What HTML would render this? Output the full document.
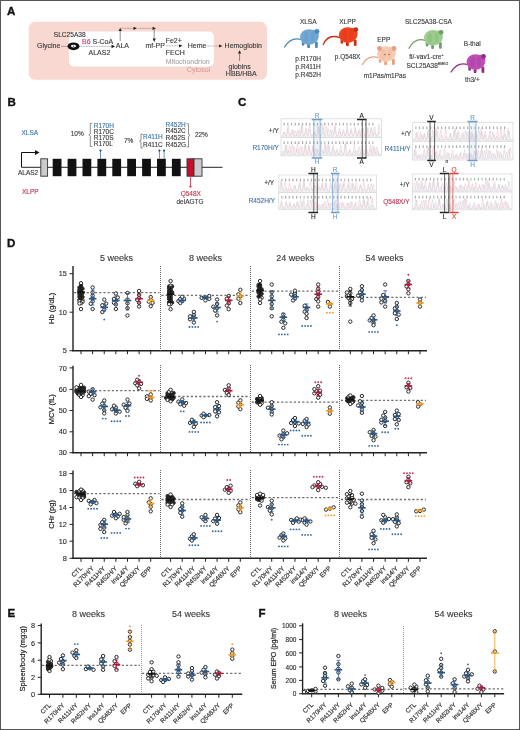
<!DOCTYPE html>
<html><head><meta charset="utf-8"><style>
html,body{margin:0;padding:0;background:#fff;}
svg{display:block;will-change:transform;}
text{font-family:"Liberation Sans",sans-serif;}
</style></head><body>
<svg width="520" height="730" viewBox="0 0 520 730">
<rect x="0" y="0" width="520" height="730" fill="#fff"/>
<text x="7.00" y="15.40" font-size="11.5" fill="#111" text-anchor="start" font-weight="bold" stroke="#111" stroke-width="0.35">A</text>
<rect x="28.7" y="21.8" width="238.3" height="58" rx="6.5" fill="#f9d8d2"/>
<rect x="69" y="31.5" width="145" height="35" rx="5" fill="#fff"/>
<text x="37.00" y="48.00" font-size="7" fill="#383838" text-anchor="start" font-weight="normal" stroke="#383838" stroke-width="0.12" >Glycine</text>
<text x="53.75" y="37.20" font-size="6.6" fill="#383838" text-anchor="start" font-weight="normal" stroke="#383838" stroke-width="0.12" >SLC25A38</text>
<line x1="61.00" y1="46.40" x2="67.00" y2="46.40" stroke="#777" stroke-width="0.6" />
<ellipse cx="73.5" cy="46.3" rx="6" ry="3.9" fill="#111"/>
<ellipse cx="73.5" cy="46.1" rx="2.6" ry="1.3" fill="#fff"/>
<circle cx="73.5" cy="46.1" r="0.7" fill="#111"/>
<line x1="79.50" y1="46.40" x2="112.00" y2="46.40" stroke="#777" stroke-width="0.6" stroke-dasharray="1,0.6"/>
<path d="M111.5,44.6 L115,46.4 L111.5,48.2 Z" fill="#222"/>
<text x="82.00" y="44.00" font-size="7" fill="#383838" text-anchor="start" font-weight="normal" stroke="#383838" stroke-width="0.12" ><tspan fill="#d2336a" stroke="#d2336a">B6</tspan> S-CoA</text>
<text x="88.50" y="55.00" font-size="7" fill="#383838" text-anchor="start" font-weight="normal" stroke="#383838" stroke-width="0.12" >ALAS2</text>
<text x="115.80" y="48.20" font-size="7" fill="#383838" text-anchor="start" font-weight="normal" stroke="#383838" stroke-width="0.12" >ALA</text>
<line x1="120.20" y1="41.00" x2="120.20" y2="30.00" stroke="#444" stroke-width="0.6" />
<path d="M118.6,31 L120.2,27.8 L121.8,31 Z" fill="#222"/>
<line x1="120.20" y1="28.30" x2="134.00" y2="28.30" stroke="#666" stroke-width="0.6" stroke-dasharray="1,0.6"/>
<path d="M133.5,26.7 L137,28.3 L133.5,29.9 Z" fill="#222"/>
<line x1="138.50" y1="28.30" x2="154.50" y2="28.30" stroke="#666" stroke-width="0.6" stroke-dasharray="1,0.6"/>
<path d="M152.5,26.7 L156,28.3 L152.5,29.9 Z" fill="#222"/>
<line x1="154.20" y1="28.30" x2="154.20" y2="39.00" stroke="#444" stroke-width="0.6" />
<path d="M152.6,38.6 L154.2,42 L155.8,38.6 Z" fill="#222"/>
<text x="145.40" y="48.20" font-size="7" fill="#383838" text-anchor="start" font-weight="normal" stroke="#383838" stroke-width="0.12" >mf-PP</text>
<text x="165.70" y="42.70" font-size="7" fill="#383838" text-anchor="start" font-weight="normal" stroke="#383838" stroke-width="0.12" >Fe2+</text>
<line x1="165.70" y1="45.80" x2="179.50" y2="45.80" stroke="#777" stroke-width="0.6" stroke-dasharray="1,0.6"/>
<path d="M179,44.2 L182.5,45.8 L179,47.4 Z" fill="#222"/>
<text x="165.70" y="54.70" font-size="7" fill="#383838" text-anchor="start" font-weight="normal" stroke="#383838" stroke-width="0.12" >FECH</text>
<text x="187.70" y="48.20" font-size="7" fill="#383838" text-anchor="start" font-weight="normal" stroke="#383838" stroke-width="0.12" >Heme</text>
<line x1="206.50" y1="46.00" x2="219.50" y2="46.00" stroke="#777" stroke-width="0.6" stroke-dasharray="1,0.6"/>
<path d="M219,44.4 L222.5,46 L219,47.6 Z" fill="#222"/>
<text x="224.60" y="48.20" font-size="7" fill="#383838" text-anchor="start" font-weight="normal" stroke="#383838" stroke-width="0.12" >Hemoglobin</text>
<line x1="239.60" y1="61.00" x2="239.60" y2="53.00" stroke="#444" stroke-width="0.6" />
<path d="M238,53.5 L239.6,50.2 L241.2,53.5 Z" fill="#222"/>
<text x="239.60" y="68.60" font-size="7" fill="#383838" text-anchor="middle" font-weight="normal" stroke="#383838" stroke-width="0.12" >globins</text>
<text x="241.20" y="76.40" font-size="7" fill="#383838" text-anchor="middle" font-weight="normal" stroke="#383838" stroke-width="0.12" >HBB/HBA</text>
<text x="165.80" y="64.10" font-size="7" fill="#b0aaaa" text-anchor="start" font-weight="normal" stroke="#b0aaaa" stroke-width="0.12" >Mitochondrion</text>
<text x="210.20" y="72.20" font-size="7" fill="#d9a19b" text-anchor="end" font-weight="normal" stroke="#d9a19b" stroke-width="0.12" >Cytosol</text>
<text x="308.20" y="23.50" font-size="6.5" fill="#383838" text-anchor="middle" font-weight="normal" stroke="#383838" stroke-width="0.12" >XLSA</text>
<g transform="translate(309,37.5) scale(1.0)"><path d="M-8,2 Q-18,-1 -24.5,9.5" stroke="#4f87bc" stroke-width="1.3" fill="none" stroke-linecap="round"/><rect x="-7.2" y="3" width="2.6" height="5.2" rx="1.2" fill="#4f87bc"/><rect x="-1.8" y="4" width="2.8" height="6.6" rx="1.2" fill="#4f87bc"/><rect x="6" y="4" width="2.8" height="6.4" rx="1.2" fill="#4f87bc"/><ellipse cx="0" cy="-0.5" rx="9" ry="7.8" fill="#72a8d4"/><ellipse cx="5" cy="-1.5" rx="4.8" ry="6.2" fill="#72a8d4"/><circle cx="8" cy="-6" r="2.4" fill="#4f87bc"/><ellipse cx="-3" cy="0" rx="2.5" ry="5.5" fill="#4f87bc" opacity="0.22"/><ellipse cx="3.5" cy="-1" rx="2" ry="5" fill="#4f87bc" opacity="0.18"/></g>
<text x="308.20" y="61.10" font-size="6.5" fill="#383838" text-anchor="middle" font-weight="normal" stroke="#383838" stroke-width="0.12" >p.R170H</text>
<text x="308.20" y="69.20" font-size="6.5" fill="#383838" text-anchor="middle" font-weight="normal" stroke="#383838" stroke-width="0.12" >p.R411H</text>
<text x="308.20" y="76.80" font-size="6.5" fill="#383838" text-anchor="middle" font-weight="normal" stroke="#383838" stroke-width="0.12" >p.R452H</text>
<text x="347.60" y="23.50" font-size="6.5" fill="#383838" text-anchor="middle" font-weight="normal" stroke="#383838" stroke-width="0.12" >XLPP</text>
<g transform="translate(347.8,35.6) scale(1.0)"><path d="M-8,2 Q-20,-2 -24.5,9" stroke="#cc2e14" stroke-width="1.3" fill="none" stroke-linecap="round"/><rect x="-7.2" y="3" width="2.6" height="5.2" rx="1.2" fill="#cc2e14"/><rect x="-1.8" y="4" width="2.8" height="6.6" rx="1.2" fill="#cc2e14"/><rect x="6" y="4" width="2.8" height="6.4" rx="1.2" fill="#cc2e14"/><ellipse cx="0" cy="-0.5" rx="9" ry="7.8" fill="#ee4320"/><ellipse cx="5" cy="-1.5" rx="4.8" ry="6.2" fill="#ee4320"/><circle cx="8" cy="-6" r="2.4" fill="#cc2e14"/><ellipse cx="-3" cy="0" rx="2.5" ry="5.5" fill="#cc2e14" opacity="0.22"/><ellipse cx="3.5" cy="-1" rx="2" ry="5" fill="#cc2e14" opacity="0.18"/></g>
<text x="347.60" y="59.20" font-size="6.5" fill="#383838" text-anchor="middle" font-weight="normal" stroke="#383838" stroke-width="0.12" >p.Q548X</text>
<text x="383.80" y="42.00" font-size="6.5" fill="#383838" text-anchor="middle" font-weight="normal" stroke="#383838" stroke-width="0.12" >EPP</text>
<g transform="translate(386,54.5) scale(1.0)"><path d="M-8,3 Q-18,0 -23.5,10" stroke="#e6a07c" stroke-width="1.3" fill="none" stroke-linecap="round"/><rect x="-7.2" y="3" width="2.6" height="5.2" rx="1.2" fill="#e6a07c"/><rect x="-1.8" y="4" width="2.8" height="6.6" rx="1.2" fill="#e6a07c"/><rect x="6" y="4" width="2.8" height="6.4" rx="1.2" fill="#e6a07c"/><ellipse cx="0" cy="-0.5" rx="9" ry="7.8" fill="#f6cbb3"/><ellipse cx="5" cy="-1.5" rx="4.8" ry="6.2" fill="#f6cbb3"/><circle cx="8" cy="-6" r="2.4" fill="#e6a07c"/><circle cx="-6.5" cy="-6" r="2.4" fill="#e6a07c"/><ellipse cx="-3" cy="0" rx="2.5" ry="5.5" fill="#e6a07c" opacity="0.22"/><ellipse cx="3.5" cy="-1" rx="2" ry="5" fill="#e6a07c" opacity="0.18"/><circle cx="-1" cy="0" r="0.8" fill="#a06050"/><circle cx="3" cy="0" r="0.8" fill="#a06050"/></g>
<text x="384.80" y="77.50" font-size="6.5" fill="#383838" text-anchor="middle" font-weight="normal" stroke="#383838" stroke-width="0.12" >m1Pas/m1Pas</text>
<text x="428.40" y="23.80" font-size="6.5" fill="#383838" text-anchor="middle" font-weight="normal" stroke="#383838" stroke-width="0.12" >SLC25A38-CSA</text>
<g transform="translate(433,38.3) scale(1.0)"><path d="M-8,2 Q-18,-1 -24,10" stroke="#6e9f66" stroke-width="1.3" fill="none" stroke-linecap="round"/><rect x="-7.2" y="3" width="2.6" height="5.2" rx="1.2" fill="#6e9f66"/><rect x="-1.8" y="4" width="2.8" height="6.6" rx="1.2" fill="#6e9f66"/><rect x="6" y="4" width="2.8" height="6.4" rx="1.2" fill="#6e9f66"/><ellipse cx="0" cy="-0.5" rx="9" ry="7.8" fill="#9ccd8e"/><ellipse cx="5" cy="-1.5" rx="4.8" ry="6.2" fill="#9ccd8e"/><circle cx="8" cy="-6" r="2.4" fill="#6e9f66"/><ellipse cx="-3" cy="0" rx="2.5" ry="5.5" fill="#6e9f66" opacity="0.22"/><ellipse cx="3.5" cy="-1" rx="2" ry="5" fill="#6e9f66" opacity="0.18"/></g>
<text x="409.30" y="59.30" font-size="6.5" fill="#383838" text-anchor="start" font-weight="normal" stroke="#383838" stroke-width="0.12" >fl/-vav1-cre<tspan font-size="3.5" dy="-3">+</tspan></text>
<text x="406.40" y="68.20" font-size="6.5" fill="#383838" text-anchor="start" font-weight="normal" stroke="#383838" stroke-width="0.12" >SCL25A38<tspan font-size="3.5" dy="-3">BMKO</tspan></text>
<text x="472.30" y="46.30" font-size="6.5" fill="#383838" text-anchor="middle" font-weight="normal" stroke="#383838" stroke-width="0.12" >B-thal</text>
<g transform="translate(475.5,62.5) scale(1.0)"><path d="M-8,2 Q-18,-1 -24.5,9.5" stroke="#8e2e87" stroke-width="1.3" fill="none" stroke-linecap="round"/><rect x="-7.2" y="3" width="2.6" height="5.2" rx="1.2" fill="#8e2e87"/><rect x="-1.8" y="4" width="2.8" height="6.6" rx="1.2" fill="#8e2e87"/><rect x="6" y="4" width="2.8" height="6.4" rx="1.2" fill="#8e2e87"/><ellipse cx="0" cy="-0.5" rx="9" ry="7.8" fill="#bf4db5"/><ellipse cx="5" cy="-1.5" rx="4.8" ry="6.2" fill="#bf4db5"/><circle cx="8" cy="-6" r="2.4" fill="#8e2e87"/><ellipse cx="-3" cy="0" rx="2.5" ry="5.5" fill="#8e2e87" opacity="0.22"/><ellipse cx="3.5" cy="-1" rx="2" ry="5" fill="#8e2e87" opacity="0.18"/></g>
<text x="472.40" y="81.80" font-size="6.5" fill="#383838" text-anchor="middle" font-weight="normal" stroke="#383838" stroke-width="0.12" >th3/+</text>
<text x="7.50" y="105.80" font-size="11.5" fill="#111" text-anchor="start" font-weight="bold" stroke="#111" stroke-width="0.35">B</text>
<text x="21.50" y="134.60" font-size="6.5" fill="#3f74a8" text-anchor="start" font-weight="normal" stroke="#3f74a8" stroke-width="0.12" >XLSA</text>
<text x="22.00" y="194.20" font-size="6.5" fill="#c1304f" text-anchor="start" font-weight="normal" stroke="#c1304f" stroke-width="0.12" >XLPP</text>
<path d="M21.5,167.3 L21.5,152.5 L35.5,152.5" stroke="#111" stroke-width="1" fill="none"/>
<path d="M35,150 L39.5,152.5 L35,155 Z" fill="#111"/>
<text x="18.00" y="174.60" font-size="6.5" fill="#383838" text-anchor="start" font-weight="normal" stroke="#383838" stroke-width="0.12" >ALAS2</text>
<line x1="21.50" y1="167.30" x2="222.50" y2="167.30" stroke="#222" stroke-width="1" />
<rect x="40.8" y="158.8" width="6.8" height="17.4" fill="#ccc" stroke="#333" stroke-width="0.9"/>
<rect x="52.70" y="158.8" width="8.8" height="17.4" fill="#111"/>
<rect x="67.60" y="158.8" width="8.8" height="17.4" fill="#111"/>
<rect x="82.50" y="158.8" width="8.8" height="17.4" fill="#111"/>
<rect x="97.40" y="158.8" width="8.8" height="17.4" fill="#111"/>
<rect x="112.30" y="158.8" width="8.8" height="17.4" fill="#111"/>
<rect x="127.20" y="158.8" width="8.8" height="17.4" fill="#111"/>
<rect x="142.10" y="158.8" width="8.8" height="17.4" fill="#111"/>
<rect x="157.00" y="158.8" width="8.8" height="17.4" fill="#111"/>
<rect x="171.90" y="158.8" width="8.8" height="17.4" fill="#111"/>
<rect x="187" y="158.8" width="7" height="17.4" fill="#c8102e" stroke="#333" stroke-width="0.9"/>
<rect x="194" y="158.8" width="8" height="17.4" fill="#ccc" stroke="#333" stroke-width="0.9"/>
<line x1="100.50" y1="151.00" x2="100.50" y2="158.80" stroke="#3f74a8" stroke-width="0.8" />
<circle cx="100.5" cy="150.6" r="1.1" fill="#1d4f80"/>
<line x1="159.40" y1="151.00" x2="159.40" y2="158.80" stroke="#3f74a8" stroke-width="0.8" />
<circle cx="159.4" cy="150.6" r="1.1" fill="#1d4f80"/>
<line x1="164.10" y1="151.00" x2="164.10" y2="158.80" stroke="#3f74a8" stroke-width="0.8" />
<circle cx="164.1" cy="150.6" r="1.1" fill="#1d4f80"/>
<line x1="190.50" y1="176.20" x2="190.50" y2="186.00" stroke="#c1304f" stroke-width="0.8" />
<circle cx="190.5" cy="186.6" r="1.1" fill="#c1304f"/>
<text x="190.80" y="195.50" font-size="6.5" fill="#c1304f" text-anchor="middle" font-weight="normal" stroke="#c1304f" stroke-width="0.12" >Q548X</text>
<text x="190.00" y="203.70" font-size="6.5" fill="#383838" text-anchor="middle" font-weight="normal" stroke="#383838" stroke-width="0.12" >delAGTG</text>
<text x="70.70" y="136.10" font-size="6.5" fill="#383838" text-anchor="start" font-weight="normal" stroke="#383838" stroke-width="0.12" >10%</text>
<text x="93.70" y="128.00" font-size="6.5" fill="#3f74a8" text-anchor="start" font-weight="normal" stroke="#3f74a8" stroke-width="0.12" >R170H</text>
<text x="93.70" y="134.20" font-size="6.5" fill="#383838" text-anchor="start" font-weight="normal" stroke="#383838" stroke-width="0.12" >R170C</text>
<text x="93.70" y="140.20" font-size="6.5" fill="#383838" text-anchor="start" font-weight="normal" stroke="#383838" stroke-width="0.12" >R170S</text>
<text x="93.70" y="146.20" font-size="6.5" fill="#383838" text-anchor="start" font-weight="normal" stroke="#383838" stroke-width="0.12" >R170L</text>
<path d="M92.3,123.3 L90.3,123.3 L90.3,133.9 L88.8,134.9 L90.3,135.9 L90.3,146.5 L92.3,146.5" stroke="#444" stroke-width="0.6" fill="none"/>
<text x="124.00" y="143.00" font-size="6.5" fill="#383838" text-anchor="start" font-weight="normal" stroke="#383838" stroke-width="0.12" >7%</text>
<path d="M143,134.2 L141,134.2 L141,140.1 L139.5,141.1 L141,142.1 L141,148 L143,148" stroke="#444" stroke-width="0.6" fill="none"/>
<text x="143.00" y="139.40" font-size="6.5" fill="#3f74a8" text-anchor="start" font-weight="normal" stroke="#3f74a8" stroke-width="0.12" >R411H</text>
<text x="143.00" y="146.70" font-size="6.5" fill="#383838" text-anchor="start" font-weight="normal" stroke="#383838" stroke-width="0.12" >R411C</text>
<text x="165.50" y="127.30" font-size="6.5" fill="#3f74a8" text-anchor="start" font-weight="normal" stroke="#3f74a8" stroke-width="0.12" >R452H</text>
<text x="165.50" y="133.40" font-size="6.5" fill="#383838" text-anchor="start" font-weight="normal" stroke="#383838" stroke-width="0.12" >R452C</text>
<text x="165.50" y="139.60" font-size="6.5" fill="#383838" text-anchor="start" font-weight="normal" stroke="#383838" stroke-width="0.12" >R452S</text>
<text x="165.50" y="146.70" font-size="6.5" fill="#383838" text-anchor="start" font-weight="normal" stroke="#383838" stroke-width="0.12" >R452G</text>
<path d="M186.5,123.8 L188.5,123.8 L188.5,134.4 L190.0,135.4 L188.5,136.4 L188.5,147 L186.5,147" stroke="#444" stroke-width="0.6" fill="none"/>
<text x="194.90" y="136.80" font-size="6.5" fill="#383838" text-anchor="start" font-weight="normal" stroke="#383838" stroke-width="0.12" >22%</text>
<text x="238.00" y="106.40" font-size="11.5" fill="#111" text-anchor="start" font-weight="bold" stroke="#111" stroke-width="0.35">C</text>
<rect x="281" y="118.8" width="100.5" height="37.000000000000014" fill="#fff" stroke="#d4d4d4" stroke-width="0.7"/>
<line x1="281.00" y1="137.30" x2="381.50" y2="137.30" stroke="#d6d6d6" stroke-width="1.0" />
<rect x="283.5" y="122.9" width="1.2" height="2.6" fill="#a8acb0"/>
<rect x="287.2" y="122.9" width="1.2" height="2.6" fill="#afbcaf"/>
<rect x="290.9" y="122.9" width="1.2" height="2.6" fill="#afbcaf"/>
<rect x="294.6" y="122.9" width="1.2" height="2.6" fill="#a8acb0"/>
<rect x="298.3" y="122.9" width="1.2" height="2.6" fill="#a8acb0"/>
<rect x="302.0" y="122.9" width="1.2" height="2.6" fill="#a8acb0"/>
<rect x="305.7" y="122.9" width="1.2" height="2.6" fill="#a8acb0"/>
<rect x="309.4" y="122.9" width="1.2" height="2.6" fill="#afbcaf"/>
<rect x="313.1" y="122.9" width="1.2" height="2.6" fill="#a8acb0"/>
<rect x="316.8" y="122.9" width="1.2" height="2.6" fill="#a8acb0"/>
<rect x="320.5" y="122.9" width="1.2" height="2.6" fill="#afbcaf"/>
<rect x="324.2" y="122.9" width="1.2" height="2.6" fill="#a8acb0"/>
<rect x="327.9" y="122.9" width="1.2" height="2.6" fill="#afbcaf"/>
<rect x="331.6" y="122.9" width="1.2" height="2.6" fill="#a8acb0"/>
<rect x="335.3" y="122.9" width="1.2" height="2.6" fill="#a8acb0"/>
<rect x="339.0" y="122.9" width="1.2" height="2.6" fill="#afbcaf"/>
<rect x="342.7" y="122.9" width="1.2" height="2.6" fill="#a8acb0"/>
<rect x="346.4" y="122.9" width="1.2" height="2.6" fill="#afbcaf"/>
<rect x="350.1" y="122.9" width="1.2" height="2.6" fill="#afbcaf"/>
<rect x="353.8" y="122.9" width="1.2" height="2.6" fill="#a8acb0"/>
<rect x="357.5" y="122.9" width="1.2" height="2.6" fill="#a8acb0"/>
<rect x="361.2" y="122.9" width="1.2" height="2.6" fill="#a8acb0"/>
<rect x="364.9" y="122.9" width="1.2" height="2.6" fill="#afbcaf"/>
<rect x="368.6" y="122.9" width="1.2" height="2.6" fill="#a8acb0"/>
<rect x="372.3" y="122.9" width="1.2" height="2.6" fill="#a8acb0"/>
<line x1="281.00" y1="136.10" x2="381.50" y2="136.10" stroke="#dcdcdc" stroke-width="0.5" />
<polyline points="282.0,135.8 282.5,135.8 283.0,135.5 283.5,134.3 284.0,132.4 284.5,132.3 285.0,134.2 285.5,135.4 286.0,135.7 286.5,135.1 287.0,132.5 287.5,129.1 288.0,129.5 288.5,133.1 289.0,135.3 289.5,135.8 290.0,135.7 290.5,135.2 291.0,133.2 291.5,130.6 292.0,131.0 292.5,133.8 293.0,135.4 293.5,135.7 294.0,135.2 294.5,133.1 295.0,130.6 295.5,131.3 296.0,134.0 296.5,135.5 297.0,135.8 297.5,135.7 298.0,134.8 298.5,132.3 299.0,129.9 299.5,131.3 300.0,134.2 300.5,135.5 301.0,134.3 301.5,130.1 302.0,125.5 302.5,127.3 303.0,132.6 303.5,135.3 304.0,135.8 304.5,135.7 305.0,135.0 305.5,132.0 306.0,127.7 306.5,127.8 307.0,132.2 307.5,135.1 308.0,135.6 308.5,134.1 309.0,129.2 309.5,124.2 310.0,126.5 310.5,132.4 311.0,135.2 311.5,135.8 312.0,135.8 312.5,135.8 313.0,135.5 313.5,134.2 314.0,131.9 314.5,131.4 315.0,133.5 315.5,135.3 316.0,135.7 316.5,135.5 317.0,133.8 317.5,129.3 318.0,126.2 318.5,129.4 319.0,133.8 319.5,135.5 320.0,135.8 320.5,135.8 321.0,135.3 321.5,132.8 322.0,127.2 322.5,124.6 323.0,129.1 323.5,134.0 324.0,135.6 324.5,135.7 325.0,134.9 325.5,131.6 326.0,126.4 326.5,126.2 327.0,131.3 327.5,134.8 328.0,135.7 328.5,135.8 329.0,135.7 329.5,134.9 330.0,132.3 330.5,129.8 331.0,131.0 331.5,134.1 332.0,135.5 332.5,135.8 333.0,135.7 333.5,134.9 334.0,131.6 334.5,126.1 335.0,125.7 335.5,131.0 336.0,134.7 336.5,135.7 337.0,135.8 337.5,135.8 338.0,135.5 338.5,134.0 339.0,130.3 339.5,128.0 340.0,130.8 340.5,134.3 341.0,135.6 341.5,135.8 342.0,135.7 342.5,135.3 343.0,133.8 343.5,132.1 344.0,132.6 344.5,134.6 345.0,135.6 345.5,135.6 346.0,134.4 346.5,130.4 347.0,125.9 347.5,127.5 348.0,132.6 348.5,135.2 349.0,135.8 349.5,135.6 350.0,134.6 350.5,132.2 351.0,130.8 351.5,132.6 352.0,134.9 352.5,135.7 353.0,135.8 353.5,135.6 354.0,134.2 354.5,130.0 355.0,126.4 355.5,128.9 356.0,133.4 356.5,135.4 357.0,135.8 357.5,135.8 358.0,135.5 358.5,134.0 359.0,130.7 359.5,129.2 360.0,131.9 360.5,134.8 361.0,135.7 361.5,135.7 362.0,135.2 362.5,132.8 363.0,128.9 363.5,128.5 364.0,132.3 364.5,135.0 365.0,135.7 365.5,135.8 366.0,135.8 366.5,135.3 367.0,133.2 367.5,129.2 368.0,128.2 368.5,131.8 369.0,134.8 369.5,135.7 370.0,135.7 370.5,134.8 371.0,131.7 371.5,128.4 372.0,129.6 372.5,133.5 373.0,135.4 373.5,135.4 374.0,133.9 374.5,132.1 375.0,132.4 375.5,134.4 376.0,135.5 376.5,135.8 377.0,135.8 377.5,135.6 378.0,134.0 378.5,129.1 379.0,124.2 379.5,126.7 380.0,132.5" fill="none" stroke="#eebcc6" stroke-width="0.5"/>
<polyline points="282.0,135.8 282.5,135.7 283.0,135.3 283.5,133.6 284.0,131.6 284.5,132.0 285.0,134.2 285.5,135.5 286.0,135.8 286.5,135.7 287.0,134.6 287.5,130.8 288.0,125.9 288.5,126.8 289.0,132.1 289.5,135.1 290.0,135.7 290.5,135.8 291.0,135.7 291.5,135.1 292.0,132.6 292.5,129.2 293.0,129.4 293.5,133.0 294.0,135.2 294.5,135.7 295.0,135.8 295.5,135.8 296.0,135.6 296.5,134.6 297.0,132.2 297.5,130.9 298.0,132.8 298.5,134.9 299.0,135.7 299.5,135.8 300.0,135.5 300.5,133.5 301.0,128.6 301.5,125.5 302.0,129.1 302.5,133.8 303.0,135.5 303.5,135.8 304.0,135.7 304.5,134.9 305.0,132.2 305.5,129.4 306.0,130.5 306.5,133.8 307.0,135.4 307.5,135.7 308.0,134.9 308.5,132.2 309.0,128.9 309.5,129.7 310.0,133.3 310.5,135.3 311.0,135.8 311.5,135.8 312.0,135.8 312.5,135.7 313.0,135.3 313.5,133.9 314.0,132.6 314.5,133.3 315.0,134.9 315.5,135.7 316.0,135.8 316.5,135.8 317.0,135.7 317.5,134.6 318.0,131.0 318.5,126.8 319.0,128.1 319.5,132.8 320.0,135.3 320.5,135.8 321.0,135.8 321.5,135.8 322.0,135.4 322.5,133.5 323.0,129.2 323.5,127.2 324.0,130.6 324.5,134.4 325.0,135.6 325.5,135.8 326.0,135.8 326.5,135.6 327.0,134.5 327.5,131.3 328.0,128.8 328.5,130.7 329.0,134.1 329.5,135.5 330.0,135.8 330.5,135.7 331.0,135.0 331.5,132.6 332.0,129.7 332.5,130.5 333.0,133.7 333.5,135.4 334.0,135.0 334.5,132.0 335.0,127.2 335.5,126.9 336.0,131.5 336.5,134.9 337.0,135.7 337.5,135.8 338.0,135.6 338.5,134.5 339.0,132.2 339.5,131.2 340.0,133.1 340.5,135.1 341.0,135.7 341.5,135.8 342.0,135.5 342.5,134.0 343.0,130.7 343.5,129.1 344.0,131.7 344.5,134.7 345.0,135.7 345.5,135.7 346.0,135.0 346.5,132.8 347.0,130.2 347.5,131.1 348.0,134.0 348.5,135.5 349.0,135.8 349.5,135.7 350.0,135.0 350.5,132.3 351.0,128.5 351.5,128.9 352.0,132.8 352.5,135.2 353.0,135.7 353.5,135.8 354.0,135.5 354.5,134.1 355.0,130.9 355.5,129.2 356.0,131.8 356.5,134.7 357.0,135.7 357.5,134.8 358.0,132.5 358.5,130.9 359.0,132.5 359.5,134.8 360.0,135.7 360.5,135.4 361.0,133.4 361.5,129.6 362.0,128.5 362.5,131.9 363.0,134.8 363.5,135.7 364.0,135.8 364.5,135.8 365.0,135.6 365.5,134.3 366.0,130.3 366.5,126.7 367.0,128.9 367.5,133.4 368.0,135.4 368.5,135.8 369.0,135.8 369.5,135.7 370.0,134.7 370.5,131.2 371.0,126.9 371.5,128.0 372.0,132.7 372.5,135.2 373.0,135.7 373.5,134.7 374.0,131.2 374.5,126.8 375.0,127.8 375.5,132.5 376.0,135.2 376.5,135.7 377.0,135.8 377.5,135.7 378.0,135.1 378.5,133.3 379.0,132.0 379.5,133.1 380.0,134.9" fill="none" stroke="#c8ccd6" stroke-width="0.5"/>
<rect x="283.5" y="141.4" width="1.2" height="2.6" fill="#a8acb0"/>
<rect x="287.2" y="141.4" width="1.2" height="2.6" fill="#afbcaf"/>
<rect x="290.9" y="141.4" width="1.2" height="2.6" fill="#a8acb0"/>
<rect x="294.6" y="141.4" width="1.2" height="2.6" fill="#a8acb0"/>
<rect x="298.3" y="141.4" width="1.2" height="2.6" fill="#a8acb0"/>
<rect x="302.0" y="141.4" width="1.2" height="2.6" fill="#a8acb0"/>
<rect x="305.7" y="141.4" width="1.2" height="2.6" fill="#a8acb0"/>
<rect x="309.4" y="141.4" width="1.2" height="2.6" fill="#a8acb0"/>
<rect x="313.1" y="141.4" width="1.2" height="2.6" fill="#a8acb0"/>
<rect x="316.8" y="141.4" width="1.2" height="2.6" fill="#a8acb0"/>
<rect x="320.5" y="141.4" width="1.2" height="2.6" fill="#a8acb0"/>
<rect x="324.2" y="141.4" width="1.2" height="2.6" fill="#afbcaf"/>
<rect x="327.9" y="141.4" width="1.2" height="2.6" fill="#a8acb0"/>
<rect x="331.6" y="141.4" width="1.2" height="2.6" fill="#a8acb0"/>
<rect x="335.3" y="141.4" width="1.2" height="2.6" fill="#a8acb0"/>
<rect x="339.0" y="141.4" width="1.2" height="2.6" fill="#a8acb0"/>
<rect x="342.7" y="141.4" width="1.2" height="2.6" fill="#a8acb0"/>
<rect x="346.4" y="141.4" width="1.2" height="2.6" fill="#a8acb0"/>
<rect x="350.1" y="141.4" width="1.2" height="2.6" fill="#a8acb0"/>
<rect x="353.8" y="141.4" width="1.2" height="2.6" fill="#a8acb0"/>
<rect x="357.5" y="141.4" width="1.2" height="2.6" fill="#afbcaf"/>
<rect x="361.2" y="141.4" width="1.2" height="2.6" fill="#a8acb0"/>
<rect x="364.9" y="141.4" width="1.2" height="2.6" fill="#a8acb0"/>
<rect x="368.6" y="141.4" width="1.2" height="2.6" fill="#a8acb0"/>
<rect x="372.3" y="141.4" width="1.2" height="2.6" fill="#afbcaf"/>
<line x1="281.00" y1="154.60" x2="381.50" y2="154.60" stroke="#dcdcdc" stroke-width="0.5" />
<polyline points="282.0,153.7 282.5,152.0 283.0,150.6 283.5,151.5 284.0,153.4 284.5,154.2 285.0,153.8 285.5,151.3 286.0,146.5 286.5,145.1 287.0,149.3 287.5,153.1 288.0,154.2 288.5,153.2 289.0,149.7 289.5,145.3 290.0,146.3 290.5,151.0 291.0,153.7 291.5,154.2 292.0,154.3 292.5,154.1 293.0,152.8 293.5,149.1 294.0,146.2 294.5,148.6 295.0,152.4 295.5,154.0 296.0,153.9 296.5,151.6 297.0,146.1 297.5,142.6 298.0,146.7 298.5,152.1 299.0,154.0 299.5,154.3 300.0,154.3 300.5,154.1 301.0,153.0 301.5,149.6 302.0,146.5 302.5,148.4 303.0,152.3 303.5,154.0 304.0,154.1 304.5,152.5 305.0,148.4 305.5,145.4 306.0,148.1 306.5,152.3 307.0,154.0 307.5,154.2 308.0,153.7 308.5,151.3 309.0,147.1 309.5,146.4 310.0,150.4 310.5,153.4 311.0,154.2 311.5,154.0 312.0,152.1 312.5,147.9 313.0,145.5 313.5,148.8 314.0,152.7 314.5,154.1 315.0,153.3 315.5,150.6 316.0,148.3 316.5,149.8 317.0,152.8 317.5,154.1 318.0,154.3 318.5,154.3 319.0,154.3 319.5,154.0 320.0,152.0 320.5,147.0 321.0,143.5 321.5,147.0 322.0,152.0 322.5,154.0 323.0,154.1 323.5,152.8 324.0,148.4 324.5,143.8 325.0,145.8 325.5,151.2 326.0,153.8 326.5,154.2 327.0,153.2 327.5,149.4 328.0,143.9 328.5,144.1 329.0,149.7 329.5,153.4 330.0,154.2 330.5,154.3 331.0,154.2 331.5,153.6 332.0,151.2 332.5,147.8 333.0,148.1 333.5,151.6 334.0,153.8 334.5,154.2 335.0,154.0 335.5,152.7 336.0,150.9 336.5,151.1 337.0,152.9 337.5,154.0 338.0,154.3 338.5,154.3 339.0,154.3 339.5,154.2 340.0,153.4 340.5,151.6 341.0,150.4 341.5,151.7 342.0,153.5 342.5,154.2 343.0,154.3 343.5,154.3 344.0,154.1 344.5,152.7 345.0,148.0 345.5,143.0 346.0,145.0 346.5,150.8 347.0,153.7 347.5,154.3 348.0,154.3 348.5,153.9 349.0,152.3 349.5,149.8 350.0,149.7 350.5,152.2 351.0,153.8 351.5,154.3 352.0,154.3 352.5,154.3 353.0,154.0 353.5,151.9 354.0,146.4 354.5,142.6 355.0,146.4 355.5,151.9 356.0,154.0 356.5,154.3 357.0,154.3 357.5,153.9 358.0,152.1 358.5,148.3 359.0,146.6 359.5,149.8 360.0,153.1 360.5,154.2 361.0,154.2 361.5,153.5 362.0,151.1 362.5,148.1 363.0,148.9 363.5,152.1 364.0,153.9 364.5,154.1 365.0,152.8 365.5,148.8 366.0,145.2 366.5,147.4 367.0,151.9 367.5,153.9 368.0,154.3 368.5,154.1 369.0,153.0 369.5,150.5 370.0,149.2 370.5,151.1 371.0,153.4 371.5,154.2 372.0,153.1 372.5,149.6 373.0,145.5 373.5,146.8 374.0,151.4 374.5,153.8 375.0,154.2 375.5,153.6 376.0,151.0 376.5,147.3 377.0,147.3 377.5,151.2 378.0,153.6 378.5,154.2 379.0,154.3 379.5,154.3 380.0,154.3" fill="none" stroke="#eebcc6" stroke-width="0.5"/>
<polyline points="282.0,154.3 282.5,154.3 283.0,154.3 283.5,154.3 284.0,154.1 284.5,152.9 285.0,148.8 285.5,144.6 286.0,146.5 286.5,151.4 287.0,153.8 287.5,153.7 288.0,151.9 288.5,149.8 289.0,150.4 289.5,152.8 290.0,154.0 290.5,154.2 291.0,153.6 291.5,150.5 292.0,145.2 292.5,144.4 293.0,149.3 293.5,153.2 294.0,154.2 294.5,154.3 295.0,154.3 295.5,154.0 296.0,152.6 296.5,149.7 297.0,148.7 297.5,151.2 298.0,153.5 298.5,154.2 299.0,153.7 299.5,151.3 300.0,147.2 300.5,146.6 301.0,150.5 301.5,153.4 302.0,154.2 302.5,154.3 303.0,154.3 303.5,154.0 304.0,152.0 304.5,147.2 305.0,144.2 305.5,147.7 306.0,152.4 306.5,154.0 307.0,154.2 307.5,153.1 308.0,149.4 308.5,144.9 309.0,146.2 309.5,151.1 310.0,153.7 310.5,154.3 311.0,154.3 311.5,154.1 312.0,153.0 312.5,150.0 313.0,147.5 313.5,149.5 314.0,152.7 314.5,154.1 315.0,154.3 315.5,154.3 316.0,154.3 316.5,154.2 317.0,153.3 317.5,151.0 318.0,149.4 318.5,150.9 319.0,153.2 319.5,154.1 320.0,154.3 320.5,154.3 321.0,154.2 321.5,153.4 322.0,151.5 322.5,150.5 323.0,151.9 323.5,153.6 324.0,154.2 324.5,153.6 325.0,150.6 325.5,145.6 326.0,145.0 326.5,149.7 327.0,153.3 327.5,154.2 328.0,153.4 328.5,150.4 329.0,146.1 329.5,146.5 330.0,150.9 330.5,153.6 331.0,154.2 331.5,154.3 332.0,153.9 332.5,151.8 333.0,147.2 333.5,144.9 334.0,148.7 334.5,152.8 335.0,154.1 335.5,154.2 336.0,153.6 336.5,151.4 337.0,148.8 337.5,149.5 338.0,152.4 338.5,154.0 339.0,154.2 339.5,153.4 340.0,150.2 340.5,145.5 341.0,145.6 341.5,150.4 342.0,153.5 342.5,154.2 343.0,154.3 343.5,153.9 344.0,151.8 344.5,146.8 345.0,144.1 345.5,147.9 346.0,152.5 346.5,154.1 347.0,154.3 347.5,154.3 348.0,154.3 348.5,153.9 349.0,152.5 349.5,150.4 350.0,150.6 350.5,152.7 351.0,154.0 351.5,154.3 352.0,154.3 352.5,154.0 353.0,152.9 353.5,150.9 354.0,150.5 354.5,152.3 355.0,153.8 355.5,154.1 356.0,153.3 356.5,151.4 357.0,150.6 357.5,152.2 358.0,153.7 358.5,154.2 359.0,154.3 359.5,154.3 360.0,154.2 360.5,153.1 361.0,149.5 361.5,145.5 362.0,146.9 362.5,151.5 363.0,153.8 363.5,154.3 364.0,154.3 364.5,154.3 365.0,153.9 365.5,152.2 366.0,149.3 366.5,148.9 367.0,151.7 367.5,153.7 368.0,154.2 368.5,154.3 369.0,154.1 369.5,152.6 370.0,148.4 370.5,145.3 371.0,148.0 371.5,152.3 372.0,154.0 372.5,154.2 373.0,153.7 373.5,151.4 374.0,147.7 374.5,147.4 375.0,151.0 375.5,153.6 376.0,154.2 376.5,153.9 377.0,152.6 377.5,150.8 378.0,150.9 378.5,152.8 379.0,154.0 379.5,154.3 380.0,154.3" fill="none" stroke="#c8ccd6" stroke-width="0.5"/>
<rect x="313.8" y="119.4" width="6.399999999999977" height="38.5" fill="#6f9ccc" opacity="0.12"/>
<path d="M311.7,119.4 L322.3,119.4 M311.7,157.9 L322.3,157.9" stroke="#6f9ccc" stroke-width="1.5" fill="none"/>
<line x1="313.80" y1="119.40" x2="313.80" y2="157.90" stroke="#6f9ccc" stroke-width="0.7" />
<line x1="320.20" y1="119.40" x2="320.20" y2="157.90" stroke="#6f9ccc" stroke-width="0.7" />
<text x="317.00" y="117.60" font-size="6.5" fill="#6f9ccc" text-anchor="middle" font-weight="normal" stroke="#6f9ccc" stroke-width="0.12" >R</text>
<text x="317.00" y="164.20" font-size="6.5" fill="#6f9ccc" text-anchor="middle" font-weight="normal" stroke="#6f9ccc" stroke-width="0.12" >H</text>
<path d="M357,119.4 L366.5,119.4 M357,157.9 L366.5,157.9" stroke="#222" stroke-width="1.5" fill="none"/>
<line x1="362.30" y1="119.40" x2="362.30" y2="157.90" stroke="#222" stroke-width="0.7" />
<line x1="366.00" y1="119.40" x2="366.00" y2="157.90" stroke="#222" stroke-width="0.7" />
<text x="361.75" y="117.60" font-size="6.5" fill="#222" text-anchor="middle" font-weight="normal" stroke="#222" stroke-width="0.12" >A</text>
<text x="361.75" y="164.20" font-size="6.5" fill="#222" text-anchor="middle" font-weight="normal" stroke="#222" stroke-width="0.12" >A</text>
<text x="278.80" y="133.30" font-size="6.5" fill="#383838" text-anchor="end" font-weight="normal" stroke="#383838" stroke-width="0.12" >+/Y</text>
<text x="278.80" y="149.70" font-size="6.5" fill="#3f74a8" text-anchor="end" font-weight="normal" stroke="#3f74a8" stroke-width="0.12" >R170H/Y</text>
<rect x="412.7" y="122.3" width="100.30000000000001" height="37.7" fill="#fff" stroke="#d4d4d4" stroke-width="0.7"/>
<line x1="412.70" y1="141.15" x2="513.00" y2="141.15" stroke="#d6d6d6" stroke-width="1.0" />
<rect x="415.2" y="126.5" width="1.2" height="2.6" fill="#afbcaf"/>
<rect x="418.9" y="126.5" width="1.2" height="2.6" fill="#afbcaf"/>
<rect x="422.6" y="126.5" width="1.2" height="2.6" fill="#a8acb0"/>
<rect x="426.3" y="126.5" width="1.2" height="2.6" fill="#a8acb0"/>
<rect x="430.0" y="126.5" width="1.2" height="2.6" fill="#afbcaf"/>
<rect x="433.7" y="126.5" width="1.2" height="2.6" fill="#afbcaf"/>
<rect x="437.4" y="126.5" width="1.2" height="2.6" fill="#a8acb0"/>
<rect x="441.1" y="126.5" width="1.2" height="2.6" fill="#a8acb0"/>
<rect x="444.8" y="126.5" width="1.2" height="2.6" fill="#a8acb0"/>
<rect x="448.5" y="126.5" width="1.2" height="2.6" fill="#a8acb0"/>
<rect x="452.2" y="126.5" width="1.2" height="2.6" fill="#a8acb0"/>
<rect x="455.9" y="126.5" width="1.2" height="2.6" fill="#a8acb0"/>
<rect x="459.6" y="126.5" width="1.2" height="2.6" fill="#a8acb0"/>
<rect x="463.3" y="126.5" width="1.2" height="2.6" fill="#a8acb0"/>
<rect x="467.0" y="126.5" width="1.2" height="2.6" fill="#afbcaf"/>
<rect x="470.7" y="126.5" width="1.2" height="2.6" fill="#afbcaf"/>
<rect x="474.4" y="126.5" width="1.2" height="2.6" fill="#afbcaf"/>
<rect x="478.1" y="126.5" width="1.2" height="2.6" fill="#a8acb0"/>
<rect x="481.8" y="126.5" width="1.2" height="2.6" fill="#a8acb0"/>
<rect x="485.5" y="126.5" width="1.2" height="2.6" fill="#a8acb0"/>
<rect x="489.2" y="126.5" width="1.2" height="2.6" fill="#a8acb0"/>
<rect x="492.9" y="126.5" width="1.2" height="2.6" fill="#a8acb0"/>
<rect x="496.6" y="126.5" width="1.2" height="2.6" fill="#a8acb0"/>
<rect x="500.3" y="126.5" width="1.2" height="2.6" fill="#a8acb0"/>
<rect x="504.0" y="126.5" width="1.2" height="2.6" fill="#a8acb0"/>
<line x1="412.70" y1="139.95" x2="513.00" y2="139.95" stroke="#dcdcdc" stroke-width="0.5" />
<polyline points="413.7,139.7 414.2,139.6 414.7,139.6 415.2,139.6 415.7,139.5 416.2,138.7 416.7,135.7 417.2,131.9 417.7,132.7 418.2,136.8 418.7,139.1 419.2,139.6 419.7,139.6 420.2,139.2 420.7,137.5 421.2,134.7 421.7,134.3 422.2,137.0 422.7,139.1 423.2,139.3 423.7,137.5 424.2,134.3 424.7,133.4 425.2,136.4 425.7,138.9 426.2,139.5 426.7,138.5 427.2,135.2 427.7,131.8 428.2,133.3 428.7,137.3 429.2,139.2 429.7,139.6 430.2,139.6 430.7,139.6 431.2,139.5 431.7,138.3 432.2,134.4 432.7,130.4 433.2,132.2 433.7,136.9 434.2,139.2 434.7,139.3 435.2,137.1 435.7,131.8 436.2,128.4 436.7,132.3 437.2,137.4 437.7,139.3 438.2,139.6 438.7,139.6 439.2,139.4 439.7,138.0 440.2,133.7 440.7,129.8 441.2,132.2 441.7,137.1 442.2,139.2 442.7,139.6 443.2,139.6 443.7,139.6 444.2,139.1 444.7,136.7 445.2,131.6 445.7,129.7 446.2,134.0 446.7,138.2 447.2,139.5 447.7,139.6 448.2,139.6 448.7,139.4 449.2,138.1 449.7,134.9 450.2,133.0 450.7,135.4 451.2,138.4 451.7,139.5 452.2,139.6 452.7,139.6 453.2,139.6 453.7,139.2 454.2,136.5 454.7,130.7 455.2,127.9 455.7,132.5 456.2,137.7 456.7,139.4 457.2,138.8 457.7,135.4 458.2,130.5 458.7,130.5 459.2,135.5 459.7,138.8 460.2,139.6 460.7,139.6 461.2,139.6 461.7,138.8 462.2,136.0 462.7,132.4 463.2,133.2 463.7,137.0 464.2,139.2 464.7,139.6 465.2,139.6 465.7,138.9 466.2,136.3 466.7,132.5 467.2,132.6 467.7,136.5 468.2,139.0 468.7,139.6 469.2,139.6 469.7,139.6 470.2,139.5 470.7,138.4 471.2,135.0 471.7,131.8 472.2,133.5 472.7,137.5 473.2,139.3 473.7,139.6 474.2,139.6 474.7,139.6 475.2,139.1 475.7,136.9 476.2,133.6 476.7,133.6 477.2,136.9 477.7,139.1 478.2,139.6 478.7,139.6 479.2,139.6 479.7,139.3 480.2,137.4 480.7,132.2 481.2,128.3 481.7,131.7 482.2,137.1 482.7,139.3 483.2,139.6 483.7,139.3 484.2,137.5 484.7,133.4 485.2,131.2 485.7,134.4 486.2,138.2 486.7,139.5 487.2,139.6 487.7,139.6 488.2,139.6 488.7,138.9 489.2,135.9 489.7,130.9 490.2,130.5 490.7,135.3 491.2,138.7 491.7,139.6 492.2,139.6 492.7,139.2 493.2,137.4 493.7,134.6 494.2,134.6 494.7,137.3 495.2,139.2 495.7,139.6 496.2,139.2 496.7,137.0 497.2,132.2 497.7,130.1 498.2,134.1 498.7,138.2 499.2,139.5 499.7,138.6 500.2,134.7 500.7,129.2 501.2,129.4 501.7,135.1 502.2,138.7 502.7,139.6 503.2,138.7 503.7,135.1 504.2,129.5 504.7,129.1 505.2,134.6 505.7,138.6 506.2,139.5 506.7,139.1 507.2,136.2 507.7,130.3 508.2,128.0 508.7,133.0 509.2,137.9 509.7,139.4 510.2,139.6 510.7,139.6 511.2,139.6" fill="none" stroke="#eebcc6" stroke-width="0.5"/>
<polyline points="413.7,139.6 414.2,139.6 414.7,139.4 415.2,138.2 415.7,134.9 416.2,132.4 416.7,134.7 417.2,138.1 417.7,139.4 418.2,139.6 418.7,139.6 419.2,139.1 419.7,136.9 420.2,133.0 420.7,132.3 421.2,135.9 421.7,138.8 422.2,139.6 422.7,139.5 423.2,138.4 423.7,136.1 424.2,134.8 424.7,136.7 425.2,138.8 425.7,139.5 426.2,139.6 426.7,139.3 427.2,137.2 427.7,132.2 428.2,129.3 428.7,133.0 429.2,137.7 429.7,139.4 430.2,139.6 430.7,139.6 431.2,139.3 431.7,137.9 432.2,136.1 432.7,136.3 433.2,138.2 433.7,139.4 434.2,139.6 434.7,139.6 435.2,139.6 435.7,139.1 436.2,136.8 436.7,132.4 437.2,131.1 437.7,135.1 438.2,138.5 438.7,139.5 439.2,139.6 439.7,139.6 440.2,139.6 440.7,139.1 441.2,137.3 441.7,135.1 442.2,135.7 442.7,138.1 443.2,139.4 443.7,139.6 444.2,139.6 444.7,139.6 445.2,139.2 445.7,137.7 446.2,136.1 446.7,136.6 447.2,138.4 447.7,139.4 448.2,139.6 448.7,139.6 449.2,139.5 449.7,138.4 450.2,135.8 450.7,134.3 451.2,136.2 451.7,138.7 452.2,139.5 452.7,139.2 453.2,136.9 453.7,132.0 454.2,129.8 454.7,133.8 455.2,138.1 455.7,139.5 456.2,138.7 456.7,135.7 457.2,132.6 457.7,133.8 458.2,137.4 458.7,139.3 459.2,139.6 459.7,139.6 460.2,139.6 460.7,139.3 461.2,137.9 461.7,135.3 462.2,134.7 462.7,137.1 463.2,139.0 463.7,139.6 464.2,138.8 464.7,135.5 465.2,130.6 465.7,130.5 466.2,135.4 466.7,138.8 467.2,139.6 467.7,139.5 468.2,138.3 468.7,134.7 469.2,131.0 469.7,132.8 470.2,137.2 470.7,139.2 471.2,138.9 471.7,136.6 472.2,133.9 472.7,134.6 473.2,137.6 473.7,139.3 474.2,139.4 474.7,137.9 475.2,134.0 475.7,131.2 476.2,133.9 476.7,137.8 477.2,139.4 477.7,138.4 478.2,134.5 478.7,129.6 479.2,130.7 479.7,136.0 480.2,139.0 480.7,138.8 481.2,135.8 481.7,131.5 482.2,131.8 482.7,136.2 483.2,139.0 483.7,139.2 484.2,137.6 484.7,135.0 485.2,134.8 485.7,137.4 486.2,139.2 486.7,139.6 487.2,139.6 487.7,139.6 488.2,139.4 488.7,138.4 489.2,136.1 489.7,135.2 490.2,137.1 490.7,139.0 491.2,139.6 491.7,138.9 492.2,136.2 492.7,132.0 493.2,131.8 493.7,136.0 494.2,138.9 494.7,139.6 495.2,139.6 495.7,139.0 496.2,137.3 496.7,136.0 497.2,137.1 497.7,138.8 498.2,139.5 498.7,139.6 499.2,139.6 499.7,139.6 500.2,139.5 500.7,138.8 501.2,136.7 501.7,135.2 502.2,136.6 502.7,138.7 503.2,139.5 503.7,138.7 504.2,136.2 504.7,133.8 505.2,135.1 505.7,138.0 506.2,139.4 506.7,139.6 507.2,139.6 507.7,139.1 508.2,136.5 508.7,132.0 509.2,131.2 509.7,135.3 510.2,138.6 510.7,139.5 511.2,139.6" fill="none" stroke="#c8ccd6" stroke-width="0.5"/>
<rect x="415.2" y="145.3" width="1.2" height="2.6" fill="#a8acb0"/>
<rect x="418.9" y="145.3" width="1.2" height="2.6" fill="#a8acb0"/>
<rect x="422.6" y="145.3" width="1.2" height="2.6" fill="#a8acb0"/>
<rect x="426.3" y="145.3" width="1.2" height="2.6" fill="#afbcaf"/>
<rect x="430.0" y="145.3" width="1.2" height="2.6" fill="#afbcaf"/>
<rect x="433.7" y="145.3" width="1.2" height="2.6" fill="#afbcaf"/>
<rect x="437.4" y="145.3" width="1.2" height="2.6" fill="#afbcaf"/>
<rect x="441.1" y="145.3" width="1.2" height="2.6" fill="#afbcaf"/>
<rect x="444.8" y="145.3" width="1.2" height="2.6" fill="#afbcaf"/>
<rect x="448.5" y="145.3" width="1.2" height="2.6" fill="#a8acb0"/>
<rect x="452.2" y="145.3" width="1.2" height="2.6" fill="#a8acb0"/>
<rect x="455.9" y="145.3" width="1.2" height="2.6" fill="#a8acb0"/>
<rect x="459.6" y="145.3" width="1.2" height="2.6" fill="#a8acb0"/>
<rect x="463.3" y="145.3" width="1.2" height="2.6" fill="#a8acb0"/>
<rect x="467.0" y="145.3" width="1.2" height="2.6" fill="#a8acb0"/>
<rect x="470.7" y="145.3" width="1.2" height="2.6" fill="#afbcaf"/>
<rect x="474.4" y="145.3" width="1.2" height="2.6" fill="#a8acb0"/>
<rect x="478.1" y="145.3" width="1.2" height="2.6" fill="#a8acb0"/>
<rect x="481.8" y="145.3" width="1.2" height="2.6" fill="#a8acb0"/>
<rect x="485.5" y="145.3" width="1.2" height="2.6" fill="#a8acb0"/>
<rect x="489.2" y="145.3" width="1.2" height="2.6" fill="#a8acb0"/>
<rect x="492.9" y="145.3" width="1.2" height="2.6" fill="#afbcaf"/>
<rect x="496.6" y="145.3" width="1.2" height="2.6" fill="#a8acb0"/>
<rect x="500.3" y="145.3" width="1.2" height="2.6" fill="#a8acb0"/>
<rect x="504.0" y="145.3" width="1.2" height="2.6" fill="#a8acb0"/>
<line x1="412.70" y1="158.80" x2="513.00" y2="158.80" stroke="#dcdcdc" stroke-width="0.5" />
<polyline points="413.7,157.0 414.2,153.3 414.7,150.1 415.2,152.3 415.7,156.4 416.2,158.2 416.7,158.2 417.2,157.1 417.7,155.0 418.2,154.5 418.7,156.4 419.2,158.0 419.7,158.3 420.2,157.1 420.7,154.6 421.2,153.5 421.7,155.6 422.2,157.7 422.7,158.3 423.2,157.1 423.7,153.3 424.2,149.5 424.7,151.5 425.2,156.0 425.7,158.1 426.2,158.5 426.7,158.3 427.2,156.7 427.7,151.8 428.2,146.7 428.7,149.0 429.2,155.0 429.7,157.9 430.2,158.5 430.7,158.5 431.2,158.5 431.7,158.1 432.2,155.8 432.7,150.0 433.2,146.3 433.7,150.5 434.2,156.1 434.7,158.2 435.2,158.2 435.7,156.6 436.2,153.0 436.7,151.1 437.2,153.9 437.7,157.2 438.2,158.3 438.7,158.2 439.2,156.3 439.7,152.1 440.2,149.8 440.7,153.1 441.2,157.0 441.7,158.3 442.2,158.5 442.7,158.4 443.2,157.4 443.7,153.5 444.2,148.6 444.7,149.4 445.2,154.7 445.7,157.8 446.2,158.4 446.7,158.5 447.2,158.4 447.7,157.7 448.2,155.2 448.7,152.8 449.2,153.9 449.7,156.8 450.2,158.2 450.7,158.5 451.2,158.2 451.7,156.6 452.2,152.6 452.7,150.4 453.2,153.3 453.7,157.0 454.2,158.3 454.7,157.6 455.2,155.7 455.7,154.5 456.2,156.0 456.7,157.7 457.2,158.4 457.7,158.5 458.2,158.2 458.7,156.7 459.2,154.4 459.7,154.2 460.2,156.4 460.7,158.0 461.2,158.5 461.7,158.5 462.2,158.4 462.7,158.0 463.2,156.0 463.7,153.2 464.2,153.4 464.7,156.2 465.2,158.0 465.7,158.3 466.2,157.2 466.7,154.6 467.2,153.3 467.7,155.3 468.2,157.6 468.7,158.4 469.2,158.2 469.7,156.9 470.2,154.2 470.7,153.1 471.2,155.4 471.7,157.7 472.2,158.4 472.7,158.5 473.2,158.2 473.7,156.6 474.2,152.8 474.7,150.9 475.2,153.8 475.7,157.2 476.2,158.3 476.7,158.3 477.2,156.9 477.7,152.9 478.2,149.4 478.7,151.8 479.2,156.2 479.7,158.1 480.2,158.1 480.7,156.0 481.2,150.6 481.7,147.1 482.2,151.0 482.7,156.2 483.2,158.2 483.7,158.5 484.2,158.5 484.7,158.5 485.2,158.1 485.7,155.8 486.2,150.9 486.7,148.7 487.2,152.8 487.7,157.0 488.2,158.3 488.7,158.4 489.2,157.9 489.7,155.4 490.2,151.4 490.7,151.1 491.2,155.0 491.7,157.7 492.2,158.4 492.7,158.5 493.2,158.3 493.7,157.5 494.2,155.5 494.7,154.4 495.2,156.0 495.7,157.8 496.2,158.4 496.7,158.4 497.2,157.9 497.7,155.3 498.2,151.3 498.7,151.0 499.2,154.9 499.7,157.7 500.2,158.4 500.7,157.9 501.2,156.1 501.7,154.2 502.2,154.9 502.7,157.1 503.2,158.3 503.7,158.5 504.2,158.5 504.7,158.4 505.2,157.9 505.7,155.6 506.2,152.3 506.7,152.4 507.2,155.7 507.7,157.9 508.2,158.4 508.7,158.4 509.2,157.6 509.7,154.0 510.2,148.3 510.7,147.8 511.2,153.4" fill="none" stroke="#eebcc6" stroke-width="0.5"/>
<polyline points="413.7,158.5 414.2,157.9 414.7,155.2 415.2,149.8 415.7,148.0 416.2,152.7 416.7,157.0 417.2,158.3 417.7,158.4 418.2,158.0 418.7,156.6 419.2,155.1 419.7,155.8 420.2,157.5 420.7,158.3 421.2,158.5 421.7,158.5 422.2,158.4 422.7,157.6 423.2,155.7 423.7,154.5 424.2,155.8 424.7,157.7 425.2,158.4 425.7,158.3 426.2,157.0 426.7,152.9 427.2,148.9 427.7,151.0 428.2,155.8 428.7,158.1 429.2,158.5 429.7,158.5 430.2,158.4 430.7,157.6 431.2,156.0 431.7,155.1 432.2,156.4 432.7,157.9 433.2,158.4 433.7,158.5 434.2,158.1 434.7,156.4 435.2,153.2 435.7,152.3 436.2,155.2 436.7,157.7 437.2,158.4 437.7,158.5 438.2,158.2 438.7,156.8 439.2,154.3 439.7,153.9 440.2,156.2 440.7,158.0 441.2,158.4 441.7,158.5 442.2,158.4 442.7,157.7 443.2,155.9 443.7,154.7 444.2,155.9 444.7,157.7 445.2,158.4 445.7,158.4 446.2,157.4 446.7,154.8 447.2,152.4 447.7,154.0 448.2,157.0 448.7,158.3 449.2,158.5 449.7,158.5 450.2,158.5 450.7,158.3 451.2,157.5 451.7,155.6 452.2,154.7 452.7,156.2 453.2,157.8 453.7,158.4 454.2,158.5 454.7,158.5 455.2,158.3 455.7,157.3 456.2,155.0 456.7,153.8 457.2,155.6 457.7,157.7 458.2,158.4 458.7,158.5 459.2,158.4 459.7,157.5 460.2,154.8 460.7,152.3 461.2,153.7 461.7,156.8 462.2,158.2 462.7,158.5 463.2,158.2 463.7,156.7 464.2,152.5 464.7,149.5 465.2,152.3 465.7,156.5 466.2,158.2 466.7,158.5 467.2,158.2 467.7,157.0 468.2,154.9 468.7,154.5 469.2,156.5 469.7,158.1 470.2,158.4 470.7,157.8 471.2,156.1 471.7,154.6 472.2,155.7 472.7,157.6 473.2,158.4 473.7,158.5 474.2,158.5 474.7,158.4 475.2,157.8 475.7,155.1 476.2,151.1 476.7,151.1 477.2,155.1 477.7,157.8 478.2,158.4 478.7,158.5 479.2,158.5 479.7,158.4 480.2,157.5 480.7,154.2 481.2,150.3 481.7,151.3 482.2,155.6 482.7,158.0 483.2,157.7 483.7,154.8 484.2,150.8 484.7,151.2 485.2,155.3 485.7,157.9 486.2,158.4 486.7,158.5 487.2,158.4 487.7,157.8 488.2,155.0 488.7,150.6 489.2,150.4 489.7,154.7 490.2,157.7 490.7,158.4 491.2,158.5 491.7,158.0 492.2,156.1 492.7,153.1 493.2,153.0 493.7,155.9 494.2,157.9 494.7,158.4 495.2,158.4 495.7,157.4 496.2,153.9 496.7,149.6 497.2,150.5 497.7,155.2 498.2,157.9 498.7,158.4 499.2,157.8 499.7,155.2 500.2,151.7 500.7,152.1 501.2,155.7 501.7,157.9 502.2,158.4 502.7,158.4 503.2,157.3 503.7,153.3 504.2,148.4 504.7,149.6 505.2,154.9 505.7,157.8 506.2,158.4 506.7,158.5 507.2,158.4 507.7,157.7 508.2,154.5 508.7,149.3 509.2,148.9 509.7,153.9 510.2,157.5 510.7,158.4 511.2,158.5" fill="none" stroke="#c8ccd6" stroke-width="0.5"/>
<path d="M427.2,121.6 L435.8,121.6 M427.2,160.4 L435.8,160.4" stroke="#222" stroke-width="1.5" fill="none"/>
<line x1="430.00" y1="121.60" x2="430.00" y2="160.40" stroke="#222" stroke-width="0.7" />
<line x1="434.60" y1="121.60" x2="434.60" y2="160.40" stroke="#222" stroke-width="0.7" />
<text x="431.50" y="119.80" font-size="6.5" fill="#222" text-anchor="middle" font-weight="normal" stroke="#222" stroke-width="0.12" >V</text>
<text x="431.50" y="166.70" font-size="6.5" fill="#222" text-anchor="middle" font-weight="normal" stroke="#222" stroke-width="0.12" >V</text>
<rect x="469.3" y="121.6" width="6.699999999999989" height="38.80000000000001" fill="#6f9ccc" opacity="0.12"/>
<path d="M467.5,121.6 L477.5,121.6 M467.5,160.4 L477.5,160.4" stroke="#6f9ccc" stroke-width="1.5" fill="none"/>
<line x1="469.30" y1="121.60" x2="469.30" y2="160.40" stroke="#6f9ccc" stroke-width="0.7" />
<line x1="476.00" y1="121.60" x2="476.00" y2="160.40" stroke="#6f9ccc" stroke-width="0.7" />
<text x="472.50" y="119.80" font-size="6.5" fill="#6f9ccc" text-anchor="middle" font-weight="normal" stroke="#6f9ccc" stroke-width="0.12" >R</text>
<text x="472.50" y="166.70" font-size="6.5" fill="#6f9ccc" text-anchor="middle" font-weight="normal" stroke="#6f9ccc" stroke-width="0.12" >H</text>
<text x="447.00" y="162.50" font-size="5" fill="#383838" text-anchor="middle" font-weight="normal" stroke="#383838" stroke-width="0.12" >n</text>
<text x="411.00" y="136.30" font-size="6.5" fill="#383838" text-anchor="end" font-weight="normal" stroke="#383838" stroke-width="0.12" >+/Y</text>
<text x="410.50" y="151.20" font-size="6.5" fill="#3f74a8" text-anchor="end" font-weight="normal" stroke="#3f74a8" stroke-width="0.12" >R411H/Y</text>
<rect x="278.8" y="175" width="97.69999999999999" height="34.599999999999994" fill="#fff" stroke="#d4d4d4" stroke-width="0.7"/>
<line x1="278.80" y1="192.30" x2="376.50" y2="192.30" stroke="#d6d6d6" stroke-width="1.0" />
<rect x="281.3" y="178.7" width="1.2" height="2.6" fill="#a8acb0"/>
<rect x="285.0" y="178.7" width="1.2" height="2.6" fill="#a8acb0"/>
<rect x="288.7" y="178.7" width="1.2" height="2.6" fill="#a8acb0"/>
<rect x="292.4" y="178.7" width="1.2" height="2.6" fill="#a8acb0"/>
<rect x="296.1" y="178.7" width="1.2" height="2.6" fill="#a8acb0"/>
<rect x="299.8" y="178.7" width="1.2" height="2.6" fill="#a8acb0"/>
<rect x="303.5" y="178.7" width="1.2" height="2.6" fill="#a8acb0"/>
<rect x="307.2" y="178.7" width="1.2" height="2.6" fill="#afbcaf"/>
<rect x="310.9" y="178.7" width="1.2" height="2.6" fill="#a8acb0"/>
<rect x="314.6" y="178.7" width="1.2" height="2.6" fill="#a8acb0"/>
<rect x="318.3" y="178.7" width="1.2" height="2.6" fill="#afbcaf"/>
<rect x="322.0" y="178.7" width="1.2" height="2.6" fill="#a8acb0"/>
<rect x="325.7" y="178.7" width="1.2" height="2.6" fill="#afbcaf"/>
<rect x="329.4" y="178.7" width="1.2" height="2.6" fill="#a8acb0"/>
<rect x="333.1" y="178.7" width="1.2" height="2.6" fill="#a8acb0"/>
<rect x="336.8" y="178.7" width="1.2" height="2.6" fill="#a8acb0"/>
<rect x="340.5" y="178.7" width="1.2" height="2.6" fill="#a8acb0"/>
<rect x="344.2" y="178.7" width="1.2" height="2.6" fill="#afbcaf"/>
<rect x="347.9" y="178.7" width="1.2" height="2.6" fill="#a8acb0"/>
<rect x="351.6" y="178.7" width="1.2" height="2.6" fill="#afbcaf"/>
<rect x="355.3" y="178.7" width="1.2" height="2.6" fill="#a8acb0"/>
<rect x="359.0" y="178.7" width="1.2" height="2.6" fill="#a8acb0"/>
<rect x="362.7" y="178.7" width="1.2" height="2.6" fill="#afbcaf"/>
<rect x="366.4" y="178.7" width="1.2" height="2.6" fill="#a8acb0"/>
<rect x="370.1" y="178.7" width="1.2" height="2.6" fill="#a8acb0"/>
<line x1="278.80" y1="191.10" x2="376.50" y2="191.10" stroke="#dcdcdc" stroke-width="0.5" />
<polyline points="279.8,189.3 280.3,185.2 280.8,181.2 281.3,183.3 281.8,188.1 282.3,190.4 282.8,190.8 283.3,190.6 283.8,189.2 284.3,185.3 284.8,182.2 285.3,184.6 285.8,188.8 286.3,190.5 286.8,190.8 287.3,190.8 287.8,190.7 288.3,190.2 288.8,187.6 289.3,183.3 289.8,182.8 290.3,186.8 290.8,189.9 291.3,190.7 291.8,190.8 292.3,190.8 292.8,190.7 293.3,190.0 293.8,187.5 294.3,184.8 294.8,185.8 295.3,188.9 295.8,190.5 296.3,190.8 296.8,190.8 297.3,190.7 297.8,190.2 298.3,188.0 298.8,184.8 299.3,184.9 299.8,188.1 300.3,190.3 300.8,190.7 301.3,190.8 301.8,190.8 302.3,190.6 302.8,189.4 303.3,185.3 303.8,181.2 304.3,183.0 304.8,187.9 305.3,190.3 305.8,190.5 306.3,189.3 306.8,187.1 307.3,186.8 307.8,188.8 308.3,190.3 308.8,190.7 309.3,189.9 309.8,186.4 310.3,181.2 310.8,181.4 311.3,186.5 311.8,189.9 312.3,190.7 312.8,190.7 313.3,189.7 313.8,186.4 314.3,183.0 314.8,184.5 315.3,188.5 315.8,190.4 316.3,190.7 316.8,190.1 317.3,187.6 317.8,184.3 318.3,184.6 318.8,188.1 319.3,190.3 319.8,190.8 320.3,190.6 320.8,189.5 321.3,186.8 321.8,184.9 322.3,186.9 322.8,189.6 323.3,190.6 323.8,190.8 324.3,190.7 324.8,189.9 325.3,186.9 325.8,183.5 326.3,184.5 326.8,188.3 327.3,190.3 327.8,190.8 328.3,190.8 328.8,190.8 329.3,190.5 329.8,188.9 330.3,184.8 330.8,182.5 331.3,185.5 331.8,189.2 332.3,190.6 332.8,190.8 333.3,190.8 333.8,190.7 334.3,190.2 334.8,187.4 335.3,182.6 335.8,181.6 336.3,186.1 336.8,189.7 337.3,190.7 337.8,190.8 338.3,190.8 338.8,190.7 339.3,190.2 339.8,187.8 340.3,183.7 340.8,183.0 341.3,186.9 341.8,189.9 342.3,190.6 342.8,189.5 343.3,185.6 343.8,181.4 344.3,183.0 344.8,187.8 345.3,190.3 345.8,190.8 346.3,190.8 346.8,190.8 347.3,190.6 347.8,189.1 348.3,184.7 348.8,180.8 349.3,183.4 349.8,188.3 350.3,190.4 350.8,190.8 351.3,190.7 351.8,189.9 352.3,186.8 352.8,182.7 353.3,183.4 353.8,187.7 354.3,190.2 354.8,190.6 355.3,189.5 355.8,185.6 356.3,181.5 356.8,183.2 357.3,188.0 357.8,190.3 358.3,190.8 358.8,190.8 359.3,190.4 359.8,188.7 360.3,186.0 360.8,185.9 361.3,188.5 361.8,190.3 362.3,190.3 362.8,188.0 363.3,183.2 363.8,181.3 364.3,185.4 364.8,189.4 365.3,190.6 365.8,190.8 366.3,190.8 366.8,190.8 367.3,190.6 367.8,189.6 368.3,187.7 368.8,187.0 369.3,188.7 369.8,190.3 370.3,190.7 370.8,190.8 371.3,190.8 371.8,190.6 372.3,189.4 372.8,186.4 373.3,184.5 373.8,186.7 374.3,189.6 374.8,190.6" fill="none" stroke="#eebcc6" stroke-width="0.5"/>
<polyline points="279.8,190.8 280.3,190.4 280.8,188.4 281.3,184.4 281.8,182.9 282.3,186.4 282.8,189.7 283.3,190.7 283.8,190.8 284.3,190.8 284.8,190.7 285.3,190.4 285.8,189.1 286.3,187.7 286.8,188.2 287.3,189.8 287.8,190.6 288.3,190.8 288.8,190.8 289.3,190.6 289.8,189.8 290.3,188.2 290.8,187.7 291.3,189.1 291.8,190.4 292.3,190.8 292.8,190.8 293.3,190.8 293.8,190.4 294.3,188.9 294.8,186.3 295.3,186.0 295.8,188.5 296.3,190.3 296.8,190.7 297.3,190.8 297.8,190.8 298.3,190.6 298.8,189.1 299.3,184.9 299.8,181.4 300.3,183.8 300.8,188.5 301.3,190.4 301.8,190.8 302.3,190.6 302.8,189.2 303.3,185.0 303.8,181.3 304.3,183.7 304.8,188.3 305.3,190.4 305.8,190.8 306.3,190.4 306.8,189.2 307.3,187.6 307.8,187.9 308.3,189.6 308.8,190.6 309.3,190.8 309.8,190.8 310.3,190.6 310.8,189.9 311.3,188.3 311.8,187.8 312.3,189.1 312.8,190.4 313.3,190.7 313.8,190.4 314.3,188.6 314.8,185.8 315.3,185.6 315.8,188.3 316.3,190.3 316.8,190.7 317.3,190.8 317.8,190.7 318.3,190.0 318.8,188.1 319.3,186.9 319.8,188.1 320.3,190.0 320.8,190.6 321.3,189.4 321.8,185.7 322.3,182.2 322.8,184.1 323.3,188.4 323.8,190.4 324.3,190.7 324.8,189.9 325.3,186.6 325.8,182.1 326.3,182.6 326.8,187.3 327.3,190.1 327.8,190.7 328.3,190.8 328.8,190.8 329.3,190.6 329.8,189.7 330.3,187.2 330.8,185.4 331.3,187.1 331.8,189.6 332.3,190.6 332.8,190.8 333.3,190.5 333.8,189.1 334.3,186.0 334.8,184.5 335.3,187.0 335.8,189.7 336.3,190.7 336.8,190.8 337.3,190.7 337.8,190.1 338.3,187.7 338.8,184.4 339.3,184.7 339.8,188.2 340.3,190.3 340.8,190.8 341.3,190.8 341.8,190.4 342.3,188.4 342.8,184.9 343.3,184.0 343.8,187.3 344.3,190.0 344.8,190.7 345.3,190.8 345.8,190.8 346.3,190.7 346.8,190.2 347.3,188.0 347.8,184.9 348.3,185.3 348.8,188.4 349.3,190.3 349.8,190.8 350.3,190.6 350.8,189.5 351.3,186.2 351.8,183.1 352.3,185.0 352.8,188.8 353.3,190.5 353.8,190.7 354.3,189.9 354.8,187.8 355.3,185.9 355.8,187.2 356.3,189.6 356.8,190.6 357.3,190.8 357.8,190.8 358.3,190.8 358.8,190.6 359.3,189.5 359.8,186.5 360.3,184.4 360.8,186.4 361.3,189.4 361.8,190.6 362.3,190.8 362.8,190.7 363.3,190.4 363.8,189.1 364.3,187.9 364.8,188.5 365.3,190.0 365.8,190.7 366.3,190.8 366.8,190.5 367.3,189.1 367.8,185.8 368.3,184.1 368.8,186.7 369.3,189.6 369.8,190.6 370.3,189.2 370.8,185.9 371.3,183.8 371.8,186.2 372.3,189.4 372.8,190.6 373.3,190.8 373.8,190.8 374.3,190.8 374.8,190.8" fill="none" stroke="#c8ccd6" stroke-width="0.5"/>
<rect x="281.3" y="196.0" width="1.2" height="2.6" fill="#a8acb0"/>
<rect x="285.0" y="196.0" width="1.2" height="2.6" fill="#a8acb0"/>
<rect x="288.7" y="196.0" width="1.2" height="2.6" fill="#a8acb0"/>
<rect x="292.4" y="196.0" width="1.2" height="2.6" fill="#a8acb0"/>
<rect x="296.1" y="196.0" width="1.2" height="2.6" fill="#a8acb0"/>
<rect x="299.8" y="196.0" width="1.2" height="2.6" fill="#afbcaf"/>
<rect x="303.5" y="196.0" width="1.2" height="2.6" fill="#afbcaf"/>
<rect x="307.2" y="196.0" width="1.2" height="2.6" fill="#a8acb0"/>
<rect x="310.9" y="196.0" width="1.2" height="2.6" fill="#a8acb0"/>
<rect x="314.6" y="196.0" width="1.2" height="2.6" fill="#a8acb0"/>
<rect x="318.3" y="196.0" width="1.2" height="2.6" fill="#afbcaf"/>
<rect x="322.0" y="196.0" width="1.2" height="2.6" fill="#a8acb0"/>
<rect x="325.7" y="196.0" width="1.2" height="2.6" fill="#a8acb0"/>
<rect x="329.4" y="196.0" width="1.2" height="2.6" fill="#a8acb0"/>
<rect x="333.1" y="196.0" width="1.2" height="2.6" fill="#a8acb0"/>
<rect x="336.8" y="196.0" width="1.2" height="2.6" fill="#a8acb0"/>
<rect x="340.5" y="196.0" width="1.2" height="2.6" fill="#a8acb0"/>
<rect x="344.2" y="196.0" width="1.2" height="2.6" fill="#a8acb0"/>
<rect x="347.9" y="196.0" width="1.2" height="2.6" fill="#a8acb0"/>
<rect x="351.6" y="196.0" width="1.2" height="2.6" fill="#a8acb0"/>
<rect x="355.3" y="196.0" width="1.2" height="2.6" fill="#a8acb0"/>
<rect x="359.0" y="196.0" width="1.2" height="2.6" fill="#afbcaf"/>
<rect x="362.7" y="196.0" width="1.2" height="2.6" fill="#a8acb0"/>
<rect x="366.4" y="196.0" width="1.2" height="2.6" fill="#a8acb0"/>
<rect x="370.1" y="196.0" width="1.2" height="2.6" fill="#afbcaf"/>
<line x1="278.80" y1="208.40" x2="376.50" y2="208.40" stroke="#dcdcdc" stroke-width="0.5" />
<polyline points="279.8,208.1 280.3,207.9 280.8,206.8 281.3,204.4 281.8,203.2 282.3,205.2 282.8,207.3 283.3,208.0 283.8,208.1 284.3,208.1 284.8,208.0 285.3,207.2 285.8,204.9 286.3,203.1 286.8,204.5 287.3,206.9 287.8,207.9 288.3,207.8 288.8,206.3 289.3,203.1 289.8,201.7 290.3,204.3 290.8,207.1 291.3,208.0 291.8,208.1 292.3,208.1 292.8,207.8 293.3,206.7 293.8,204.7 294.3,204.3 294.8,206.2 295.3,207.7 295.8,208.1 296.3,207.9 296.8,206.7 297.3,203.9 297.8,202.4 298.3,204.5 298.8,207.1 299.3,208.0 299.8,208.1 300.3,208.1 300.8,208.0 301.3,207.2 301.8,204.5 302.3,201.7 302.8,202.9 303.3,206.2 303.8,207.8 304.3,208.1 304.8,208.1 305.3,208.1 305.8,207.8 306.3,206.6 306.8,204.3 307.3,203.8 307.8,205.9 308.3,207.6 308.8,208.0 309.3,207.9 309.8,206.4 310.3,202.6 310.8,200.0 311.3,202.6 311.8,206.4 312.3,207.9 312.8,208.1 313.3,208.1 313.8,208.1 314.3,207.6 314.8,205.5 315.3,202.2 315.8,202.0 316.3,205.2 316.8,207.5 317.3,208.0 317.8,207.7 318.3,206.3 318.8,204.3 319.3,204.4 319.8,206.5 320.3,207.8 320.8,208.1 321.3,208.1 321.8,207.7 322.3,206.3 322.8,204.0 323.3,203.8 323.8,206.0 324.3,207.6 324.8,208.1 325.3,208.1 325.8,208.1 326.3,207.6 326.8,205.4 327.3,200.7 327.8,198.7 328.3,202.7 328.8,206.7 329.3,207.9 329.8,207.7 330.3,206.0 330.8,203.3 331.3,203.2 331.8,205.8 332.3,207.6 332.8,208.1 333.3,208.1 333.8,208.1 334.3,207.7 334.8,205.7 335.3,201.7 335.8,200.2 336.3,203.7 336.8,207.0 337.3,208.0 337.8,208.1 338.3,208.1 338.8,207.9 339.3,206.8 339.8,204.1 340.3,202.3 340.8,204.2 341.3,206.9 341.8,207.9 342.3,207.6 342.8,205.9 343.3,203.2 343.8,203.2 344.3,205.9 344.8,207.6 345.3,208.1 345.8,208.1 346.3,208.1 346.8,207.8 347.3,206.3 347.8,203.7 348.3,203.1 348.8,205.4 349.3,207.5 349.8,208.0 350.3,207.9 350.8,206.9 351.3,204.0 351.8,201.8 352.3,203.6 352.8,206.6 353.3,207.9 353.8,208.1 354.3,207.8 354.8,206.2 355.3,203.0 355.8,202.0 356.3,204.7 356.8,207.2 357.3,208.0 357.8,208.1 358.3,208.1 358.8,208.1 359.3,207.7 359.8,206.1 360.3,204.0 360.8,204.2 361.3,206.4 361.8,207.8 362.3,207.1 362.8,203.5 363.3,198.5 363.8,199.0 364.3,204.1 364.8,207.3 365.3,208.0 365.8,208.1 366.3,208.1 366.8,207.8 367.3,205.7 367.8,200.7 368.3,197.5 368.8,201.1 369.3,206.0 369.8,207.8 370.3,208.1 370.8,207.5 371.3,204.7 371.8,199.5 372.3,198.1 372.8,202.8 373.3,206.8 373.8,208.0 374.3,208.1 374.8,208.1" fill="none" stroke="#eebcc6" stroke-width="0.5"/>
<polyline points="279.8,208.0 280.3,207.2 280.8,204.2 281.3,200.5 281.8,201.5 282.3,205.4 282.8,207.6 283.3,208.1 283.8,208.1 284.3,208.1 284.8,207.7 285.3,205.7 285.8,202.0 286.3,201.0 286.8,204.4 287.3,207.2 287.8,208.0 288.3,208.1 288.8,207.9 289.3,206.7 289.8,204.2 290.3,203.4 290.8,205.5 291.3,207.4 291.8,208.0 292.3,208.0 292.8,207.3 293.3,205.4 293.8,203.7 294.3,204.8 294.8,207.0 295.3,207.9 295.8,207.4 296.3,204.9 296.8,201.7 297.3,202.2 297.8,205.6 298.3,207.6 298.8,208.0 299.3,207.4 299.8,204.8 300.3,200.7 300.8,200.4 301.3,204.5 301.8,207.3 302.3,207.6 302.8,205.3 303.3,200.8 303.8,199.4 304.3,203.4 304.8,206.9 305.3,208.0 305.8,208.1 306.3,208.0 306.8,207.3 307.3,204.3 307.8,199.8 308.3,199.9 308.8,204.3 309.3,207.3 309.8,208.0 310.3,208.1 310.8,208.1 311.3,207.9 311.8,206.5 312.3,202.4 312.8,199.2 313.3,201.7 313.8,206.0 314.3,207.8 314.8,208.1 315.3,208.1 315.8,207.8 316.3,206.7 316.8,205.3 317.3,205.5 317.8,207.0 318.3,207.9 318.8,208.1 319.3,208.1 319.8,208.1 320.3,207.7 320.8,206.2 321.3,204.3 321.8,204.6 322.3,206.7 322.8,207.8 323.3,208.0 323.8,207.5 324.3,205.3 324.8,201.6 325.3,201.3 325.8,204.8 326.3,207.4 326.8,208.0 327.3,208.1 327.8,207.8 328.3,206.2 328.8,203.3 329.3,202.7 329.8,205.3 330.3,207.4 330.8,208.0 331.3,208.1 331.8,208.1 332.3,208.0 332.8,207.4 333.3,204.9 333.8,201.6 334.3,201.9 334.8,205.4 335.3,207.6 335.8,208.1 336.3,207.9 336.8,206.8 337.3,204.5 337.8,203.6 338.3,205.5 338.8,207.4 339.3,208.0 339.8,208.1 340.3,208.1 340.8,208.0 341.3,207.2 341.8,204.8 342.3,202.1 342.8,203.2 343.3,206.3 343.8,207.8 344.3,208.1 344.8,208.1 345.3,208.0 345.8,207.5 346.3,205.6 346.8,203.1 347.3,203.6 347.8,206.2 348.3,207.7 348.8,208.0 349.3,207.0 349.8,204.3 350.3,201.7 350.8,203.2 351.3,206.4 351.8,207.8 352.3,208.1 352.8,208.1 353.3,208.1 353.8,207.7 354.3,206.3 354.8,204.3 355.3,204.6 355.8,206.6 356.3,207.8 356.8,208.1 357.3,208.1 357.8,208.0 358.3,207.4 358.8,204.7 359.3,200.2 359.8,199.6 360.3,203.9 360.8,207.2 361.3,208.0 361.8,208.1 362.3,208.1 362.8,207.7 363.3,205.8 363.8,201.6 364.3,199.8 364.8,203.2 365.3,206.8 365.8,207.8 366.3,206.2 366.8,202.7 367.3,201.1 367.8,203.9 368.3,206.9 368.8,208.0 369.3,208.1 369.8,208.1 370.3,208.1 370.8,207.7 371.3,206.4 371.8,205.0 372.3,205.5 372.8,207.1 373.3,207.9 373.8,208.1 374.3,208.1 374.8,208.1" fill="none" stroke="#c8ccd6" stroke-width="0.5"/>
<path d="M308.5,173.4 L318,173.4 M308.5,212.6 L318,212.6" stroke="#222" stroke-width="1.5" fill="none"/>
<line x1="313.80" y1="173.40" x2="313.80" y2="212.60" stroke="#222" stroke-width="0.7" />
<line x1="317.30" y1="173.40" x2="317.30" y2="212.60" stroke="#222" stroke-width="0.7" />
<text x="313.25" y="171.60" font-size="6.5" fill="#222" text-anchor="middle" font-weight="normal" stroke="#222" stroke-width="0.12" >H</text>
<text x="313.25" y="218.90" font-size="6.5" fill="#222" text-anchor="middle" font-weight="normal" stroke="#222" stroke-width="0.12" >H</text>
<rect x="332.5" y="173.4" width="5.5" height="39.19999999999999" fill="#6f9ccc" opacity="0.12"/>
<path d="M330.8,173.4 L339.5,173.4 M330.8,212.6 L339.5,212.6" stroke="#6f9ccc" stroke-width="1.5" fill="none"/>
<line x1="332.50" y1="173.40" x2="332.50" y2="212.60" stroke="#6f9ccc" stroke-width="0.7" />
<line x1="338.00" y1="173.40" x2="338.00" y2="212.60" stroke="#6f9ccc" stroke-width="0.7" />
<text x="335.15" y="171.60" font-size="6.5" fill="#6f9ccc" text-anchor="middle" font-weight="normal" stroke="#6f9ccc" stroke-width="0.12" >R</text>
<text x="335.15" y="218.90" font-size="6.5" fill="#6f9ccc" text-anchor="middle" font-weight="normal" stroke="#6f9ccc" stroke-width="0.12" >H</text>
<text x="274.20" y="185.40" font-size="6.5" fill="#383838" text-anchor="end" font-weight="normal" stroke="#383838" stroke-width="0.12" >+/Y</text>
<text x="275.00" y="202.70" font-size="6.5" fill="#3f74a8" text-anchor="end" font-weight="normal" stroke="#3f74a8" stroke-width="0.12" >R452H/Y</text>
<rect x="412.3" y="174" width="99.69999999999999" height="35.80000000000001" fill="#fff" stroke="#d4d4d4" stroke-width="0.7"/>
<line x1="412.30" y1="191.90" x2="512.00" y2="191.90" stroke="#d6d6d6" stroke-width="1.0" />
<rect x="414.8" y="177.9" width="1.2" height="2.6" fill="#a8acb0"/>
<rect x="418.5" y="177.9" width="1.2" height="2.6" fill="#a8acb0"/>
<rect x="422.2" y="177.9" width="1.2" height="2.6" fill="#a8acb0"/>
<rect x="425.9" y="177.9" width="1.2" height="2.6" fill="#a8acb0"/>
<rect x="429.6" y="177.9" width="1.2" height="2.6" fill="#a8acb0"/>
<rect x="433.3" y="177.9" width="1.2" height="2.6" fill="#a8acb0"/>
<rect x="437.0" y="177.9" width="1.2" height="2.6" fill="#afbcaf"/>
<rect x="440.7" y="177.9" width="1.2" height="2.6" fill="#afbcaf"/>
<rect x="444.4" y="177.9" width="1.2" height="2.6" fill="#afbcaf"/>
<rect x="448.1" y="177.9" width="1.2" height="2.6" fill="#a8acb0"/>
<rect x="451.8" y="177.9" width="1.2" height="2.6" fill="#a8acb0"/>
<rect x="455.5" y="177.9" width="1.2" height="2.6" fill="#a8acb0"/>
<rect x="459.2" y="177.9" width="1.2" height="2.6" fill="#a8acb0"/>
<rect x="462.9" y="177.9" width="1.2" height="2.6" fill="#a8acb0"/>
<rect x="466.6" y="177.9" width="1.2" height="2.6" fill="#a8acb0"/>
<rect x="470.3" y="177.9" width="1.2" height="2.6" fill="#afbcaf"/>
<rect x="474.0" y="177.9" width="1.2" height="2.6" fill="#afbcaf"/>
<rect x="477.7" y="177.9" width="1.2" height="2.6" fill="#afbcaf"/>
<rect x="481.4" y="177.9" width="1.2" height="2.6" fill="#afbcaf"/>
<rect x="485.1" y="177.9" width="1.2" height="2.6" fill="#a8acb0"/>
<rect x="488.8" y="177.9" width="1.2" height="2.6" fill="#a8acb0"/>
<rect x="492.5" y="177.9" width="1.2" height="2.6" fill="#a8acb0"/>
<rect x="496.2" y="177.9" width="1.2" height="2.6" fill="#afbcaf"/>
<rect x="499.9" y="177.9" width="1.2" height="2.6" fill="#afbcaf"/>
<rect x="503.6" y="177.9" width="1.2" height="2.6" fill="#afbcaf"/>
<line x1="412.30" y1="190.70" x2="512.00" y2="190.70" stroke="#dcdcdc" stroke-width="0.5" />
<polyline points="413.3,189.7 413.8,187.1 414.3,183.0 414.8,182.9 415.3,186.9 415.8,189.7 416.3,190.3 416.8,190.4 417.3,190.3 417.8,189.3 418.3,186.2 418.8,183.1 419.3,184.6 419.8,188.3 420.3,190.0 420.8,190.1 421.3,188.7 421.8,185.3 422.3,183.3 422.8,185.9 423.3,189.1 423.8,190.2 424.3,189.0 424.8,184.7 425.3,179.9 425.8,181.6 426.3,187.0 426.8,189.8 427.3,190.4 427.8,190.4 428.3,190.4 428.8,190.0 429.3,188.0 429.8,184.2 430.3,182.9 430.8,186.3 431.3,189.4 431.8,190.3 432.3,190.0 432.8,188.0 433.3,182.9 433.8,179.8 434.3,183.6 434.8,188.4 435.3,190.1 435.8,190.4 436.3,190.2 436.8,188.9 437.3,184.6 437.8,180.2 438.3,182.2 438.8,187.4 439.3,189.9 439.8,190.4 440.3,190.4 440.8,190.4 441.3,189.9 441.8,187.7 442.3,184.0 442.8,183.4 443.3,186.9 443.8,189.6 444.3,190.3 444.8,190.3 445.3,189.3 445.8,186.1 446.3,182.5 446.8,183.8 447.3,187.9 447.8,190.0 448.3,190.4 448.8,190.3 449.3,189.4 449.8,187.2 450.3,185.7 450.8,187.2 451.3,189.4 451.8,190.3 452.3,190.2 452.8,189.0 453.3,184.9 453.8,180.8 454.3,182.7 454.8,187.5 455.3,189.9 455.8,190.0 456.3,188.6 456.8,186.9 457.3,187.1 457.8,189.0 458.3,190.1 458.8,190.4 459.3,190.4 459.8,190.2 460.3,189.0 460.8,186.3 461.3,184.8 461.8,186.9 462.3,189.4 462.8,190.3 463.3,190.4 463.8,190.2 464.3,189.0 464.8,185.7 465.3,183.3 465.8,185.4 466.3,188.8 466.8,190.2 467.3,190.3 467.8,189.2 468.3,185.2 468.8,179.8 469.3,180.6 469.8,186.2 470.3,189.6 470.8,190.3 471.3,189.4 471.8,186.6 472.3,183.8 472.8,185.2 473.3,188.5 473.8,190.1 474.3,190.2 474.8,188.6 475.3,184.7 475.8,182.0 476.3,184.7 476.8,188.6 477.3,190.1 477.8,190.3 478.3,189.3 478.8,186.6 479.3,184.2 479.8,185.9 480.3,188.9 480.8,190.2 481.3,190.4 481.8,190.4 482.3,190.3 482.8,189.3 483.3,186.7 483.8,184.5 484.3,186.1 484.8,189.0 485.3,190.2 485.8,190.4 486.3,190.3 486.8,189.1 487.3,185.1 487.8,180.3 488.3,181.6 488.8,186.9 489.3,189.8 489.8,190.2 490.3,189.2 490.8,187.3 491.3,186.6 491.8,188.3 492.3,189.9 492.8,190.3 493.3,189.8 493.8,187.1 494.3,182.4 494.8,181.4 495.3,185.8 495.8,189.3 496.3,190.3 496.8,190.4 497.3,190.3 497.8,189.5 498.3,187.1 498.8,185.2 499.3,186.5 499.8,189.1 500.3,190.2 500.8,190.4 501.3,189.9 501.8,188.3 502.3,185.9 502.8,186.2 503.3,188.6 503.8,190.0 504.3,190.4 504.8,190.3 505.3,189.9 505.8,188.4 506.3,186.8 506.8,187.4 507.3,189.2 507.8,190.2 508.3,190.4 508.8,190.4 509.3,190.4 509.8,190.4 510.3,190.4" fill="none" stroke="#eebcc6" stroke-width="0.5"/>
<polyline points="413.3,190.4 413.8,190.4 414.3,190.4 414.8,190.4 415.3,190.3 415.8,189.3 416.3,185.7 416.8,181.1 417.3,182.0 417.8,186.9 418.3,189.7 418.8,190.3 419.3,190.4 419.8,190.3 420.3,189.2 420.8,185.4 421.3,180.9 421.8,182.2 422.3,187.2 422.8,189.8 423.3,189.9 423.8,188.0 424.3,185.6 424.8,186.0 425.3,188.6 425.8,190.0 426.3,190.4 426.8,190.4 427.3,190.4 427.8,190.3 428.3,189.2 428.8,185.8 429.3,182.1 429.8,183.6 430.3,187.8 430.8,190.0 431.3,190.4 431.8,190.0 432.3,188.0 432.8,183.3 433.3,180.7 433.8,184.4 434.3,188.7 434.8,190.2 435.3,190.4 435.8,190.3 436.3,189.4 436.8,186.2 437.3,182.0 437.8,182.8 438.3,187.3 438.8,189.8 439.3,190.3 439.8,190.1 440.3,188.7 440.8,186.5 441.3,186.3 441.8,188.5 442.3,190.0 442.8,190.4 443.3,190.3 443.8,189.9 444.3,188.4 444.8,186.6 445.3,187.1 445.8,189.1 446.3,190.2 446.8,190.4 447.3,190.0 447.8,187.8 448.3,183.0 448.8,180.6 449.3,184.5 449.8,188.8 450.3,190.2 450.8,190.3 451.3,189.9 451.8,188.6 452.3,187.3 452.8,188.0 453.3,189.6 453.8,190.3 454.3,189.9 454.8,188.3 455.3,186.4 455.8,186.8 456.3,188.9 456.8,190.1 457.3,190.4 457.8,190.4 458.3,190.4 458.8,189.9 459.3,188.1 459.8,185.3 460.3,185.3 460.8,188.1 461.3,189.9 461.8,190.4 462.3,190.2 462.8,189.1 463.3,187.2 463.8,186.8 464.3,188.6 464.8,190.0 465.3,190.4 465.8,190.4 466.3,190.4 466.8,190.4 467.3,190.0 467.8,188.1 468.3,185.1 468.8,184.8 469.3,187.7 469.8,189.8 470.3,190.3 470.8,190.0 471.3,188.8 471.8,187.2 472.3,187.4 472.8,189.1 473.3,190.1 473.8,190.1 474.3,188.9 474.8,186.8 475.3,186.4 475.8,188.4 476.3,189.9 476.8,190.3 477.3,190.4 477.8,190.3 478.3,189.9 478.8,188.4 479.3,186.5 479.8,186.9 480.3,189.0 480.8,190.1 481.3,189.8 481.8,187.7 482.3,184.5 482.8,184.5 483.3,187.7 483.8,189.8 484.3,190.3 484.8,189.5 485.3,186.2 485.8,181.2 486.3,181.2 486.8,186.2 487.3,189.5 487.8,190.2 488.3,189.0 488.8,185.8 489.3,183.6 489.8,185.9 490.3,189.0 490.8,190.2 491.3,190.4 491.8,190.4 492.3,190.3 492.8,189.3 493.3,186.7 493.8,184.5 494.3,186.1 494.8,189.0 495.3,190.2 495.8,190.4 496.3,190.4 496.8,190.4 497.3,190.2 497.8,189.1 498.3,186.2 498.8,184.0 499.3,185.9 499.8,189.0 500.3,190.2 500.8,190.2 501.3,189.2 501.8,186.4 502.3,184.5 502.8,186.4 503.3,189.2 503.8,190.2 504.3,189.4 504.8,186.8 505.3,184.4 505.8,185.9 506.3,188.8 506.8,190.1 507.3,190.2 507.8,188.9 508.3,184.8 508.8,181.1 509.3,183.4 509.8,188.0 510.3,190.0" fill="none" stroke="#c8ccd6" stroke-width="0.5"/>
<rect x="414.8" y="195.8" width="1.2" height="2.6" fill="#a8acb0"/>
<rect x="418.5" y="195.8" width="1.2" height="2.6" fill="#a8acb0"/>
<rect x="422.2" y="195.8" width="1.2" height="2.6" fill="#a8acb0"/>
<rect x="425.9" y="195.8" width="1.2" height="2.6" fill="#a8acb0"/>
<rect x="429.6" y="195.8" width="1.2" height="2.6" fill="#a8acb0"/>
<rect x="433.3" y="195.8" width="1.2" height="2.6" fill="#a8acb0"/>
<rect x="437.0" y="195.8" width="1.2" height="2.6" fill="#afbcaf"/>
<rect x="440.7" y="195.8" width="1.2" height="2.6" fill="#a8acb0"/>
<rect x="444.4" y="195.8" width="1.2" height="2.6" fill="#a8acb0"/>
<rect x="448.1" y="195.8" width="1.2" height="2.6" fill="#afbcaf"/>
<rect x="451.8" y="195.8" width="1.2" height="2.6" fill="#a8acb0"/>
<rect x="455.5" y="195.8" width="1.2" height="2.6" fill="#afbcaf"/>
<rect x="459.2" y="195.8" width="1.2" height="2.6" fill="#a8acb0"/>
<rect x="462.9" y="195.8" width="1.2" height="2.6" fill="#afbcaf"/>
<rect x="466.6" y="195.8" width="1.2" height="2.6" fill="#a8acb0"/>
<rect x="470.3" y="195.8" width="1.2" height="2.6" fill="#afbcaf"/>
<rect x="474.0" y="195.8" width="1.2" height="2.6" fill="#afbcaf"/>
<rect x="477.7" y="195.8" width="1.2" height="2.6" fill="#a8acb0"/>
<rect x="481.4" y="195.8" width="1.2" height="2.6" fill="#a8acb0"/>
<rect x="485.1" y="195.8" width="1.2" height="2.6" fill="#a8acb0"/>
<rect x="488.8" y="195.8" width="1.2" height="2.6" fill="#afbcaf"/>
<rect x="492.5" y="195.8" width="1.2" height="2.6" fill="#afbcaf"/>
<rect x="496.2" y="195.8" width="1.2" height="2.6" fill="#afbcaf"/>
<rect x="499.9" y="195.8" width="1.2" height="2.6" fill="#a8acb0"/>
<rect x="503.6" y="195.8" width="1.2" height="2.6" fill="#a8acb0"/>
<line x1="412.30" y1="208.60" x2="512.00" y2="208.60" stroke="#dcdcdc" stroke-width="0.5" />
<polyline points="413.3,208.3 413.8,208.3 414.3,208.3 414.8,208.3 415.3,207.9 415.8,205.9 416.3,201.7 416.8,200.0 417.3,203.5 417.8,207.0 418.3,208.1 418.8,208.3 419.3,208.3 419.8,208.1 420.3,206.8 420.8,203.4 421.3,200.7 421.8,203.0 422.3,206.6 422.8,208.0 423.3,208.3 423.8,208.3 424.3,207.8 424.8,205.4 425.3,200.9 425.8,199.8 426.3,203.9 426.8,207.2 427.3,208.2 427.8,207.7 428.3,205.1 428.8,199.7 429.3,197.9 429.8,202.5 430.3,206.8 430.8,208.1 431.3,208.3 431.8,208.3 432.3,208.3 432.8,208.0 433.3,206.8 433.8,204.8 434.3,204.6 434.8,206.5 435.3,207.9 435.8,208.3 436.3,208.3 436.8,208.3 437.3,208.2 437.8,207.3 438.3,203.5 438.8,198.2 439.3,198.5 439.8,204.0 440.3,207.4 440.8,208.2 441.3,208.3 441.8,208.2 442.3,207.7 442.8,206.0 443.3,204.6 443.8,205.5 444.3,207.3 444.8,208.1 445.3,208.3 445.8,208.3 446.3,208.3 446.8,208.1 447.3,206.9 447.8,204.7 448.3,204.0 448.8,206.0 449.3,207.7 449.8,208.2 450.3,208.3 450.8,208.3 451.3,208.2 451.8,207.7 452.3,205.1 452.8,200.8 453.3,200.2 453.8,204.3 454.3,207.4 454.8,208.1 455.3,207.0 455.8,204.7 456.3,203.6 456.8,205.5 457.3,207.5 457.8,208.2 458.3,208.3 458.8,208.2 459.3,207.4 459.8,204.6 460.3,200.8 460.8,201.5 461.3,205.5 461.8,207.8 462.3,208.3 462.8,208.3 463.3,208.2 463.8,207.1 464.3,203.1 464.8,198.1 465.3,199.1 465.8,204.5 466.3,207.6 466.8,208.2 467.3,207.8 467.8,206.4 468.3,205.0 468.8,205.6 469.3,207.3 469.8,208.1 470.3,208.3 470.8,208.3 471.3,208.3 471.8,208.2 472.3,207.5 472.8,205.8 473.3,204.8 473.8,206.1 474.3,207.6 474.8,208.2 475.3,208.3 475.8,208.3 476.3,208.3 476.8,207.9 477.3,206.4 477.8,204.3 478.3,204.5 478.8,206.6 479.3,208.0 479.8,208.3 480.3,208.3 480.8,208.3 481.3,207.7 481.8,205.1 482.3,200.3 482.8,199.1 483.3,203.5 483.8,207.1 484.3,208.2 484.8,208.3 485.3,208.3 485.8,208.2 486.3,207.1 486.8,203.8 487.3,200.7 487.8,202.3 488.3,206.1 488.8,207.9 489.3,208.3 489.8,208.3 490.3,208.3 490.8,208.0 491.3,206.7 491.8,204.2 492.3,203.5 492.8,205.7 493.3,207.7 493.8,208.2 494.3,208.3 494.8,208.2 495.3,207.7 495.8,205.5 496.3,202.6 496.8,203.1 497.3,206.1 497.8,207.9 498.3,208.3 498.8,208.3 499.3,208.3 499.8,208.0 500.3,206.2 500.8,201.7 501.3,198.8 501.8,202.1 502.3,206.4 502.8,208.0 503.3,208.3 503.8,208.0 504.3,206.3 504.8,202.6 505.3,200.8 505.8,203.8 506.3,207.1 506.8,208.1 507.3,207.5 507.8,205.7 508.3,204.6 508.8,205.9 509.3,207.6 509.8,208.2 510.3,208.3" fill="none" stroke="#eebcc6" stroke-width="0.5"/>
<polyline points="413.3,208.3 413.8,208.3 414.3,208.0 414.8,206.2 415.3,201.8 415.8,199.2 416.3,202.4 416.8,206.6 417.3,208.1 417.8,208.3 418.3,208.3 418.8,207.8 419.3,206.4 419.8,204.5 420.3,204.9 420.8,206.9 421.3,208.0 421.8,208.3 422.3,207.9 422.8,206.0 423.3,201.8 423.8,199.9 424.3,203.4 424.8,207.0 425.3,208.1 425.8,208.3 426.3,208.2 426.8,207.5 427.3,206.0 427.8,205.2 428.3,206.3 428.8,207.7 429.3,208.2 429.8,208.3 430.3,208.3 430.8,208.2 431.3,207.1 431.8,203.5 432.3,199.6 432.8,201.1 433.3,205.6 433.8,207.8 434.3,207.8 434.8,205.8 435.3,202.3 435.8,201.8 436.3,205.1 436.8,207.6 437.3,208.2 437.8,208.1 438.3,206.8 438.8,203.0 439.3,199.7 439.8,201.9 440.3,206.1 440.8,208.0 441.3,208.2 441.8,207.8 442.3,206.0 442.8,203.9 443.3,204.3 443.8,206.6 444.3,208.0 444.8,208.3 445.3,208.2 445.8,207.1 446.3,203.3 446.8,198.8 447.3,200.1 447.8,205.0 448.3,207.7 448.8,208.1 449.3,207.0 449.8,205.1 450.3,204.6 450.8,206.3 451.3,207.8 451.8,208.2 452.3,208.3 452.8,208.1 453.3,206.8 453.8,202.9 454.3,199.1 454.8,201.1 455.3,205.8 455.8,207.9 456.3,208.3 456.8,208.2 457.3,207.4 457.8,204.9 458.3,202.3 458.8,203.5 459.3,206.5 459.8,208.0 460.3,208.3 460.8,208.3 461.3,208.3 461.8,207.8 462.3,205.4 462.8,201.1 463.3,200.1 463.8,204.1 464.3,207.3 464.8,208.0 465.3,206.1 465.8,201.7 466.3,199.0 466.8,202.4 467.3,206.6 467.8,208.1 468.3,208.0 468.8,206.7 469.3,204.1 469.8,203.3 470.3,205.6 470.8,207.6 471.3,208.2 471.8,208.3 472.3,208.3 472.8,208.1 473.3,207.1 473.8,204.4 474.3,202.3 474.8,204.0 475.3,206.9 475.8,208.1 476.3,208.3 476.8,208.3 477.3,208.2 477.8,207.7 478.3,206.0 478.8,204.2 479.3,204.9 479.8,207.0 480.3,208.1 480.8,208.3 481.3,208.3 481.8,208.3 482.3,208.1 482.8,207.0 483.3,204.9 483.8,204.1 484.3,206.0 484.8,207.7 485.3,208.2 485.8,207.5 486.3,205.1 486.8,202.1 487.3,202.8 487.8,206.1 488.3,207.9 488.8,208.3 489.3,207.9 489.8,206.1 490.3,202.6 490.8,201.7 491.3,204.8 491.8,207.4 492.3,208.2 492.8,208.3 493.3,208.3 493.8,208.2 494.3,207.3 494.8,204.2 495.3,200.5 495.8,201.6 496.3,205.6 496.8,207.8 497.3,207.7 497.8,205.7 498.3,203.3 498.8,203.9 499.3,206.5 499.8,208.0 500.3,208.3 500.8,208.2 501.3,207.8 501.8,205.7 502.3,202.5 502.8,202.4 503.3,205.6 503.8,207.7 504.3,208.2 504.8,208.3 505.3,208.2 505.8,207.6 506.3,205.2 506.8,202.2 507.3,202.7 507.8,206.0 508.3,207.9 508.8,208.3 509.3,208.3 509.8,208.3 510.3,208.3" fill="none" stroke="#c8ccd6" stroke-width="0.5"/>
<path d="M439.8,173.5 L449.2,173.5 M439.8,212.5 L449.2,212.5" stroke="#222" stroke-width="1.5" fill="none"/>
<line x1="444.60" y1="173.50" x2="444.60" y2="212.50" stroke="#222" stroke-width="0.7" />
<line x1="448.70" y1="173.50" x2="448.70" y2="212.50" stroke="#222" stroke-width="0.7" />
<text x="444.50" y="171.70" font-size="6.5" fill="#222" text-anchor="middle" font-weight="normal" stroke="#222" stroke-width="0.12" >L</text>
<text x="444.50" y="218.80" font-size="6.5" fill="#222" text-anchor="middle" font-weight="normal" stroke="#222" stroke-width="0.12" >L</text>
<path d="M449.8,173.5 L458.5,173.5 M449.8,212.5 L458.5,212.5" stroke="#e0403a" stroke-width="1.5" fill="none"/>
<line x1="449.80" y1="173.50" x2="449.80" y2="212.50" stroke="#e0403a" stroke-width="0.7" />
<line x1="452.90" y1="173.50" x2="452.90" y2="212.50" stroke="#e0403a" stroke-width="0.7" />
<text x="454.15" y="171.70" font-size="6.5" fill="#e0403a" text-anchor="middle" font-weight="normal" stroke="#e0403a" stroke-width="0.12" >Q</text>
<text x="454.15" y="218.80" font-size="6.5" fill="#e0403a" text-anchor="middle" font-weight="normal" stroke="#e0403a" stroke-width="0.12" >X</text>
<text x="409.60" y="187.00" font-size="6.5" fill="#383838" text-anchor="end" font-weight="normal" stroke="#383838" stroke-width="0.12" >+/Y</text>
<text x="409.60" y="203.60" font-size="6.5" fill="#c1304f" text-anchor="end" font-weight="normal" stroke="#c1304f" stroke-width="0.12" >Q548X/Y</text>
<text x="7.00" y="246.90" font-size="11.5" fill="#111" text-anchor="start" font-weight="bold" stroke="#111" stroke-width="0.35">D</text>
<text x="116.50" y="260.60" font-size="9" fill="#383838" text-anchor="middle" font-weight="normal" stroke="#383838" stroke-width="0.12" >5 weeks</text>
<text x="205.60" y="260.60" font-size="9" fill="#383838" text-anchor="middle" font-weight="normal" stroke="#383838" stroke-width="0.12" >8 weeks</text>
<text x="295.30" y="260.60" font-size="9" fill="#383838" text-anchor="middle" font-weight="normal" stroke="#383838" stroke-width="0.12" >24 weeks</text>
<text x="384.50" y="260.60" font-size="9" fill="#383838" text-anchor="middle" font-weight="normal" stroke="#383838" stroke-width="0.12" >54 weeks</text>
<line x1="73.00" y1="266.00" x2="73.00" y2="351.30" stroke="#222" stroke-width="1.4" />
<line x1="69.50" y1="273.70" x2="73.00" y2="273.70" stroke="#222" stroke-width="1.0" />
<text x="66.80" y="276.30" font-size="7.3" fill="#2a2a2a" text-anchor="end" font-weight="normal" stroke="#2a2a2a" stroke-width="0.12" >15</text>
<line x1="69.50" y1="312.20" x2="73.00" y2="312.20" stroke="#222" stroke-width="1.0" />
<text x="66.80" y="314.80" font-size="7.3" fill="#2a2a2a" text-anchor="end" font-weight="normal" stroke="#2a2a2a" stroke-width="0.12" >10</text>
<line x1="69.50" y1="350.70" x2="73.00" y2="350.70" stroke="#222" stroke-width="1.0" />
<text x="66.80" y="353.30" font-size="7.3" fill="#2a2a2a" text-anchor="end" font-weight="normal" stroke="#2a2a2a" stroke-width="0.12" >5</text>
<text x="53.8" y="308.35" font-size="7.5" fill="#2a2a2a" stroke="#2a2a2a" stroke-width="0.22" text-anchor="middle" transform="rotate(-90 53.8 308.35)">Hb (g/dL)</text>
<line x1="72.30" y1="350.70" x2="427.00" y2="350.70" stroke="#222" stroke-width="1.4" />
<line x1="81.00" y1="350.70" x2="81.00" y2="354.20" stroke="#222" stroke-width="1.0" />
<line x1="92.62" y1="350.70" x2="92.62" y2="354.20" stroke="#222" stroke-width="1.0" />
<line x1="104.24" y1="350.70" x2="104.24" y2="354.20" stroke="#222" stroke-width="1.0" />
<line x1="115.86" y1="350.70" x2="115.86" y2="354.20" stroke="#222" stroke-width="1.0" />
<line x1="127.48" y1="350.70" x2="127.48" y2="354.20" stroke="#222" stroke-width="1.0" />
<line x1="139.10" y1="350.70" x2="139.10" y2="354.20" stroke="#222" stroke-width="1.0" />
<line x1="150.72" y1="350.70" x2="150.72" y2="354.20" stroke="#222" stroke-width="1.0" />
<line x1="74.00" y1="292.70" x2="159.40" y2="292.70" stroke="#6e6e6e" stroke-width="1.3" stroke-dasharray="2.2,2"/>
<circle cx="81.00" cy="292.03" r="1.7" fill="#222" stroke="#2a2a2a" stroke-width="1.0"/><circle cx="79.50" cy="291.08" r="1.7" fill="#222" stroke="#2a2a2a" stroke-width="1.0"/><circle cx="79.50" cy="293.01" r="1.7" fill="#222" stroke="#2a2a2a" stroke-width="1.0"/><circle cx="82.50" cy="293.04" r="1.7" fill="#222" stroke="#2a2a2a" stroke-width="1.0"/><circle cx="81.00" cy="294.07" r="1.7" fill="#222" stroke="#2a2a2a" stroke-width="1.0"/><circle cx="81.00" cy="289.88" r="1.7" fill="#222" stroke="#2a2a2a" stroke-width="1.0"/><circle cx="79.50" cy="289.55" r="1.7" fill="#222" stroke="#2a2a2a" stroke-width="1.0"/><circle cx="79.50" cy="294.62" r="1.7" fill="#222" stroke="#2a2a2a" stroke-width="1.0"/><circle cx="82.50" cy="288.65" r="1.7" fill="#222" stroke="#2a2a2a" stroke-width="1.0"/><circle cx="81.00" cy="287.79" r="1.7" fill="#222" stroke="#2a2a2a" stroke-width="1.0"/><circle cx="81.00" cy="296.29" r="1.7" fill="#222" stroke="#2a2a2a" stroke-width="1.0"/><circle cx="79.50" cy="287.53" r="1.7" fill="#222" stroke="#2a2a2a" stroke-width="1.0"/><circle cx="79.50" cy="296.96" r="1.7" fill="#222" stroke="#2a2a2a" stroke-width="1.0"/><circle cx="82.50" cy="296.99" r="1.7" fill="#222" stroke="#2a2a2a" stroke-width="1.0"/><circle cx="81.00" cy="286.28" r="1.7" fill="#222" stroke="#2a2a2a" stroke-width="1.0"/><circle cx="81.00" cy="298.93" r="1.7" fill="#222" stroke="#2a2a2a" stroke-width="1.0"/><circle cx="79.50" cy="299.72" r="1.7" fill="#222" stroke="#2a2a2a" stroke-width="1.0"/><circle cx="82.50" cy="300.15" r="1.7" fill="#fff" stroke="#2a2a2a" stroke-width="1.0"/><circle cx="81.00" cy="283.20" r="1.7" fill="#fff" stroke="#2a2a2a" stroke-width="1.0"/><circle cx="81.00" cy="300.92" r="1.7" fill="#fff" stroke="#2a2a2a" stroke-width="1.0"/><circle cx="79.50" cy="301.18" r="1.7" fill="#fff" stroke="#2a2a2a" stroke-width="1.0"/><circle cx="82.50" cy="301.81" r="1.7" fill="#fff" stroke="#2a2a2a" stroke-width="1.0"/><circle cx="81.00" cy="303.24" r="1.7" fill="#fff" stroke="#2a2a2a" stroke-width="1.0"/><circle cx="79.50" cy="303.49" r="1.7" fill="#fff" stroke="#2a2a2a" stroke-width="1.0"/><circle cx="81.00" cy="309.10" r="1.7" fill="#fff" stroke="#2a2a2a" stroke-width="1.0"/>
<line x1="81.00" y1="284.60" x2="81.00" y2="299.40" stroke="#111" stroke-width="0.8" />
<line x1="79.20" y1="284.60" x2="82.80" y2="284.60" stroke="#111" stroke-width="0.8" />
<line x1="79.20" y1="299.40" x2="82.80" y2="299.40" stroke="#111" stroke-width="0.8" />
<line x1="77.20" y1="292.00" x2="84.80" y2="292.00" stroke="#111" stroke-width="1.6" />
<circle cx="92.62" cy="298.29" r="1.7" fill="#fff" stroke="#2a2a2a" stroke-width="1.0"/><circle cx="92.62" cy="301.46" r="1.7" fill="#fff" stroke="#2a2a2a" stroke-width="1.0"/><circle cx="92.62" cy="295.63" r="1.7" fill="#fff" stroke="#2a2a2a" stroke-width="1.0"/><circle cx="90.72" cy="303.76" r="1.7" fill="#fff" stroke="#2a2a2a" stroke-width="1.0"/><circle cx="92.62" cy="292.42" r="1.7" fill="#fff" stroke="#2a2a2a" stroke-width="1.0"/><circle cx="92.62" cy="309.00" r="1.7" fill="#fff" stroke="#2a2a2a" stroke-width="1.0"/><circle cx="92.62" cy="287.50" r="1.7" fill="#fff" stroke="#2a2a2a" stroke-width="1.0"/>
<line x1="92.62" y1="290.00" x2="92.62" y2="305.00" stroke="#2d5f92" stroke-width="0.8" />
<line x1="90.82" y1="290.00" x2="94.42" y2="290.00" stroke="#2d5f92" stroke-width="0.8" />
<line x1="90.82" y1="305.00" x2="94.42" y2="305.00" stroke="#2d5f92" stroke-width="0.8" />
<line x1="88.82" y1="298.70" x2="96.42" y2="298.70" stroke="#25578b" stroke-width="1.6" />
<circle cx="104.24" cy="306.86" r="1.7" fill="#fff" stroke="#2a2a2a" stroke-width="1.0"/><circle cx="102.34" cy="305.22" r="1.7" fill="#fff" stroke="#2a2a2a" stroke-width="1.0"/><circle cx="104.24" cy="309.59" r="1.7" fill="#fff" stroke="#2a2a2a" stroke-width="1.0"/><circle cx="106.14" cy="303.60" r="1.7" fill="#fff" stroke="#2a2a2a" stroke-width="1.0"/><circle cx="102.34" cy="312.00" r="1.7" fill="#fff" stroke="#2a2a2a" stroke-width="1.0"/><circle cx="104.24" cy="299.60" r="1.7" fill="#fff" stroke="#2a2a2a" stroke-width="1.0"/>
<line x1="104.24" y1="303.86" x2="104.24" y2="310.94" stroke="#2d5f92" stroke-width="0.8" />
<line x1="102.44" y1="303.86" x2="106.04" y2="303.86" stroke="#2d5f92" stroke-width="0.8" />
<line x1="102.44" y1="310.94" x2="106.04" y2="310.94" stroke="#2d5f92" stroke-width="0.8" />
<line x1="100.44" y1="307.40" x2="108.04" y2="307.40" stroke="#25578b" stroke-width="1.6" />
<circle cx="104.24" cy="319.50" r="0.95" fill="#3d6f9f"/>
<circle cx="115.86" cy="300.74" r="1.7" fill="#fff" stroke="#2a2a2a" stroke-width="1.0"/><circle cx="113.96" cy="298.90" r="1.7" fill="#fff" stroke="#2a2a2a" stroke-width="1.0"/><circle cx="113.96" cy="302.75" r="1.7" fill="#fff" stroke="#2a2a2a" stroke-width="1.0"/><circle cx="117.76" cy="297.44" r="1.7" fill="#fff" stroke="#2a2a2a" stroke-width="1.0"/><circle cx="115.86" cy="304.42" r="1.7" fill="#fff" stroke="#2a2a2a" stroke-width="1.0"/><circle cx="115.86" cy="293.50" r="1.7" fill="#fff" stroke="#2a2a2a" stroke-width="1.0"/><circle cx="115.86" cy="309.00" r="1.7" fill="#fff" stroke="#2a2a2a" stroke-width="1.0"/>
<line x1="115.86" y1="296.07" x2="115.86" y2="304.93" stroke="#2d5f92" stroke-width="0.8" />
<line x1="114.06" y1="296.07" x2="117.66" y2="296.07" stroke="#2d5f92" stroke-width="0.8" />
<line x1="114.06" y1="304.93" x2="117.66" y2="304.93" stroke="#2d5f92" stroke-width="0.8" />
<line x1="112.06" y1="300.50" x2="119.66" y2="300.50" stroke="#25578b" stroke-width="1.6" />
<circle cx="127.48" cy="299.51" r="1.7" fill="#fff" stroke="#2a2a2a" stroke-width="1.0"/><circle cx="127.48" cy="303.18" r="1.7" fill="#fff" stroke="#2a2a2a" stroke-width="1.0"/><circle cx="127.48" cy="293.00" r="1.7" fill="#fff" stroke="#2a2a2a" stroke-width="1.0"/><circle cx="127.48" cy="308.08" r="1.7" fill="#fff" stroke="#2a2a2a" stroke-width="1.0"/><circle cx="127.48" cy="315.50" r="1.7" fill="#fff" stroke="#2a2a2a" stroke-width="1.0"/>
<line x1="127.48" y1="293.50" x2="127.48" y2="310.00" stroke="#2d5f92" stroke-width="0.8" />
<line x1="125.68" y1="293.50" x2="129.28" y2="293.50" stroke="#2d5f92" stroke-width="0.8" />
<line x1="125.68" y1="310.00" x2="129.28" y2="310.00" stroke="#2d5f92" stroke-width="0.8" />
<line x1="123.68" y1="300.50" x2="131.28" y2="300.50" stroke="#25578b" stroke-width="1.6" />
<circle cx="139.10" cy="298.07" r="1.7" fill="#fff" stroke="#2a2a2a" stroke-width="1.0"/><circle cx="137.20" cy="299.86" r="1.7" fill="#fff" stroke="#2a2a2a" stroke-width="1.0"/><circle cx="139.10" cy="294.90" r="1.7" fill="#fff" stroke="#2a2a2a" stroke-width="1.0"/><circle cx="139.10" cy="302.80" r="1.7" fill="#fff" stroke="#2a2a2a" stroke-width="1.0"/><circle cx="139.10" cy="291.00" r="1.7" fill="#fff" stroke="#2a2a2a" stroke-width="1.0"/><circle cx="139.10" cy="306.50" r="1.7" fill="#fff" stroke="#2a2a2a" stroke-width="1.0"/>
<line x1="139.10" y1="294.27" x2="139.10" y2="303.13" stroke="#b3173d" stroke-width="0.8" />
<line x1="137.30" y1="294.27" x2="140.90" y2="294.27" stroke="#b3173d" stroke-width="0.8" />
<line x1="137.30" y1="303.13" x2="140.90" y2="303.13" stroke="#b3173d" stroke-width="0.8" />
<line x1="135.30" y1="298.70" x2="142.90" y2="298.70" stroke="#b3173d" stroke-width="1.6" />
<circle cx="150.72" cy="299.76" r="1.7" fill="#fff" stroke="#2a2a2a" stroke-width="1.0"/><circle cx="148.82" cy="301.66" r="1.7" fill="#fff" stroke="#2a2a2a" stroke-width="1.0"/><circle cx="152.62" cy="302.77" r="1.7" fill="#fff" stroke="#2a2a2a" stroke-width="1.0"/><circle cx="150.72" cy="297.00" r="1.7" fill="#fff" stroke="#2a2a2a" stroke-width="1.0"/><circle cx="150.72" cy="306.20" r="1.7" fill="#fff" stroke="#2a2a2a" stroke-width="1.0"/>
<line x1="150.72" y1="297.87" x2="150.72" y2="303.13" stroke="#f2a028" stroke-width="0.8" />
<line x1="148.92" y1="297.87" x2="152.52" y2="297.87" stroke="#f2a028" stroke-width="0.8" />
<line x1="148.92" y1="303.13" x2="152.52" y2="303.13" stroke="#f2a028" stroke-width="0.8" />
<line x1="146.92" y1="300.50" x2="154.52" y2="300.50" stroke="#f2a028" stroke-width="1.6" />
<line x1="170.60" y1="350.70" x2="170.60" y2="354.20" stroke="#222" stroke-width="1.0" />
<line x1="182.22" y1="350.70" x2="182.22" y2="354.20" stroke="#222" stroke-width="1.0" />
<line x1="193.84" y1="350.70" x2="193.84" y2="354.20" stroke="#222" stroke-width="1.0" />
<line x1="205.46" y1="350.70" x2="205.46" y2="354.20" stroke="#222" stroke-width="1.0" />
<line x1="217.08" y1="350.70" x2="217.08" y2="354.20" stroke="#222" stroke-width="1.0" />
<line x1="228.70" y1="350.70" x2="228.70" y2="354.20" stroke="#222" stroke-width="1.0" />
<line x1="240.32" y1="350.70" x2="240.32" y2="354.20" stroke="#222" stroke-width="1.0" />
<line x1="161.40" y1="295.40" x2="249.80" y2="295.40" stroke="#6e6e6e" stroke-width="1.3" stroke-dasharray="2.2,2"/>
<circle cx="170.60" cy="293.62" r="1.7" fill="#222" stroke="#2a2a2a" stroke-width="1.0"/><circle cx="170.60" cy="295.15" r="1.7" fill="#222" stroke="#2a2a2a" stroke-width="1.0"/><circle cx="169.10" cy="295.31" r="1.7" fill="#222" stroke="#2a2a2a" stroke-width="1.0"/><circle cx="169.10" cy="293.05" r="1.7" fill="#222" stroke="#2a2a2a" stroke-width="1.0"/><circle cx="172.10" cy="292.30" r="1.7" fill="#222" stroke="#2a2a2a" stroke-width="1.0"/><circle cx="170.60" cy="296.81" r="1.7" fill="#222" stroke="#2a2a2a" stroke-width="1.0"/><circle cx="169.10" cy="297.06" r="1.7" fill="#222" stroke="#2a2a2a" stroke-width="1.0"/><circle cx="170.60" cy="290.96" r="1.7" fill="#222" stroke="#2a2a2a" stroke-width="1.0"/><circle cx="169.10" cy="290.83" r="1.7" fill="#222" stroke="#2a2a2a" stroke-width="1.0"/><circle cx="170.60" cy="298.30" r="1.7" fill="#222" stroke="#2a2a2a" stroke-width="1.0"/><circle cx="169.10" cy="298.94" r="1.7" fill="#222" stroke="#2a2a2a" stroke-width="1.0"/><circle cx="170.60" cy="289.06" r="1.7" fill="#222" stroke="#2a2a2a" stroke-width="1.0"/><circle cx="170.60" cy="299.89" r="1.7" fill="#222" stroke="#2a2a2a" stroke-width="1.0"/><circle cx="169.10" cy="288.23" r="1.7" fill="#222" stroke="#2a2a2a" stroke-width="1.0"/><circle cx="170.60" cy="287.52" r="1.7" fill="#222" stroke="#2a2a2a" stroke-width="1.0"/><circle cx="170.60" cy="301.61" r="1.7" fill="#222" stroke="#2a2a2a" stroke-width="1.0"/><circle cx="169.10" cy="286.49" r="1.7" fill="#222" stroke="#2a2a2a" stroke-width="1.0"/><circle cx="172.10" cy="286.37" r="1.7" fill="#222" stroke="#2a2a2a" stroke-width="1.0"/><circle cx="169.10" cy="302.29" r="1.7" fill="#222" stroke="#2a2a2a" stroke-width="1.0"/><circle cx="172.10" cy="302.57" r="1.7" fill="#222" stroke="#2a2a2a" stroke-width="1.0"/><circle cx="170.60" cy="285.74" r="1.7" fill="#fff" stroke="#2a2a2a" stroke-width="1.0"/><circle cx="170.60" cy="304.15" r="1.7" fill="#fff" stroke="#2a2a2a" stroke-width="1.0"/><circle cx="169.10" cy="304.22" r="1.7" fill="#fff" stroke="#2a2a2a" stroke-width="1.0"/><circle cx="170.60" cy="281.00" r="1.7" fill="#fff" stroke="#2a2a2a" stroke-width="1.0"/><circle cx="170.60" cy="309.20" r="1.7" fill="#fff" stroke="#2a2a2a" stroke-width="1.0"/>
<line x1="170.60" y1="286.14" x2="170.60" y2="302.26" stroke="#111" stroke-width="0.8" />
<line x1="168.80" y1="286.14" x2="172.40" y2="286.14" stroke="#111" stroke-width="0.8" />
<line x1="168.80" y1="302.26" x2="172.40" y2="302.26" stroke="#111" stroke-width="0.8" />
<line x1="166.80" y1="294.20" x2="174.40" y2="294.20" stroke="#111" stroke-width="1.6" />
<circle cx="182.22" cy="301.08" r="1.7" fill="#fff" stroke="#2a2a2a" stroke-width="1.0"/><circle cx="178.42" cy="301.08" r="1.7" fill="#fff" stroke="#2a2a2a" stroke-width="1.0"/><circle cx="180.32" cy="299.08" r="1.7" fill="#fff" stroke="#2a2a2a" stroke-width="1.0"/><circle cx="184.12" cy="298.80" r="1.7" fill="#fff" stroke="#2a2a2a" stroke-width="1.0"/><circle cx="180.32" cy="303.00" r="1.7" fill="#fff" stroke="#2a2a2a" stroke-width="1.0"/><circle cx="182.22" cy="296.80" r="1.7" fill="#fff" stroke="#2a2a2a" stroke-width="1.0"/>
<line x1="182.22" y1="298.63" x2="182.22" y2="302.17" stroke="#2d5f92" stroke-width="0.8" />
<line x1="180.42" y1="298.63" x2="184.02" y2="298.63" stroke="#2d5f92" stroke-width="0.8" />
<line x1="180.42" y1="302.17" x2="184.02" y2="302.17" stroke="#2d5f92" stroke-width="0.8" />
<line x1="178.42" y1="300.40" x2="186.02" y2="300.40" stroke="#25578b" stroke-width="1.6" />
<circle cx="193.84" cy="317.68" r="1.7" fill="#fff" stroke="#2a2a2a" stroke-width="1.0"/><circle cx="190.04" cy="319.29" r="1.7" fill="#fff" stroke="#2a2a2a" stroke-width="1.0"/><circle cx="190.04" cy="316.36" r="1.7" fill="#fff" stroke="#2a2a2a" stroke-width="1.0"/><circle cx="193.84" cy="314.81" r="1.7" fill="#fff" stroke="#2a2a2a" stroke-width="1.0"/><circle cx="193.84" cy="322.50" r="1.7" fill="#fff" stroke="#2a2a2a" stroke-width="1.0"/><circle cx="193.84" cy="311.90" r="1.7" fill="#fff" stroke="#2a2a2a" stroke-width="1.0"/>
<line x1="193.84" y1="314.97" x2="193.84" y2="321.03" stroke="#2d5f92" stroke-width="0.8" />
<line x1="192.04" y1="314.97" x2="195.64" y2="314.97" stroke="#2d5f92" stroke-width="0.8" />
<line x1="192.04" y1="321.03" x2="195.64" y2="321.03" stroke="#2d5f92" stroke-width="0.8" />
<line x1="190.04" y1="318.00" x2="197.64" y2="318.00" stroke="#25578b" stroke-width="1.6" />
<circle cx="189.49" cy="327.00" r="0.95" fill="#3d6f9f"/>
<circle cx="192.39" cy="327.00" r="0.95" fill="#3d6f9f"/>
<circle cx="195.29" cy="327.00" r="0.95" fill="#3d6f9f"/>
<circle cx="198.19" cy="327.00" r="0.95" fill="#3d6f9f"/>
<circle cx="205.46" cy="297.32" r="1.7" fill="#fff" stroke="#2a2a2a" stroke-width="1.0"/><circle cx="201.66" cy="297.87" r="1.7" fill="#fff" stroke="#2a2a2a" stroke-width="1.0"/><circle cx="209.26" cy="298.79" r="1.7" fill="#fff" stroke="#2a2a2a" stroke-width="1.0"/><circle cx="209.26" cy="296.00" r="1.7" fill="#fff" stroke="#2a2a2a" stroke-width="1.0"/><circle cx="205.46" cy="300.40" r="1.7" fill="#fff" stroke="#2a2a2a" stroke-width="1.0"/>
<line x1="205.46" y1="296.24" x2="205.46" y2="298.76" stroke="#2d5f92" stroke-width="0.8" />
<line x1="203.66" y1="296.24" x2="207.26" y2="296.24" stroke="#2d5f92" stroke-width="0.8" />
<line x1="203.66" y1="298.76" x2="207.26" y2="298.76" stroke="#2d5f92" stroke-width="0.8" />
<line x1="201.66" y1="297.50" x2="209.26" y2="297.50" stroke="#25578b" stroke-width="1.6" />
<circle cx="217.08" cy="308.27" r="1.7" fill="#fff" stroke="#2a2a2a" stroke-width="1.0"/><circle cx="213.28" cy="306.71" r="1.7" fill="#fff" stroke="#2a2a2a" stroke-width="1.0"/><circle cx="215.18" cy="310.62" r="1.7" fill="#fff" stroke="#2a2a2a" stroke-width="1.0"/><circle cx="217.08" cy="303.97" r="1.7" fill="#fff" stroke="#2a2a2a" stroke-width="1.0"/><circle cx="217.08" cy="315.40" r="1.7" fill="#fff" stroke="#2a2a2a" stroke-width="1.0"/><circle cx="217.08" cy="299.50" r="1.7" fill="#fff" stroke="#2a2a2a" stroke-width="1.0"/>
<line x1="217.08" y1="302.96" x2="217.08" y2="312.04" stroke="#2d5f92" stroke-width="0.8" />
<line x1="215.28" y1="302.96" x2="218.88" y2="302.96" stroke="#2d5f92" stroke-width="0.8" />
<line x1="215.28" y1="312.04" x2="218.88" y2="312.04" stroke="#2d5f92" stroke-width="0.8" />
<line x1="213.28" y1="307.50" x2="220.88" y2="307.50" stroke="#25578b" stroke-width="1.6" />
<circle cx="217.08" cy="321.60" r="0.95" fill="#3d6f9f"/>
<circle cx="228.70" cy="300.69" r="1.7" fill="#fff" stroke="#2a2a2a" stroke-width="1.0"/><circle cx="226.80" cy="298.78" r="1.7" fill="#fff" stroke="#2a2a2a" stroke-width="1.0"/><circle cx="228.70" cy="303.33" r="1.7" fill="#fff" stroke="#2a2a2a" stroke-width="1.0"/><circle cx="228.70" cy="296.00" r="1.7" fill="#fff" stroke="#2a2a2a" stroke-width="1.0"/><circle cx="226.80" cy="305.55" r="1.7" fill="#fff" stroke="#2a2a2a" stroke-width="1.0"/><circle cx="228.70" cy="309.20" r="1.7" fill="#fff" stroke="#2a2a2a" stroke-width="1.0"/>
<line x1="228.70" y1="296.63" x2="228.70" y2="304.17" stroke="#b3173d" stroke-width="0.8" />
<line x1="226.90" y1="296.63" x2="230.50" y2="296.63" stroke="#b3173d" stroke-width="0.8" />
<line x1="226.90" y1="304.17" x2="230.50" y2="304.17" stroke="#b3173d" stroke-width="0.8" />
<line x1="224.90" y1="300.40" x2="232.50" y2="300.40" stroke="#b3173d" stroke-width="1.6" />
<circle cx="240.32" cy="296.42" r="1.7" fill="#fff" stroke="#2a2a2a" stroke-width="1.0"/><circle cx="238.42" cy="294.28" r="1.7" fill="#fff" stroke="#2a2a2a" stroke-width="1.0"/><circle cx="238.42" cy="298.68" r="1.7" fill="#fff" stroke="#2a2a2a" stroke-width="1.0"/><circle cx="240.32" cy="289.80" r="1.7" fill="#fff" stroke="#2a2a2a" stroke-width="1.0"/><circle cx="240.32" cy="303.00" r="1.7" fill="#fff" stroke="#2a2a2a" stroke-width="1.0"/>
<line x1="240.32" y1="292.23" x2="240.32" y2="299.77" stroke="#f2a028" stroke-width="0.8" />
<line x1="238.52" y1="292.23" x2="242.12" y2="292.23" stroke="#f2a028" stroke-width="0.8" />
<line x1="238.52" y1="299.77" x2="242.12" y2="299.77" stroke="#f2a028" stroke-width="0.8" />
<line x1="236.52" y1="296.00" x2="244.12" y2="296.00" stroke="#f2a028" stroke-width="1.6" />
<line x1="260.10" y1="350.70" x2="260.10" y2="354.20" stroke="#222" stroke-width="1.0" />
<line x1="271.72" y1="350.70" x2="271.72" y2="354.20" stroke="#222" stroke-width="1.0" />
<line x1="283.34" y1="350.70" x2="283.34" y2="354.20" stroke="#222" stroke-width="1.0" />
<line x1="294.96" y1="350.70" x2="294.96" y2="354.20" stroke="#222" stroke-width="1.0" />
<line x1="306.58" y1="350.70" x2="306.58" y2="354.20" stroke="#222" stroke-width="1.0" />
<line x1="318.20" y1="350.70" x2="318.20" y2="354.20" stroke="#222" stroke-width="1.0" />
<line x1="329.82" y1="350.70" x2="329.82" y2="354.20" stroke="#222" stroke-width="1.0" />
<line x1="251.80" y1="291.20" x2="338.90" y2="291.20" stroke="#6e6e6e" stroke-width="1.3" stroke-dasharray="2.2,2"/>
<circle cx="260.10" cy="290.80" r="1.7" fill="#222" stroke="#2a2a2a" stroke-width="1.0"/><circle cx="258.60" cy="289.97" r="1.7" fill="#222" stroke="#2a2a2a" stroke-width="1.0"/><circle cx="261.60" cy="289.36" r="1.7" fill="#222" stroke="#2a2a2a" stroke-width="1.0"/><circle cx="260.10" cy="292.42" r="1.7" fill="#222" stroke="#2a2a2a" stroke-width="1.0"/><circle cx="258.60" cy="292.61" r="1.7" fill="#222" stroke="#2a2a2a" stroke-width="1.0"/><circle cx="260.10" cy="288.67" r="1.7" fill="#222" stroke="#2a2a2a" stroke-width="1.0"/><circle cx="261.60" cy="293.78" r="1.7" fill="#222" stroke="#2a2a2a" stroke-width="1.0"/><circle cx="260.10" cy="287.02" r="1.7" fill="#222" stroke="#2a2a2a" stroke-width="1.0"/><circle cx="258.60" cy="286.58" r="1.7" fill="#222" stroke="#2a2a2a" stroke-width="1.0"/><circle cx="260.10" cy="295.14" r="1.7" fill="#222" stroke="#2a2a2a" stroke-width="1.0"/><circle cx="260.10" cy="285.05" r="1.7" fill="#222" stroke="#2a2a2a" stroke-width="1.0"/><circle cx="258.60" cy="284.95" r="1.7" fill="#222" stroke="#2a2a2a" stroke-width="1.0"/><circle cx="258.60" cy="296.47" r="1.7" fill="#222" stroke="#2a2a2a" stroke-width="1.0"/><circle cx="260.10" cy="297.15" r="1.7" fill="#222" stroke="#2a2a2a" stroke-width="1.0"/><circle cx="261.60" cy="297.72" r="1.7" fill="#fff" stroke="#2a2a2a" stroke-width="1.0"/><circle cx="260.10" cy="299.46" r="1.7" fill="#fff" stroke="#2a2a2a" stroke-width="1.0"/><circle cx="260.10" cy="281.00" r="1.7" fill="#fff" stroke="#2a2a2a" stroke-width="1.0"/><circle cx="260.10" cy="303.00" r="1.7" fill="#fff" stroke="#2a2a2a" stroke-width="1.0"/>
<line x1="260.10" y1="284.41" x2="260.10" y2="296.99" stroke="#111" stroke-width="0.8" />
<line x1="258.30" y1="284.41" x2="261.90" y2="284.41" stroke="#111" stroke-width="0.8" />
<line x1="258.30" y1="296.99" x2="261.90" y2="296.99" stroke="#111" stroke-width="0.8" />
<line x1="256.30" y1="290.70" x2="263.90" y2="290.70" stroke="#111" stroke-width="1.6" />
<circle cx="271.72" cy="299.87" r="1.7" fill="#fff" stroke="#2a2a2a" stroke-width="1.0"/><circle cx="271.72" cy="303.99" r="1.7" fill="#fff" stroke="#2a2a2a" stroke-width="1.0"/><circle cx="271.72" cy="296.36" r="1.7" fill="#fff" stroke="#2a2a2a" stroke-width="1.0"/><circle cx="271.72" cy="308.19" r="1.7" fill="#fff" stroke="#2a2a2a" stroke-width="1.0"/><circle cx="271.72" cy="292.17" r="1.7" fill="#fff" stroke="#2a2a2a" stroke-width="1.0"/><circle cx="271.72" cy="284.50" r="1.7" fill="#fff" stroke="#2a2a2a" stroke-width="1.0"/><circle cx="271.72" cy="316.30" r="1.7" fill="#fff" stroke="#2a2a2a" stroke-width="1.0"/>
<line x1="271.72" y1="291.50" x2="271.72" y2="309.20" stroke="#2d5f92" stroke-width="0.8" />
<line x1="269.92" y1="291.50" x2="273.52" y2="291.50" stroke="#2d5f92" stroke-width="0.8" />
<line x1="269.92" y1="309.20" x2="273.52" y2="309.20" stroke="#2d5f92" stroke-width="0.8" />
<line x1="267.92" y1="300.40" x2="275.52" y2="300.40" stroke="#25578b" stroke-width="1.6" />
<circle cx="283.34" cy="317.00" r="1.7" fill="#fff" stroke="#2a2a2a" stroke-width="1.0"/><circle cx="283.34" cy="319.63" r="1.7" fill="#fff" stroke="#2a2a2a" stroke-width="1.0"/><circle cx="283.34" cy="314.50" r="1.7" fill="#fff" stroke="#2a2a2a" stroke-width="1.0"/><circle cx="281.44" cy="321.74" r="1.7" fill="#fff" stroke="#2a2a2a" stroke-width="1.0"/><circle cx="285.24" cy="323.34" r="1.7" fill="#fff" stroke="#2a2a2a" stroke-width="1.0"/><circle cx="283.34" cy="327.80" r="1.7" fill="#fff" stroke="#2a2a2a" stroke-width="1.0"/>
<line x1="283.34" y1="313.40" x2="283.34" y2="321.00" stroke="#2d5f92" stroke-width="0.8" />
<line x1="281.54" y1="313.40" x2="285.14" y2="313.40" stroke="#2d5f92" stroke-width="0.8" />
<line x1="281.54" y1="321.00" x2="285.14" y2="321.00" stroke="#2d5f92" stroke-width="0.8" />
<line x1="279.54" y1="317.20" x2="287.14" y2="317.20" stroke="#25578b" stroke-width="1.6" />
<circle cx="278.99" cy="334.40" r="0.95" fill="#3d6f9f"/>
<circle cx="281.89" cy="334.40" r="0.95" fill="#3d6f9f"/>
<circle cx="284.79" cy="334.40" r="0.95" fill="#3d6f9f"/>
<circle cx="287.69" cy="334.40" r="0.95" fill="#3d6f9f"/>
<circle cx="294.96" cy="296.01" r="1.7" fill="#fff" stroke="#2a2a2a" stroke-width="1.0"/><circle cx="294.96" cy="298.54" r="1.7" fill="#fff" stroke="#2a2a2a" stroke-width="1.0"/><circle cx="291.16" cy="294.58" r="1.7" fill="#fff" stroke="#2a2a2a" stroke-width="1.0"/><circle cx="294.96" cy="293.25" r="1.7" fill="#fff" stroke="#2a2a2a" stroke-width="1.0"/><circle cx="293.06" cy="300.40" r="1.7" fill="#fff" stroke="#2a2a2a" stroke-width="1.0"/><circle cx="294.96" cy="290.70" r="1.7" fill="#fff" stroke="#2a2a2a" stroke-width="1.0"/>
<line x1="294.96" y1="294.03" x2="294.96" y2="299.57" stroke="#2d5f92" stroke-width="0.8" />
<line x1="293.16" y1="294.03" x2="296.76" y2="294.03" stroke="#2d5f92" stroke-width="0.8" />
<line x1="293.16" y1="299.57" x2="296.76" y2="299.57" stroke="#2d5f92" stroke-width="0.8" />
<line x1="291.16" y1="296.80" x2="298.76" y2="296.80" stroke="#25578b" stroke-width="1.6" />
<circle cx="306.58" cy="307.42" r="1.7" fill="#fff" stroke="#2a2a2a" stroke-width="1.0"/><circle cx="304.68" cy="305.70" r="1.7" fill="#fff" stroke="#2a2a2a" stroke-width="1.0"/><circle cx="306.58" cy="310.00" r="1.7" fill="#fff" stroke="#2a2a2a" stroke-width="1.0"/><circle cx="304.68" cy="311.66" r="1.7" fill="#fff" stroke="#2a2a2a" stroke-width="1.0"/><circle cx="306.58" cy="313.81" r="1.7" fill="#fff" stroke="#2a2a2a" stroke-width="1.0"/><circle cx="306.58" cy="318.00" r="1.7" fill="#fff" stroke="#2a2a2a" stroke-width="1.0"/>
<line x1="306.58" y1="303.99" x2="306.58" y2="311.01" stroke="#2d5f92" stroke-width="0.8" />
<line x1="304.78" y1="303.99" x2="308.38" y2="303.99" stroke="#2d5f92" stroke-width="0.8" />
<line x1="304.78" y1="311.01" x2="308.38" y2="311.01" stroke="#2d5f92" stroke-width="0.8" />
<line x1="302.78" y1="307.50" x2="310.38" y2="307.50" stroke="#25578b" stroke-width="1.6" />
<circle cx="302.23" cy="326.00" r="0.95" fill="#3d6f9f"/>
<circle cx="305.13" cy="326.00" r="0.95" fill="#3d6f9f"/>
<circle cx="308.03" cy="326.00" r="0.95" fill="#3d6f9f"/>
<circle cx="310.93" cy="326.00" r="0.95" fill="#3d6f9f"/>
<circle cx="318.20" cy="294.31" r="1.7" fill="#fff" stroke="#2a2a2a" stroke-width="1.0"/><circle cx="318.20" cy="291.72" r="1.7" fill="#fff" stroke="#2a2a2a" stroke-width="1.0"/><circle cx="318.20" cy="296.88" r="1.7" fill="#fff" stroke="#2a2a2a" stroke-width="1.0"/><circle cx="316.30" cy="299.05" r="1.7" fill="#fff" stroke="#2a2a2a" stroke-width="1.0"/><circle cx="318.20" cy="288.78" r="1.7" fill="#fff" stroke="#2a2a2a" stroke-width="1.0"/><circle cx="318.20" cy="301.38" r="1.7" fill="#fff" stroke="#2a2a2a" stroke-width="1.0"/><circle cx="318.20" cy="284.50" r="1.7" fill="#fff" stroke="#2a2a2a" stroke-width="1.0"/><circle cx="318.20" cy="306.60" r="1.7" fill="#fff" stroke="#2a2a2a" stroke-width="1.0"/>
<line x1="318.20" y1="287.00" x2="318.20" y2="298.60" stroke="#b3173d" stroke-width="0.8" />
<line x1="316.40" y1="287.00" x2="320.00" y2="287.00" stroke="#b3173d" stroke-width="0.8" />
<line x1="316.40" y1="298.60" x2="320.00" y2="298.60" stroke="#b3173d" stroke-width="0.8" />
<line x1="314.40" y1="294.20" x2="322.00" y2="294.20" stroke="#b3173d" stroke-width="1.6" />
<circle cx="329.82" cy="304.02" r="1.7" fill="#fff" stroke="#2a2a2a" stroke-width="1.0"/><circle cx="327.92" cy="302.00" r="1.7" fill="#fff" stroke="#2a2a2a" stroke-width="1.0"/><circle cx="329.82" cy="306.60" r="1.7" fill="#fff" stroke="#2a2a2a" stroke-width="1.0"/>
<line x1="329.82" y1="302.59" x2="329.82" y2="305.21" stroke="#f2a028" stroke-width="0.8" />
<line x1="328.02" y1="302.59" x2="331.62" y2="302.59" stroke="#f2a028" stroke-width="0.8" />
<line x1="328.02" y1="305.21" x2="331.62" y2="305.21" stroke="#f2a028" stroke-width="0.8" />
<line x1="326.02" y1="303.90" x2="333.62" y2="303.90" stroke="#f2a028" stroke-width="1.6" />
<circle cx="326.92" cy="312.80" r="0.95" fill="#eea030"/>
<circle cx="329.82" cy="312.80" r="0.95" fill="#eea030"/>
<circle cx="332.72" cy="312.80" r="0.95" fill="#eea030"/>
<line x1="350.30" y1="350.70" x2="350.30" y2="354.20" stroke="#222" stroke-width="1.0" />
<line x1="361.92" y1="350.70" x2="361.92" y2="354.20" stroke="#222" stroke-width="1.0" />
<line x1="373.54" y1="350.70" x2="373.54" y2="354.20" stroke="#222" stroke-width="1.0" />
<line x1="385.16" y1="350.70" x2="385.16" y2="354.20" stroke="#222" stroke-width="1.0" />
<line x1="396.78" y1="350.70" x2="396.78" y2="354.20" stroke="#222" stroke-width="1.0" />
<line x1="408.40" y1="350.70" x2="408.40" y2="354.20" stroke="#222" stroke-width="1.0" />
<line x1="420.02" y1="350.70" x2="420.02" y2="354.20" stroke="#222" stroke-width="1.0" />
<line x1="340.90" y1="297.40" x2="426.00" y2="297.40" stroke="#6e6e6e" stroke-width="1.3" stroke-dasharray="2.2,2"/>
<circle cx="350.30" cy="296.84" r="1.7" fill="#fff" stroke="#2a2a2a" stroke-width="1.0"/><circle cx="346.90" cy="296.01" r="1.7" fill="#fff" stroke="#2a2a2a" stroke-width="1.0"/><circle cx="348.60" cy="298.07" r="1.7" fill="#fff" stroke="#2a2a2a" stroke-width="1.0"/><circle cx="348.60" cy="294.75" r="1.7" fill="#fff" stroke="#2a2a2a" stroke-width="1.0"/><circle cx="352.00" cy="298.96" r="1.7" fill="#fff" stroke="#2a2a2a" stroke-width="1.0"/><circle cx="350.30" cy="300.37" r="1.7" fill="#fff" stroke="#2a2a2a" stroke-width="1.0"/><circle cx="350.30" cy="293.13" r="1.7" fill="#fff" stroke="#2a2a2a" stroke-width="1.0"/><circle cx="346.90" cy="292.50" r="1.7" fill="#fff" stroke="#2a2a2a" stroke-width="1.0"/><circle cx="350.30" cy="303.00" r="1.7" fill="#fff" stroke="#2a2a2a" stroke-width="1.0"/><circle cx="350.30" cy="288.90" r="1.7" fill="#fff" stroke="#2a2a2a" stroke-width="1.0"/><circle cx="350.30" cy="321.60" r="1.7" fill="#fff" stroke="#2a2a2a" stroke-width="1.0"/>
<line x1="350.30" y1="290.70" x2="350.30" y2="306.00" stroke="#111" stroke-width="0.8" />
<line x1="348.50" y1="290.70" x2="352.10" y2="290.70" stroke="#111" stroke-width="0.8" />
<line x1="348.50" y1="306.00" x2="352.10" y2="306.00" stroke="#111" stroke-width="0.8" />
<line x1="346.50" y1="296.80" x2="354.10" y2="296.80" stroke="#111" stroke-width="1.6" />
<circle cx="361.92" cy="293.98" r="1.7" fill="#fff" stroke="#2a2a2a" stroke-width="1.0"/><circle cx="358.12" cy="295.57" r="1.7" fill="#fff" stroke="#2a2a2a" stroke-width="1.0"/><circle cx="360.02" cy="292.34" r="1.7" fill="#fff" stroke="#2a2a2a" stroke-width="1.0"/><circle cx="361.92" cy="296.94" r="1.7" fill="#fff" stroke="#2a2a2a" stroke-width="1.0"/><circle cx="361.92" cy="290.14" r="1.7" fill="#fff" stroke="#2a2a2a" stroke-width="1.0"/><circle cx="361.92" cy="300.40" r="1.7" fill="#fff" stroke="#2a2a2a" stroke-width="1.0"/><circle cx="361.92" cy="286.20" r="1.7" fill="#fff" stroke="#2a2a2a" stroke-width="1.0"/>
<line x1="361.92" y1="290.14" x2="361.92" y2="298.26" stroke="#2d5f92" stroke-width="0.8" />
<line x1="360.12" y1="290.14" x2="363.72" y2="290.14" stroke="#2d5f92" stroke-width="0.8" />
<line x1="360.12" y1="298.26" x2="363.72" y2="298.26" stroke="#2d5f92" stroke-width="0.8" />
<line x1="358.12" y1="294.20" x2="365.72" y2="294.20" stroke="#25578b" stroke-width="1.6" />
<circle cx="373.54" cy="319.85" r="1.7" fill="#fff" stroke="#2a2a2a" stroke-width="1.0"/><circle cx="369.74" cy="320.41" r="1.7" fill="#fff" stroke="#2a2a2a" stroke-width="1.0"/><circle cx="371.64" cy="317.90" r="1.7" fill="#fff" stroke="#2a2a2a" stroke-width="1.0"/><circle cx="373.54" cy="322.68" r="1.7" fill="#fff" stroke="#2a2a2a" stroke-width="1.0"/><circle cx="373.54" cy="315.40" r="1.7" fill="#fff" stroke="#2a2a2a" stroke-width="1.0"/><circle cx="373.54" cy="325.20" r="1.7" fill="#fff" stroke="#2a2a2a" stroke-width="1.0"/>
<line x1="373.54" y1="317.00" x2="373.54" y2="322.60" stroke="#2d5f92" stroke-width="0.8" />
<line x1="371.74" y1="317.00" x2="375.34" y2="317.00" stroke="#2d5f92" stroke-width="0.8" />
<line x1="371.74" y1="322.60" x2="375.34" y2="322.60" stroke="#2d5f92" stroke-width="0.8" />
<line x1="369.74" y1="319.80" x2="377.34" y2="319.80" stroke="#25578b" stroke-width="1.6" />
<circle cx="369.19" cy="331.90" r="0.95" fill="#3d6f9f"/>
<circle cx="372.09" cy="331.90" r="0.95" fill="#3d6f9f"/>
<circle cx="374.99" cy="331.90" r="0.95" fill="#3d6f9f"/>
<circle cx="377.89" cy="331.90" r="0.95" fill="#3d6f9f"/>
<circle cx="385.16" cy="297.17" r="1.7" fill="#fff" stroke="#2a2a2a" stroke-width="1.0"/><circle cx="383.26" cy="295.00" r="1.7" fill="#fff" stroke="#2a2a2a" stroke-width="1.0"/><circle cx="381.36" cy="298.61" r="1.7" fill="#fff" stroke="#2a2a2a" stroke-width="1.0"/><circle cx="385.16" cy="300.91" r="1.7" fill="#fff" stroke="#2a2a2a" stroke-width="1.0"/><circle cx="381.36" cy="302.41" r="1.7" fill="#fff" stroke="#2a2a2a" stroke-width="1.0"/><circle cx="385.16" cy="306.60" r="1.7" fill="#fff" stroke="#2a2a2a" stroke-width="1.0"/><circle cx="385.16" cy="284.50" r="1.7" fill="#fff" stroke="#2a2a2a" stroke-width="1.0"/>
<line x1="385.16" y1="290.70" x2="385.16" y2="303.00" stroke="#2d5f92" stroke-width="0.8" />
<line x1="383.36" y1="290.70" x2="386.96" y2="290.70" stroke="#2d5f92" stroke-width="0.8" />
<line x1="383.36" y1="303.00" x2="386.96" y2="303.00" stroke="#2d5f92" stroke-width="0.8" />
<line x1="381.36" y1="296.80" x2="388.96" y2="296.80" stroke="#25578b" stroke-width="1.6" />
<circle cx="396.78" cy="310.76" r="1.7" fill="#fff" stroke="#2a2a2a" stroke-width="1.0"/><circle cx="394.88" cy="313.21" r="1.7" fill="#fff" stroke="#2a2a2a" stroke-width="1.0"/><circle cx="394.88" cy="308.41" r="1.7" fill="#fff" stroke="#2a2a2a" stroke-width="1.0"/><circle cx="398.68" cy="314.64" r="1.7" fill="#fff" stroke="#2a2a2a" stroke-width="1.0"/><circle cx="396.78" cy="306.71" r="1.7" fill="#fff" stroke="#2a2a2a" stroke-width="1.0"/><circle cx="396.78" cy="303.00" r="1.7" fill="#fff" stroke="#2a2a2a" stroke-width="1.0"/><circle cx="396.78" cy="319.00" r="1.7" fill="#fff" stroke="#2a2a2a" stroke-width="1.0"/>
<line x1="396.78" y1="306.43" x2="396.78" y2="315.57" stroke="#2d5f92" stroke-width="0.8" />
<line x1="394.98" y1="306.43" x2="398.58" y2="306.43" stroke="#2d5f92" stroke-width="0.8" />
<line x1="394.98" y1="315.57" x2="398.58" y2="315.57" stroke="#2d5f92" stroke-width="0.8" />
<line x1="392.98" y1="311.00" x2="400.58" y2="311.00" stroke="#25578b" stroke-width="1.6" />
<circle cx="396.78" cy="325.20" r="0.95" fill="#3d6f9f"/>
<circle cx="408.40" cy="284.37" r="1.7" fill="#fff" stroke="#2a2a2a" stroke-width="1.0"/><circle cx="406.50" cy="286.42" r="1.7" fill="#fff" stroke="#2a2a2a" stroke-width="1.0"/><circle cx="408.40" cy="281.00" r="1.7" fill="#fff" stroke="#2a2a2a" stroke-width="1.0"/><circle cx="408.40" cy="289.26" r="1.7" fill="#fff" stroke="#2a2a2a" stroke-width="1.0"/><circle cx="408.40" cy="293.30" r="1.7" fill="#fff" stroke="#2a2a2a" stroke-width="1.0"/>
<line x1="408.40" y1="280.99" x2="408.40" y2="288.01" stroke="#b3173d" stroke-width="0.8" />
<line x1="406.60" y1="280.99" x2="410.20" y2="280.99" stroke="#b3173d" stroke-width="0.8" />
<line x1="406.60" y1="288.01" x2="410.20" y2="288.01" stroke="#b3173d" stroke-width="0.8" />
<line x1="404.60" y1="284.50" x2="412.20" y2="284.50" stroke="#b3173d" stroke-width="1.6" />
<circle cx="408.40" cy="274.70" r="0.95" fill="#c8304f"/>
<circle cx="420.02" cy="302.68" r="1.7" fill="#fff" stroke="#2a2a2a" stroke-width="1.0"/><circle cx="420.02" cy="299.50" r="1.7" fill="#fff" stroke="#2a2a2a" stroke-width="1.0"/><circle cx="420.02" cy="306.60" r="1.7" fill="#fff" stroke="#2a2a2a" stroke-width="1.0"/>
<line x1="420.02" y1="300.97" x2="420.02" y2="305.03" stroke="#f2a028" stroke-width="0.8" />
<line x1="418.22" y1="300.97" x2="421.82" y2="300.97" stroke="#f2a028" stroke-width="0.8" />
<line x1="418.22" y1="305.03" x2="421.82" y2="305.03" stroke="#f2a028" stroke-width="0.8" />
<line x1="416.22" y1="303.00" x2="423.82" y2="303.00" stroke="#f2a028" stroke-width="1.6" />
<line x1="160.50" y1="266.00" x2="160.50" y2="350.70" stroke="#555" stroke-width="0.9" stroke-dasharray="1,1" shape-rendering="crispEdges"/>
<line x1="250.50" y1="266.00" x2="250.50" y2="350.70" stroke="#555" stroke-width="0.9" stroke-dasharray="1,1" shape-rendering="crispEdges"/>
<line x1="339.50" y1="266.00" x2="339.50" y2="350.70" stroke="#555" stroke-width="0.9" stroke-dasharray="1,1" shape-rendering="crispEdges"/>
<line x1="73.00" y1="365.70" x2="73.00" y2="453.30" stroke="#222" stroke-width="1.4" />
<line x1="69.50" y1="367.90" x2="73.00" y2="367.90" stroke="#222" stroke-width="1.0" />
<text x="66.80" y="370.50" font-size="7.3" fill="#2a2a2a" text-anchor="end" font-weight="normal" stroke="#2a2a2a" stroke-width="0.12" >70</text>
<line x1="69.50" y1="389.40" x2="73.00" y2="389.40" stroke="#222" stroke-width="1.0" />
<text x="66.80" y="392.00" font-size="7.3" fill="#2a2a2a" text-anchor="end" font-weight="normal" stroke="#2a2a2a" stroke-width="0.12" >60</text>
<line x1="69.50" y1="410.50" x2="73.00" y2="410.50" stroke="#222" stroke-width="1.0" />
<text x="66.80" y="413.10" font-size="7.3" fill="#2a2a2a" text-anchor="end" font-weight="normal" stroke="#2a2a2a" stroke-width="0.12" >50</text>
<line x1="69.50" y1="431.80" x2="73.00" y2="431.80" stroke="#222" stroke-width="1.0" />
<text x="66.80" y="434.40" font-size="7.3" fill="#2a2a2a" text-anchor="end" font-weight="normal" stroke="#2a2a2a" stroke-width="0.12" >40</text>
<line x1="69.50" y1="452.70" x2="73.00" y2="452.70" stroke="#222" stroke-width="1.0" />
<text x="66.80" y="455.30" font-size="7.3" fill="#2a2a2a" text-anchor="end" font-weight="normal" stroke="#2a2a2a" stroke-width="0.12" >30</text>
<text x="53.8" y="409.20" font-size="7.5" fill="#2a2a2a" stroke="#2a2a2a" stroke-width="0.22" text-anchor="middle" transform="rotate(-90 53.8 409.20)">MCV (fL)</text>
<line x1="72.30" y1="452.70" x2="427.00" y2="452.70" stroke="#222" stroke-width="1.4" />
<line x1="81.00" y1="452.70" x2="81.00" y2="456.20" stroke="#222" stroke-width="1.0" />
<line x1="92.62" y1="452.70" x2="92.62" y2="456.20" stroke="#222" stroke-width="1.0" />
<line x1="104.24" y1="452.70" x2="104.24" y2="456.20" stroke="#222" stroke-width="1.0" />
<line x1="115.86" y1="452.70" x2="115.86" y2="456.20" stroke="#222" stroke-width="1.0" />
<line x1="127.48" y1="452.70" x2="127.48" y2="456.20" stroke="#222" stroke-width="1.0" />
<line x1="139.10" y1="452.70" x2="139.10" y2="456.20" stroke="#222" stroke-width="1.0" />
<line x1="150.72" y1="452.70" x2="150.72" y2="456.20" stroke="#222" stroke-width="1.0" />
<line x1="74.00" y1="390.60" x2="159.40" y2="390.60" stroke="#6e6e6e" stroke-width="1.3" stroke-dasharray="2.2,2"/>
<circle cx="81.00" cy="390.94" r="1.7" fill="#222" stroke="#2a2a2a" stroke-width="1.0"/><circle cx="79.50" cy="391.12" r="1.7" fill="#222" stroke="#2a2a2a" stroke-width="1.0"/><circle cx="82.50" cy="390.69" r="1.7" fill="#222" stroke="#2a2a2a" stroke-width="1.0"/><circle cx="78.00" cy="390.46" r="1.7" fill="#222" stroke="#2a2a2a" stroke-width="1.0"/><circle cx="84.00" cy="391.66" r="1.7" fill="#222" stroke="#2a2a2a" stroke-width="1.0"/><circle cx="76.50" cy="390.25" r="1.7" fill="#222" stroke="#2a2a2a" stroke-width="1.0"/><circle cx="76.50" cy="391.83" r="1.7" fill="#222" stroke="#2a2a2a" stroke-width="1.0"/><circle cx="78.00" cy="392.13" r="1.7" fill="#222" stroke="#2a2a2a" stroke-width="1.0"/><circle cx="84.00" cy="389.85" r="1.7" fill="#222" stroke="#2a2a2a" stroke-width="1.0"/><circle cx="81.00" cy="392.75" r="1.7" fill="#222" stroke="#2a2a2a" stroke-width="1.0"/><circle cx="81.00" cy="389.07" r="1.7" fill="#222" stroke="#2a2a2a" stroke-width="1.0"/><circle cx="79.50" cy="393.38" r="1.7" fill="#222" stroke="#2a2a2a" stroke-width="1.0"/><circle cx="82.50" cy="393.60" r="1.7" fill="#222" stroke="#2a2a2a" stroke-width="1.0"/><circle cx="79.50" cy="388.26" r="1.7" fill="#222" stroke="#2a2a2a" stroke-width="1.0"/><circle cx="78.00" cy="393.77" r="1.7" fill="#222" stroke="#2a2a2a" stroke-width="1.0"/><circle cx="82.50" cy="388.10" r="1.7" fill="#222" stroke="#2a2a2a" stroke-width="1.0"/><circle cx="78.00" cy="388.04" r="1.7" fill="#222" stroke="#2a2a2a" stroke-width="1.0"/><circle cx="84.00" cy="387.64" r="1.7" fill="#222" stroke="#2a2a2a" stroke-width="1.0"/><circle cx="81.00" cy="387.42" r="1.7" fill="#222" stroke="#2a2a2a" stroke-width="1.0"/><circle cx="76.50" cy="387.30" r="1.7" fill="#fff" stroke="#2a2a2a" stroke-width="1.0"/><circle cx="81.00" cy="394.77" r="1.7" fill="#fff" stroke="#2a2a2a" stroke-width="1.0"/><circle cx="79.50" cy="395.06" r="1.7" fill="#fff" stroke="#2a2a2a" stroke-width="1.0"/><circle cx="82.50" cy="395.32" r="1.7" fill="#fff" stroke="#2a2a2a" stroke-width="1.0"/><circle cx="81.00" cy="397.00" r="1.7" fill="#fff" stroke="#2a2a2a" stroke-width="1.0"/><circle cx="81.00" cy="384.90" r="1.7" fill="#fff" stroke="#2a2a2a" stroke-width="1.0"/>
<line x1="81.00" y1="387.54" x2="81.00" y2="394.46" stroke="#111" stroke-width="0.8" />
<line x1="79.20" y1="387.54" x2="82.80" y2="387.54" stroke="#111" stroke-width="0.8" />
<line x1="79.20" y1="394.46" x2="82.80" y2="394.46" stroke="#111" stroke-width="0.8" />
<line x1="77.20" y1="391.00" x2="84.80" y2="391.00" stroke="#111" stroke-width="1.6" />
<circle cx="92.62" cy="391.90" r="1.7" fill="#fff" stroke="#2a2a2a" stroke-width="1.0"/><circle cx="88.82" cy="391.60" r="1.7" fill="#fff" stroke="#2a2a2a" stroke-width="1.0"/><circle cx="90.72" cy="394.00" r="1.7" fill="#fff" stroke="#2a2a2a" stroke-width="1.0"/><circle cx="92.62" cy="389.20" r="1.7" fill="#fff" stroke="#2a2a2a" stroke-width="1.0"/><circle cx="94.52" cy="395.13" r="1.7" fill="#fff" stroke="#2a2a2a" stroke-width="1.0"/><circle cx="88.82" cy="396.12" r="1.7" fill="#fff" stroke="#2a2a2a" stroke-width="1.0"/><circle cx="92.62" cy="399.60" r="1.7" fill="#fff" stroke="#2a2a2a" stroke-width="1.0"/>
<line x1="92.62" y1="388.83" x2="92.62" y2="394.77" stroke="#2d5f92" stroke-width="0.8" />
<line x1="90.82" y1="388.83" x2="94.42" y2="388.83" stroke="#2d5f92" stroke-width="0.8" />
<line x1="90.82" y1="394.77" x2="94.42" y2="394.77" stroke="#2d5f92" stroke-width="0.8" />
<line x1="88.82" y1="391.80" x2="96.42" y2="391.80" stroke="#25578b" stroke-width="1.6" />
<circle cx="104.24" cy="405.82" r="1.7" fill="#fff" stroke="#2a2a2a" stroke-width="1.0"/><circle cx="100.44" cy="407.23" r="1.7" fill="#fff" stroke="#2a2a2a" stroke-width="1.0"/><circle cx="102.34" cy="403.50" r="1.7" fill="#fff" stroke="#2a2a2a" stroke-width="1.0"/><circle cx="104.24" cy="410.14" r="1.7" fill="#fff" stroke="#2a2a2a" stroke-width="1.0"/><circle cx="104.24" cy="400.50" r="1.7" fill="#fff" stroke="#2a2a2a" stroke-width="1.0"/><circle cx="104.24" cy="413.40" r="1.7" fill="#fff" stroke="#2a2a2a" stroke-width="1.0"/>
<line x1="104.24" y1="402.81" x2="104.24" y2="410.19" stroke="#2d5f92" stroke-width="0.8" />
<line x1="102.44" y1="402.81" x2="106.04" y2="402.81" stroke="#2d5f92" stroke-width="0.8" />
<line x1="102.44" y1="410.19" x2="106.04" y2="410.19" stroke="#2d5f92" stroke-width="0.8" />
<line x1="100.44" y1="406.50" x2="108.04" y2="406.50" stroke="#25578b" stroke-width="1.6" />
<circle cx="102.79" cy="418.60" r="0.95" fill="#3d6f9f"/>
<circle cx="105.69" cy="418.60" r="0.95" fill="#3d6f9f"/>
<circle cx="115.86" cy="410.25" r="1.7" fill="#fff" stroke="#2a2a2a" stroke-width="1.0"/><circle cx="112.06" cy="409.32" r="1.7" fill="#fff" stroke="#2a2a2a" stroke-width="1.0"/><circle cx="119.66" cy="411.63" r="1.7" fill="#fff" stroke="#2a2a2a" stroke-width="1.0"/><circle cx="115.86" cy="407.46" r="1.7" fill="#fff" stroke="#2a2a2a" stroke-width="1.0"/><circle cx="115.86" cy="413.40" r="1.7" fill="#fff" stroke="#2a2a2a" stroke-width="1.0"/><circle cx="113.96" cy="405.70" r="1.7" fill="#fff" stroke="#2a2a2a" stroke-width="1.0"/>
<line x1="115.86" y1="408.10" x2="115.86" y2="412.50" stroke="#2d5f92" stroke-width="0.8" />
<line x1="114.06" y1="408.10" x2="117.66" y2="408.10" stroke="#2d5f92" stroke-width="0.8" />
<line x1="114.06" y1="412.50" x2="117.66" y2="412.50" stroke="#2d5f92" stroke-width="0.8" />
<line x1="112.06" y1="410.30" x2="119.66" y2="410.30" stroke="#25578b" stroke-width="1.6" />
<circle cx="111.51" cy="421.20" r="0.95" fill="#3d6f9f"/>
<circle cx="114.41" cy="421.20" r="0.95" fill="#3d6f9f"/>
<circle cx="117.31" cy="421.20" r="0.95" fill="#3d6f9f"/>
<circle cx="120.21" cy="421.20" r="0.95" fill="#3d6f9f"/>
<circle cx="127.48" cy="405.80" r="1.7" fill="#fff" stroke="#2a2a2a" stroke-width="1.0"/><circle cx="123.68" cy="404.71" r="1.7" fill="#fff" stroke="#2a2a2a" stroke-width="1.0"/><circle cx="125.58" cy="407.82" r="1.7" fill="#fff" stroke="#2a2a2a" stroke-width="1.0"/><circle cx="129.38" cy="403.36" r="1.7" fill="#fff" stroke="#2a2a2a" stroke-width="1.0"/><circle cx="127.48" cy="410.80" r="1.7" fill="#fff" stroke="#2a2a2a" stroke-width="1.0"/><circle cx="127.48" cy="399.60" r="1.7" fill="#fff" stroke="#2a2a2a" stroke-width="1.0"/>
<line x1="127.48" y1="402.50" x2="127.48" y2="408.90" stroke="#2d5f92" stroke-width="0.8" />
<line x1="125.68" y1="402.50" x2="129.28" y2="402.50" stroke="#2d5f92" stroke-width="0.8" />
<line x1="125.68" y1="408.90" x2="129.28" y2="408.90" stroke="#2d5f92" stroke-width="0.8" />
<line x1="123.68" y1="405.70" x2="131.28" y2="405.70" stroke="#25578b" stroke-width="1.6" />
<circle cx="126.03" cy="416.00" r="0.95" fill="#3d6f9f"/>
<circle cx="128.93" cy="416.00" r="0.95" fill="#3d6f9f"/>
<circle cx="139.10" cy="381.62" r="1.7" fill="#fff" stroke="#2a2a2a" stroke-width="1.0"/><circle cx="135.30" cy="383.22" r="1.7" fill="#fff" stroke="#2a2a2a" stroke-width="1.0"/><circle cx="141.00" cy="383.88" r="1.7" fill="#fff" stroke="#2a2a2a" stroke-width="1.0"/><circle cx="137.20" cy="379.70" r="1.7" fill="#fff" stroke="#2a2a2a" stroke-width="1.0"/><circle cx="137.20" cy="385.30" r="1.7" fill="#fff" stroke="#2a2a2a" stroke-width="1.0"/><circle cx="139.10" cy="388.40" r="1.7" fill="#fff" stroke="#2a2a2a" stroke-width="1.0"/>
<line x1="139.10" y1="379.81" x2="139.10" y2="384.79" stroke="#b3173d" stroke-width="0.8" />
<line x1="137.30" y1="379.81" x2="140.90" y2="379.81" stroke="#b3173d" stroke-width="0.8" />
<line x1="137.30" y1="384.79" x2="140.90" y2="384.79" stroke="#b3173d" stroke-width="0.8" />
<line x1="135.30" y1="382.30" x2="142.90" y2="382.30" stroke="#b3173d" stroke-width="1.6" />
<circle cx="139.10" cy="375.70" r="0.95" fill="#c8304f"/>
<circle cx="150.72" cy="397.57" r="1.7" fill="#fff" stroke="#2a2a2a" stroke-width="1.0"/><circle cx="146.92" cy="396.32" r="1.7" fill="#fff" stroke="#2a2a2a" stroke-width="1.0"/><circle cx="146.92" cy="398.89" r="1.7" fill="#fff" stroke="#2a2a2a" stroke-width="1.0"/><circle cx="150.72" cy="394.40" r="1.7" fill="#fff" stroke="#2a2a2a" stroke-width="1.0"/><circle cx="150.72" cy="400.50" r="1.7" fill="#fff" stroke="#2a2a2a" stroke-width="1.0"/>
<line x1="150.72" y1="395.66" x2="150.72" y2="399.14" stroke="#f2a028" stroke-width="0.8" />
<line x1="148.92" y1="395.66" x2="152.52" y2="395.66" stroke="#f2a028" stroke-width="0.8" />
<line x1="148.92" y1="399.14" x2="152.52" y2="399.14" stroke="#f2a028" stroke-width="0.8" />
<line x1="146.92" y1="397.40" x2="154.52" y2="397.40" stroke="#f2a028" stroke-width="1.6" />
<circle cx="147.82" cy="390.80" r="0.95" fill="#eea030"/>
<circle cx="150.72" cy="390.80" r="0.95" fill="#eea030"/>
<circle cx="153.62" cy="390.80" r="0.95" fill="#eea030"/>
<line x1="170.60" y1="452.70" x2="170.60" y2="456.20" stroke="#222" stroke-width="1.0" />
<line x1="182.22" y1="452.70" x2="182.22" y2="456.20" stroke="#222" stroke-width="1.0" />
<line x1="193.84" y1="452.70" x2="193.84" y2="456.20" stroke="#222" stroke-width="1.0" />
<line x1="205.46" y1="452.70" x2="205.46" y2="456.20" stroke="#222" stroke-width="1.0" />
<line x1="217.08" y1="452.70" x2="217.08" y2="456.20" stroke="#222" stroke-width="1.0" />
<line x1="228.70" y1="452.70" x2="228.70" y2="456.20" stroke="#222" stroke-width="1.0" />
<line x1="240.32" y1="452.70" x2="240.32" y2="456.20" stroke="#222" stroke-width="1.0" />
<line x1="161.40" y1="396.50" x2="249.80" y2="396.50" stroke="#6e6e6e" stroke-width="1.3" stroke-dasharray="2.2,2"/>
<circle cx="170.60" cy="396.45" r="1.7" fill="#222" stroke="#2a2a2a" stroke-width="1.0"/><circle cx="169.10" cy="396.76" r="1.7" fill="#222" stroke="#2a2a2a" stroke-width="1.0"/><circle cx="172.10" cy="397.18" r="1.7" fill="#222" stroke="#2a2a2a" stroke-width="1.0"/><circle cx="172.10" cy="395.66" r="1.7" fill="#222" stroke="#2a2a2a" stroke-width="1.0"/><circle cx="167.60" cy="397.35" r="1.7" fill="#222" stroke="#2a2a2a" stroke-width="1.0"/><circle cx="173.60" cy="397.69" r="1.7" fill="#222" stroke="#2a2a2a" stroke-width="1.0"/><circle cx="169.10" cy="395.25" r="1.7" fill="#222" stroke="#2a2a2a" stroke-width="1.0"/><circle cx="166.10" cy="397.82" r="1.7" fill="#222" stroke="#2a2a2a" stroke-width="1.0"/><circle cx="167.60" cy="395.02" r="1.7" fill="#222" stroke="#2a2a2a" stroke-width="1.0"/><circle cx="170.60" cy="394.50" r="1.7" fill="#222" stroke="#2a2a2a" stroke-width="1.0"/><circle cx="170.60" cy="398.72" r="1.7" fill="#222" stroke="#2a2a2a" stroke-width="1.0"/><circle cx="172.10" cy="393.88" r="1.7" fill="#222" stroke="#2a2a2a" stroke-width="1.0"/><circle cx="169.10" cy="399.25" r="1.7" fill="#222" stroke="#2a2a2a" stroke-width="1.0"/><circle cx="172.10" cy="399.45" r="1.7" fill="#222" stroke="#2a2a2a" stroke-width="1.0"/><circle cx="169.10" cy="393.38" r="1.7" fill="#222" stroke="#2a2a2a" stroke-width="1.0"/><circle cx="167.60" cy="393.23" r="1.7" fill="#222" stroke="#2a2a2a" stroke-width="1.0"/><circle cx="173.60" cy="393.08" r="1.7" fill="#222" stroke="#2a2a2a" stroke-width="1.0"/><circle cx="167.60" cy="399.95" r="1.7" fill="#fff" stroke="#2a2a2a" stroke-width="1.0"/><circle cx="170.60" cy="392.37" r="1.7" fill="#fff" stroke="#2a2a2a" stroke-width="1.0"/><circle cx="169.10" cy="391.80" r="1.7" fill="#fff" stroke="#2a2a2a" stroke-width="1.0"/><circle cx="170.60" cy="401.30" r="1.7" fill="#fff" stroke="#2a2a2a" stroke-width="1.0"/><circle cx="170.60" cy="389.80" r="1.7" fill="#fff" stroke="#2a2a2a" stroke-width="1.0"/>
<line x1="170.60" y1="393.21" x2="170.60" y2="399.79" stroke="#111" stroke-width="0.8" />
<line x1="168.80" y1="393.21" x2="172.40" y2="393.21" stroke="#111" stroke-width="0.8" />
<line x1="168.80" y1="399.79" x2="172.40" y2="399.79" stroke="#111" stroke-width="0.8" />
<line x1="166.80" y1="396.50" x2="174.40" y2="396.50" stroke="#111" stroke-width="1.6" />
<circle cx="182.22" cy="402.61" r="1.7" fill="#fff" stroke="#2a2a2a" stroke-width="1.0"/><circle cx="178.42" cy="401.68" r="1.7" fill="#fff" stroke="#2a2a2a" stroke-width="1.0"/><circle cx="186.02" cy="403.01" r="1.7" fill="#fff" stroke="#2a2a2a" stroke-width="1.0"/><circle cx="180.32" cy="404.24" r="1.7" fill="#fff" stroke="#2a2a2a" stroke-width="1.0"/><circle cx="182.22" cy="399.50" r="1.7" fill="#fff" stroke="#2a2a2a" stroke-width="1.0"/><circle cx="184.12" cy="405.70" r="1.7" fill="#fff" stroke="#2a2a2a" stroke-width="1.0"/>
<line x1="182.22" y1="400.43" x2="182.22" y2="403.97" stroke="#2d5f92" stroke-width="0.8" />
<line x1="180.42" y1="400.43" x2="184.02" y2="400.43" stroke="#2d5f92" stroke-width="0.8" />
<line x1="180.42" y1="403.97" x2="184.02" y2="403.97" stroke="#2d5f92" stroke-width="0.8" />
<line x1="178.42" y1="402.20" x2="186.02" y2="402.20" stroke="#25578b" stroke-width="1.6" />
<circle cx="180.77" cy="411.40" r="0.95" fill="#3d6f9f"/>
<circle cx="183.67" cy="411.40" r="0.95" fill="#3d6f9f"/>
<circle cx="193.84" cy="422.11" r="1.7" fill="#fff" stroke="#2a2a2a" stroke-width="1.0"/><circle cx="190.04" cy="422.83" r="1.7" fill="#fff" stroke="#2a2a2a" stroke-width="1.0"/><circle cx="195.74" cy="423.84" r="1.7" fill="#fff" stroke="#2a2a2a" stroke-width="1.0"/><circle cx="191.94" cy="419.80" r="1.7" fill="#fff" stroke="#2a2a2a" stroke-width="1.0"/><circle cx="193.84" cy="426.90" r="1.7" fill="#fff" stroke="#2a2a2a" stroke-width="1.0"/>
<line x1="193.84" y1="419.97" x2="193.84" y2="424.03" stroke="#2d5f92" stroke-width="0.8" />
<line x1="192.04" y1="419.97" x2="195.64" y2="419.97" stroke="#2d5f92" stroke-width="0.8" />
<line x1="192.04" y1="424.03" x2="195.64" y2="424.03" stroke="#2d5f92" stroke-width="0.8" />
<line x1="190.04" y1="422.00" x2="197.64" y2="422.00" stroke="#25578b" stroke-width="1.6" />
<circle cx="189.49" cy="431.90" r="0.95" fill="#3d6f9f"/>
<circle cx="192.39" cy="431.90" r="0.95" fill="#3d6f9f"/>
<circle cx="195.29" cy="431.90" r="0.95" fill="#3d6f9f"/>
<circle cx="198.19" cy="431.90" r="0.95" fill="#3d6f9f"/>
<circle cx="205.46" cy="415.42" r="1.7" fill="#fff" stroke="#2a2a2a" stroke-width="1.0"/><circle cx="201.66" cy="415.53" r="1.7" fill="#fff" stroke="#2a2a2a" stroke-width="1.0"/><circle cx="209.26" cy="415.10" r="1.7" fill="#fff" stroke="#2a2a2a" stroke-width="1.0"/><circle cx="203.56" cy="413.70" r="1.7" fill="#fff" stroke="#2a2a2a" stroke-width="1.0"/><circle cx="203.56" cy="417.20" r="1.7" fill="#fff" stroke="#2a2a2a" stroke-width="1.0"/>
<line x1="205.46" y1="414.40" x2="205.46" y2="416.40" stroke="#2d5f92" stroke-width="0.8" />
<line x1="203.66" y1="414.40" x2="207.26" y2="414.40" stroke="#2d5f92" stroke-width="0.8" />
<line x1="203.66" y1="416.40" x2="207.26" y2="416.40" stroke="#2d5f92" stroke-width="0.8" />
<line x1="201.66" y1="415.40" x2="209.26" y2="415.40" stroke="#25578b" stroke-width="1.6" />
<circle cx="201.11" cy="422.50" r="0.95" fill="#3d6f9f"/>
<circle cx="204.01" cy="422.50" r="0.95" fill="#3d6f9f"/>
<circle cx="206.91" cy="422.50" r="0.95" fill="#3d6f9f"/>
<circle cx="209.81" cy="422.50" r="0.95" fill="#3d6f9f"/>
<circle cx="217.08" cy="409.04" r="1.7" fill="#fff" stroke="#2a2a2a" stroke-width="1.0"/><circle cx="215.18" cy="407.08" r="1.7" fill="#fff" stroke="#2a2a2a" stroke-width="1.0"/><circle cx="215.18" cy="411.35" r="1.7" fill="#fff" stroke="#2a2a2a" stroke-width="1.0"/><circle cx="218.98" cy="406.07" r="1.7" fill="#fff" stroke="#2a2a2a" stroke-width="1.0"/><circle cx="218.98" cy="412.33" r="1.7" fill="#fff" stroke="#2a2a2a" stroke-width="1.0"/><circle cx="217.08" cy="402.20" r="1.7" fill="#fff" stroke="#2a2a2a" stroke-width="1.0"/><circle cx="217.08" cy="416.30" r="1.7" fill="#fff" stroke="#2a2a2a" stroke-width="1.0"/>
<line x1="217.08" y1="405.17" x2="217.08" y2="413.23" stroke="#2d5f92" stroke-width="0.8" />
<line x1="215.28" y1="405.17" x2="218.88" y2="405.17" stroke="#2d5f92" stroke-width="0.8" />
<line x1="215.28" y1="413.23" x2="218.88" y2="413.23" stroke="#2d5f92" stroke-width="0.8" />
<line x1="213.28" y1="409.20" x2="220.88" y2="409.20" stroke="#25578b" stroke-width="1.6" />
<circle cx="228.70" cy="391.24" r="1.7" fill="#fff" stroke="#2a2a2a" stroke-width="1.0"/><circle cx="224.90" cy="389.97" r="1.7" fill="#fff" stroke="#2a2a2a" stroke-width="1.0"/><circle cx="226.80" cy="393.00" r="1.7" fill="#fff" stroke="#2a2a2a" stroke-width="1.0"/><circle cx="228.70" cy="388.37" r="1.7" fill="#fff" stroke="#2a2a2a" stroke-width="1.0"/><circle cx="228.70" cy="395.00" r="1.7" fill="#fff" stroke="#2a2a2a" stroke-width="1.0"/><circle cx="228.70" cy="385.30" r="1.7" fill="#fff" stroke="#2a2a2a" stroke-width="1.0"/>
<line x1="228.70" y1="387.93" x2="228.70" y2="393.47" stroke="#b3173d" stroke-width="0.8" />
<line x1="226.90" y1="387.93" x2="230.50" y2="387.93" stroke="#b3173d" stroke-width="0.8" />
<line x1="226.90" y1="393.47" x2="230.50" y2="393.47" stroke="#b3173d" stroke-width="0.8" />
<line x1="224.90" y1="390.70" x2="232.50" y2="390.70" stroke="#b3173d" stroke-width="1.6" />
<circle cx="240.32" cy="404.47" r="1.7" fill="#fff" stroke="#2a2a2a" stroke-width="1.0"/><circle cx="238.42" cy="406.48" r="1.7" fill="#fff" stroke="#2a2a2a" stroke-width="1.0"/><circle cx="238.42" cy="402.65" r="1.7" fill="#fff" stroke="#2a2a2a" stroke-width="1.0"/><circle cx="240.32" cy="409.20" r="1.7" fill="#fff" stroke="#2a2a2a" stroke-width="1.0"/><circle cx="240.32" cy="400.40" r="1.7" fill="#fff" stroke="#2a2a2a" stroke-width="1.0"/>
<line x1="240.32" y1="402.29" x2="240.32" y2="407.31" stroke="#f2a028" stroke-width="0.8" />
<line x1="238.52" y1="402.29" x2="242.12" y2="402.29" stroke="#f2a028" stroke-width="0.8" />
<line x1="238.52" y1="407.31" x2="242.12" y2="407.31" stroke="#f2a028" stroke-width="0.8" />
<line x1="236.52" y1="404.80" x2="244.12" y2="404.80" stroke="#f2a028" stroke-width="1.6" />
<line x1="260.10" y1="452.70" x2="260.10" y2="456.20" stroke="#222" stroke-width="1.0" />
<line x1="271.72" y1="452.70" x2="271.72" y2="456.20" stroke="#222" stroke-width="1.0" />
<line x1="283.34" y1="452.70" x2="283.34" y2="456.20" stroke="#222" stroke-width="1.0" />
<line x1="294.96" y1="452.70" x2="294.96" y2="456.20" stroke="#222" stroke-width="1.0" />
<line x1="306.58" y1="452.70" x2="306.58" y2="456.20" stroke="#222" stroke-width="1.0" />
<line x1="318.20" y1="452.70" x2="318.20" y2="456.20" stroke="#222" stroke-width="1.0" />
<line x1="329.82" y1="452.70" x2="329.82" y2="456.20" stroke="#222" stroke-width="1.0" />
<line x1="251.80" y1="402.20" x2="338.90" y2="402.20" stroke="#6e6e6e" stroke-width="1.3" stroke-dasharray="2.2,2"/>
<circle cx="260.10" cy="400.81" r="1.7" fill="#222" stroke="#2a2a2a" stroke-width="1.0"/><circle cx="258.60" cy="400.99" r="1.7" fill="#222" stroke="#2a2a2a" stroke-width="1.0"/><circle cx="261.60" cy="399.79" r="1.7" fill="#222" stroke="#2a2a2a" stroke-width="1.0"/><circle cx="261.60" cy="401.35" r="1.7" fill="#222" stroke="#2a2a2a" stroke-width="1.0"/><circle cx="260.10" cy="399.23" r="1.7" fill="#222" stroke="#2a2a2a" stroke-width="1.0"/><circle cx="258.60" cy="399.06" r="1.7" fill="#222" stroke="#2a2a2a" stroke-width="1.0"/><circle cx="257.10" cy="398.93" r="1.7" fill="#222" stroke="#2a2a2a" stroke-width="1.0"/><circle cx="257.10" cy="402.24" r="1.7" fill="#222" stroke="#2a2a2a" stroke-width="1.0"/><circle cx="261.60" cy="398.07" r="1.7" fill="#222" stroke="#2a2a2a" stroke-width="1.0"/><circle cx="260.10" cy="402.79" r="1.7" fill="#222" stroke="#2a2a2a" stroke-width="1.0"/><circle cx="258.60" cy="402.85" r="1.7" fill="#222" stroke="#2a2a2a" stroke-width="1.0"/><circle cx="260.10" cy="397.74" r="1.7" fill="#fff" stroke="#2a2a2a" stroke-width="1.0"/><circle cx="261.60" cy="403.32" r="1.7" fill="#fff" stroke="#2a2a2a" stroke-width="1.0"/><circle cx="260.10" cy="396.00" r="1.7" fill="#fff" stroke="#2a2a2a" stroke-width="1.0"/><circle cx="260.10" cy="404.80" r="1.7" fill="#fff" stroke="#2a2a2a" stroke-width="1.0"/>
<line x1="260.10" y1="397.89" x2="260.10" y2="402.91" stroke="#111" stroke-width="0.8" />
<line x1="258.30" y1="397.89" x2="261.90" y2="397.89" stroke="#111" stroke-width="0.8" />
<line x1="258.30" y1="402.91" x2="261.90" y2="402.91" stroke="#111" stroke-width="0.8" />
<line x1="256.30" y1="400.40" x2="263.90" y2="400.40" stroke="#111" stroke-width="1.6" />
<circle cx="271.72" cy="408.92" r="1.7" fill="#fff" stroke="#2a2a2a" stroke-width="1.0"/><circle cx="267.92" cy="407.77" r="1.7" fill="#fff" stroke="#2a2a2a" stroke-width="1.0"/><circle cx="271.72" cy="411.89" r="1.7" fill="#fff" stroke="#2a2a2a" stroke-width="1.0"/><circle cx="271.72" cy="405.80" r="1.7" fill="#fff" stroke="#2a2a2a" stroke-width="1.0"/><circle cx="271.72" cy="414.50" r="1.7" fill="#fff" stroke="#2a2a2a" stroke-width="1.0"/><circle cx="271.72" cy="402.20" r="1.7" fill="#fff" stroke="#2a2a2a" stroke-width="1.0"/>
<line x1="271.72" y1="405.69" x2="271.72" y2="412.71" stroke="#2d5f92" stroke-width="0.8" />
<line x1="269.92" y1="405.69" x2="273.52" y2="405.69" stroke="#2d5f92" stroke-width="0.8" />
<line x1="269.92" y1="412.71" x2="273.52" y2="412.71" stroke="#2d5f92" stroke-width="0.8" />
<line x1="267.92" y1="409.20" x2="275.52" y2="409.20" stroke="#25578b" stroke-width="1.6" />
<circle cx="283.34" cy="434.32" r="1.7" fill="#fff" stroke="#2a2a2a" stroke-width="1.0"/><circle cx="279.54" cy="435.55" r="1.7" fill="#fff" stroke="#2a2a2a" stroke-width="1.0"/><circle cx="287.14" cy="433.28" r="1.7" fill="#fff" stroke="#2a2a2a" stroke-width="1.0"/><circle cx="283.34" cy="437.11" r="1.7" fill="#fff" stroke="#2a2a2a" stroke-width="1.0"/><circle cx="283.34" cy="430.50" r="1.7" fill="#fff" stroke="#2a2a2a" stroke-width="1.0"/><circle cx="281.44" cy="439.30" r="1.7" fill="#fff" stroke="#2a2a2a" stroke-width="1.0"/>
<line x1="283.34" y1="432.39" x2="283.34" y2="437.41" stroke="#2d5f92" stroke-width="0.8" />
<line x1="281.54" y1="432.39" x2="285.14" y2="432.39" stroke="#2d5f92" stroke-width="0.8" />
<line x1="281.54" y1="437.41" x2="285.14" y2="437.41" stroke="#2d5f92" stroke-width="0.8" />
<line x1="279.54" y1="434.90" x2="287.14" y2="434.90" stroke="#25578b" stroke-width="1.6" />
<circle cx="278.99" cy="444.60" r="0.95" fill="#3d6f9f"/>
<circle cx="281.89" cy="444.60" r="0.95" fill="#3d6f9f"/>
<circle cx="284.79" cy="444.60" r="0.95" fill="#3d6f9f"/>
<circle cx="287.69" cy="444.60" r="0.95" fill="#3d6f9f"/>
<circle cx="294.96" cy="421.85" r="1.7" fill="#fff" stroke="#2a2a2a" stroke-width="1.0"/><circle cx="291.16" cy="423.01" r="1.7" fill="#fff" stroke="#2a2a2a" stroke-width="1.0"/><circle cx="293.06" cy="420.00" r="1.7" fill="#fff" stroke="#2a2a2a" stroke-width="1.0"/><circle cx="298.76" cy="423.42" r="1.7" fill="#fff" stroke="#2a2a2a" stroke-width="1.0"/><circle cx="294.96" cy="418.00" r="1.7" fill="#fff" stroke="#2a2a2a" stroke-width="1.0"/><circle cx="294.96" cy="426.00" r="1.7" fill="#fff" stroke="#2a2a2a" stroke-width="1.0"/>
<line x1="294.96" y1="419.31" x2="294.96" y2="423.89" stroke="#2d5f92" stroke-width="0.8" />
<line x1="293.16" y1="419.31" x2="296.76" y2="419.31" stroke="#2d5f92" stroke-width="0.8" />
<line x1="293.16" y1="423.89" x2="296.76" y2="423.89" stroke="#2d5f92" stroke-width="0.8" />
<line x1="291.16" y1="421.60" x2="298.76" y2="421.60" stroke="#25578b" stroke-width="1.6" />
<circle cx="290.61" cy="430.50" r="0.95" fill="#3d6f9f"/>
<circle cx="293.51" cy="430.50" r="0.95" fill="#3d6f9f"/>
<circle cx="296.41" cy="430.50" r="0.95" fill="#3d6f9f"/>
<circle cx="299.31" cy="430.50" r="0.95" fill="#3d6f9f"/>
<circle cx="306.58" cy="422.65" r="1.7" fill="#fff" stroke="#2a2a2a" stroke-width="1.0"/><circle cx="302.78" cy="423.96" r="1.7" fill="#fff" stroke="#2a2a2a" stroke-width="1.0"/><circle cx="304.68" cy="421.00" r="1.7" fill="#fff" stroke="#2a2a2a" stroke-width="1.0"/><circle cx="308.48" cy="424.65" r="1.7" fill="#fff" stroke="#2a2a2a" stroke-width="1.0"/><circle cx="306.58" cy="419.00" r="1.7" fill="#fff" stroke="#2a2a2a" stroke-width="1.0"/><circle cx="306.58" cy="427.00" r="1.7" fill="#fff" stroke="#2a2a2a" stroke-width="1.0"/>
<line x1="306.58" y1="420.21" x2="306.58" y2="424.79" stroke="#2d5f92" stroke-width="0.8" />
<line x1="304.78" y1="420.21" x2="308.38" y2="420.21" stroke="#2d5f92" stroke-width="0.8" />
<line x1="304.78" y1="424.79" x2="308.38" y2="424.79" stroke="#2d5f92" stroke-width="0.8" />
<line x1="302.78" y1="422.50" x2="310.38" y2="422.50" stroke="#25578b" stroke-width="1.6" />
<circle cx="302.23" cy="435.80" r="0.95" fill="#3d6f9f"/>
<circle cx="305.13" cy="435.80" r="0.95" fill="#3d6f9f"/>
<circle cx="308.03" cy="435.80" r="0.95" fill="#3d6f9f"/>
<circle cx="310.93" cy="435.80" r="0.95" fill="#3d6f9f"/>
<circle cx="318.20" cy="393.01" r="1.7" fill="#fff" stroke="#2a2a2a" stroke-width="1.0"/><circle cx="314.40" cy="393.34" r="1.7" fill="#fff" stroke="#2a2a2a" stroke-width="1.0"/><circle cx="316.30" cy="391.00" r="1.7" fill="#fff" stroke="#2a2a2a" stroke-width="1.0"/><circle cx="320.10" cy="390.72" r="1.7" fill="#fff" stroke="#2a2a2a" stroke-width="1.0"/><circle cx="320.10" cy="394.78" r="1.7" fill="#fff" stroke="#2a2a2a" stroke-width="1.0"/><circle cx="314.40" cy="389.12" r="1.7" fill="#fff" stroke="#2a2a2a" stroke-width="1.0"/><circle cx="318.20" cy="397.70" r="1.7" fill="#fff" stroke="#2a2a2a" stroke-width="1.0"/><circle cx="318.20" cy="386.20" r="1.7" fill="#fff" stroke="#2a2a2a" stroke-width="1.0"/>
<line x1="318.20" y1="389.11" x2="318.20" y2="395.69" stroke="#b3173d" stroke-width="0.8" />
<line x1="316.40" y1="389.11" x2="320.00" y2="389.11" stroke="#b3173d" stroke-width="0.8" />
<line x1="316.40" y1="395.69" x2="320.00" y2="395.69" stroke="#b3173d" stroke-width="0.8" />
<line x1="314.40" y1="392.40" x2="322.00" y2="392.40" stroke="#b3173d" stroke-width="1.6" />
<circle cx="315.30" cy="382.20" r="0.95" fill="#c8304f"/>
<circle cx="318.20" cy="382.20" r="0.95" fill="#c8304f"/>
<circle cx="321.10" cy="382.20" r="0.95" fill="#c8304f"/>
<circle cx="329.82" cy="410.49" r="1.7" fill="#fff" stroke="#2a2a2a" stroke-width="1.0"/><circle cx="329.82" cy="413.70" r="1.7" fill="#fff" stroke="#2a2a2a" stroke-width="1.0"/><circle cx="329.82" cy="407.50" r="1.7" fill="#fff" stroke="#2a2a2a" stroke-width="1.0"/>
<line x1="329.82" y1="409.23" x2="329.82" y2="412.77" stroke="#f2a028" stroke-width="0.8" />
<line x1="328.02" y1="409.23" x2="331.62" y2="409.23" stroke="#f2a028" stroke-width="0.8" />
<line x1="328.02" y1="412.77" x2="331.62" y2="412.77" stroke="#f2a028" stroke-width="0.8" />
<line x1="326.02" y1="411.00" x2="333.62" y2="411.00" stroke="#f2a028" stroke-width="1.6" />
<line x1="350.30" y1="452.70" x2="350.30" y2="456.20" stroke="#222" stroke-width="1.0" />
<line x1="361.92" y1="452.70" x2="361.92" y2="456.20" stroke="#222" stroke-width="1.0" />
<line x1="373.54" y1="452.70" x2="373.54" y2="456.20" stroke="#222" stroke-width="1.0" />
<line x1="385.16" y1="452.70" x2="385.16" y2="456.20" stroke="#222" stroke-width="1.0" />
<line x1="396.78" y1="452.70" x2="396.78" y2="456.20" stroke="#222" stroke-width="1.0" />
<line x1="408.40" y1="452.70" x2="408.40" y2="456.20" stroke="#222" stroke-width="1.0" />
<line x1="420.02" y1="452.70" x2="420.02" y2="456.20" stroke="#222" stroke-width="1.0" />
<line x1="340.90" y1="400.40" x2="426.00" y2="400.40" stroke="#6e6e6e" stroke-width="1.3" stroke-dasharray="2.2,2"/>
<circle cx="350.30" cy="399.51" r="1.7" fill="#222" stroke="#2a2a2a" stroke-width="1.0"/><circle cx="348.80" cy="399.82" r="1.7" fill="#222" stroke="#2a2a2a" stroke-width="1.0"/><circle cx="351.80" cy="400.18" r="1.7" fill="#222" stroke="#2a2a2a" stroke-width="1.0"/><circle cx="351.80" cy="398.69" r="1.7" fill="#222" stroke="#2a2a2a" stroke-width="1.0"/><circle cx="347.30" cy="400.65" r="1.7" fill="#222" stroke="#2a2a2a" stroke-width="1.0"/><circle cx="348.80" cy="398.33" r="1.7" fill="#222" stroke="#2a2a2a" stroke-width="1.0"/><circle cx="347.30" cy="398.21" r="1.7" fill="#222" stroke="#2a2a2a" stroke-width="1.0"/><circle cx="350.30" cy="401.19" r="1.7" fill="#222" stroke="#2a2a2a" stroke-width="1.0"/><circle cx="353.30" cy="401.21" r="1.7" fill="#222" stroke="#2a2a2a" stroke-width="1.0"/><circle cx="350.30" cy="397.63" r="1.7" fill="#222" stroke="#2a2a2a" stroke-width="1.0"/><circle cx="348.80" cy="401.67" r="1.7" fill="#222" stroke="#2a2a2a" stroke-width="1.0"/><circle cx="353.30" cy="397.32" r="1.7" fill="#222" stroke="#2a2a2a" stroke-width="1.0"/><circle cx="348.80" cy="396.45" r="1.7" fill="#fff" stroke="#2a2a2a" stroke-width="1.0"/><circle cx="351.80" cy="402.61" r="1.7" fill="#fff" stroke="#2a2a2a" stroke-width="1.0"/><circle cx="350.30" cy="395.50" r="1.7" fill="#fff" stroke="#2a2a2a" stroke-width="1.0"/><circle cx="350.30" cy="404.00" r="1.7" fill="#fff" stroke="#2a2a2a" stroke-width="1.0"/>
<line x1="350.30" y1="397.07" x2="350.30" y2="401.93" stroke="#111" stroke-width="0.8" />
<line x1="348.50" y1="397.07" x2="352.10" y2="397.07" stroke="#111" stroke-width="0.8" />
<line x1="348.50" y1="401.93" x2="352.10" y2="401.93" stroke="#111" stroke-width="0.8" />
<line x1="346.50" y1="399.50" x2="354.10" y2="399.50" stroke="#111" stroke-width="1.6" />
<circle cx="361.92" cy="406.83" r="1.7" fill="#fff" stroke="#2a2a2a" stroke-width="1.0"/><circle cx="358.12" cy="405.48" r="1.7" fill="#fff" stroke="#2a2a2a" stroke-width="1.0"/><circle cx="361.92" cy="409.54" r="1.7" fill="#fff" stroke="#2a2a2a" stroke-width="1.0"/><circle cx="361.92" cy="403.08" r="1.7" fill="#fff" stroke="#2a2a2a" stroke-width="1.0"/><circle cx="360.02" cy="401.27" r="1.7" fill="#fff" stroke="#2a2a2a" stroke-width="1.0"/><circle cx="361.92" cy="412.80" r="1.7" fill="#fff" stroke="#2a2a2a" stroke-width="1.0"/><circle cx="361.92" cy="396.00" r="1.7" fill="#fff" stroke="#2a2a2a" stroke-width="1.0"/>
<line x1="361.92" y1="402.20" x2="361.92" y2="411.80" stroke="#2d5f92" stroke-width="0.8" />
<line x1="360.12" y1="402.20" x2="363.72" y2="402.20" stroke="#2d5f92" stroke-width="0.8" />
<line x1="360.12" y1="411.80" x2="363.72" y2="411.80" stroke="#2d5f92" stroke-width="0.8" />
<line x1="358.12" y1="407.00" x2="365.72" y2="407.00" stroke="#25578b" stroke-width="1.6" />
<circle cx="373.54" cy="433.74" r="1.7" fill="#fff" stroke="#2a2a2a" stroke-width="1.0"/><circle cx="369.74" cy="432.21" r="1.7" fill="#fff" stroke="#2a2a2a" stroke-width="1.0"/><circle cx="371.64" cy="436.00" r="1.7" fill="#fff" stroke="#2a2a2a" stroke-width="1.0"/><circle cx="375.44" cy="436.68" r="1.7" fill="#fff" stroke="#2a2a2a" stroke-width="1.0"/><circle cx="373.54" cy="430.00" r="1.7" fill="#fff" stroke="#2a2a2a" stroke-width="1.0"/><circle cx="373.54" cy="440.20" r="1.7" fill="#fff" stroke="#2a2a2a" stroke-width="1.0"/>
<line x1="373.54" y1="430.69" x2="373.54" y2="436.51" stroke="#2d5f92" stroke-width="0.8" />
<line x1="371.74" y1="430.69" x2="375.34" y2="430.69" stroke="#2d5f92" stroke-width="0.8" />
<line x1="371.74" y1="436.51" x2="375.34" y2="436.51" stroke="#2d5f92" stroke-width="0.8" />
<line x1="369.74" y1="433.60" x2="377.34" y2="433.60" stroke="#25578b" stroke-width="1.6" />
<circle cx="369.19" cy="445.90" r="0.95" fill="#3d6f9f"/>
<circle cx="372.09" cy="445.90" r="0.95" fill="#3d6f9f"/>
<circle cx="374.99" cy="445.90" r="0.95" fill="#3d6f9f"/>
<circle cx="377.89" cy="445.90" r="0.95" fill="#3d6f9f"/>
<circle cx="385.16" cy="421.01" r="1.7" fill="#fff" stroke="#2a2a2a" stroke-width="1.0"/><circle cx="381.36" cy="422.58" r="1.7" fill="#fff" stroke="#2a2a2a" stroke-width="1.0"/><circle cx="381.36" cy="419.81" r="1.7" fill="#fff" stroke="#2a2a2a" stroke-width="1.0"/><circle cx="385.16" cy="417.46" r="1.7" fill="#fff" stroke="#2a2a2a" stroke-width="1.0"/><circle cx="385.16" cy="426.00" r="1.7" fill="#fff" stroke="#2a2a2a" stroke-width="1.0"/><circle cx="383.26" cy="415.57" r="1.7" fill="#fff" stroke="#2a2a2a" stroke-width="1.0"/><circle cx="385.16" cy="411.90" r="1.7" fill="#fff" stroke="#2a2a2a" stroke-width="1.0"/>
<line x1="385.16" y1="417.27" x2="385.16" y2="425.33" stroke="#2d5f92" stroke-width="0.8" />
<line x1="383.36" y1="417.27" x2="386.96" y2="417.27" stroke="#2d5f92" stroke-width="0.8" />
<line x1="383.36" y1="425.33" x2="386.96" y2="425.33" stroke="#2d5f92" stroke-width="0.8" />
<line x1="381.36" y1="421.30" x2="388.96" y2="421.30" stroke="#25578b" stroke-width="1.6" />
<circle cx="382.26" cy="432.20" r="0.95" fill="#3d6f9f"/>
<circle cx="385.16" cy="432.20" r="0.95" fill="#3d6f9f"/>
<circle cx="388.06" cy="432.20" r="0.95" fill="#3d6f9f"/>
<circle cx="396.78" cy="417.05" r="1.7" fill="#fff" stroke="#2a2a2a" stroke-width="1.0"/><circle cx="394.88" cy="415.00" r="1.7" fill="#fff" stroke="#2a2a2a" stroke-width="1.0"/><circle cx="398.68" cy="414.09" r="1.7" fill="#fff" stroke="#2a2a2a" stroke-width="1.0"/><circle cx="394.88" cy="419.10" r="1.7" fill="#fff" stroke="#2a2a2a" stroke-width="1.0"/><circle cx="398.68" cy="420.01" r="1.7" fill="#fff" stroke="#2a2a2a" stroke-width="1.0"/><circle cx="396.78" cy="410.60" r="1.7" fill="#fff" stroke="#2a2a2a" stroke-width="1.0"/><circle cx="396.78" cy="424.30" r="1.7" fill="#fff" stroke="#2a2a2a" stroke-width="1.0"/>
<line x1="396.78" y1="412.39" x2="396.78" y2="420.21" stroke="#2d5f92" stroke-width="0.8" />
<line x1="394.98" y1="412.39" x2="398.58" y2="412.39" stroke="#2d5f92" stroke-width="0.8" />
<line x1="394.98" y1="420.21" x2="398.58" y2="420.21" stroke="#2d5f92" stroke-width="0.8" />
<line x1="392.98" y1="416.30" x2="400.58" y2="416.30" stroke="#25578b" stroke-width="1.6" />
<circle cx="395.33" cy="428.70" r="0.95" fill="#3d6f9f"/>
<circle cx="398.23" cy="428.70" r="0.95" fill="#3d6f9f"/>
<circle cx="408.40" cy="385.64" r="1.7" fill="#fff" stroke="#2a2a2a" stroke-width="1.0"/><circle cx="406.50" cy="387.36" r="1.7" fill="#fff" stroke="#2a2a2a" stroke-width="1.0"/><circle cx="410.30" cy="387.99" r="1.7" fill="#fff" stroke="#2a2a2a" stroke-width="1.0"/><circle cx="408.40" cy="382.70" r="1.7" fill="#fff" stroke="#2a2a2a" stroke-width="1.0"/><circle cx="408.40" cy="391.50" r="1.7" fill="#fff" stroke="#2a2a2a" stroke-width="1.0"/>
<line x1="408.40" y1="383.39" x2="408.40" y2="388.41" stroke="#b3173d" stroke-width="0.8" />
<line x1="406.60" y1="383.39" x2="410.20" y2="383.39" stroke="#b3173d" stroke-width="0.8" />
<line x1="406.60" y1="388.41" x2="410.20" y2="388.41" stroke="#b3173d" stroke-width="0.8" />
<line x1="404.60" y1="385.90" x2="412.20" y2="385.90" stroke="#b3173d" stroke-width="1.6" />
<circle cx="405.50" cy="378.30" r="0.95" fill="#c8304f"/>
<circle cx="408.40" cy="378.30" r="0.95" fill="#c8304f"/>
<circle cx="411.30" cy="378.30" r="0.95" fill="#c8304f"/>
<circle cx="420.02" cy="404.28" r="1.7" fill="#fff" stroke="#2a2a2a" stroke-width="1.0"/><circle cx="418.12" cy="402.20" r="1.7" fill="#fff" stroke="#2a2a2a" stroke-width="1.0"/><circle cx="418.12" cy="406.60" r="1.7" fill="#fff" stroke="#2a2a2a" stroke-width="1.0"/>
<line x1="420.02" y1="402.64" x2="420.02" y2="405.16" stroke="#f2a028" stroke-width="0.8" />
<line x1="418.22" y1="402.64" x2="421.82" y2="402.64" stroke="#f2a028" stroke-width="0.8" />
<line x1="418.22" y1="405.16" x2="421.82" y2="405.16" stroke="#f2a028" stroke-width="0.8" />
<line x1="416.22" y1="403.90" x2="423.82" y2="403.90" stroke="#f2a028" stroke-width="1.6" />
<line x1="160.50" y1="365.00" x2="160.50" y2="452.70" stroke="#555" stroke-width="0.9" stroke-dasharray="1,1" shape-rendering="crispEdges"/>
<line x1="250.50" y1="365.00" x2="250.50" y2="452.70" stroke="#555" stroke-width="0.9" stroke-dasharray="1,1" shape-rendering="crispEdges"/>
<line x1="339.50" y1="365.00" x2="339.50" y2="452.70" stroke="#555" stroke-width="0.9" stroke-dasharray="1,1" shape-rendering="crispEdges"/>
<line x1="73.00" y1="470.50" x2="73.00" y2="558.90" stroke="#222" stroke-width="1.4" />
<line x1="69.50" y1="473.60" x2="73.00" y2="473.60" stroke="#222" stroke-width="1.0" />
<text x="66.80" y="476.20" font-size="7.3" fill="#2a2a2a" text-anchor="end" font-weight="normal" stroke="#2a2a2a" stroke-width="0.12" >18</text>
<line x1="69.50" y1="490.50" x2="73.00" y2="490.50" stroke="#222" stroke-width="1.0" />
<text x="66.80" y="493.10" font-size="7.3" fill="#2a2a2a" text-anchor="end" font-weight="normal" stroke="#2a2a2a" stroke-width="0.12" >16</text>
<line x1="69.50" y1="507.50" x2="73.00" y2="507.50" stroke="#222" stroke-width="1.0" />
<text x="66.80" y="510.10" font-size="7.3" fill="#2a2a2a" text-anchor="end" font-weight="normal" stroke="#2a2a2a" stroke-width="0.12" >14</text>
<line x1="69.50" y1="524.40" x2="73.00" y2="524.40" stroke="#222" stroke-width="1.0" />
<text x="66.80" y="527.00" font-size="7.3" fill="#2a2a2a" text-anchor="end" font-weight="normal" stroke="#2a2a2a" stroke-width="0.12" >12</text>
<line x1="69.50" y1="541.20" x2="73.00" y2="541.20" stroke="#222" stroke-width="1.0" />
<text x="66.80" y="543.80" font-size="7.3" fill="#2a2a2a" text-anchor="end" font-weight="normal" stroke="#2a2a2a" stroke-width="0.12" >10</text>
<line x1="69.50" y1="558.30" x2="73.00" y2="558.30" stroke="#222" stroke-width="1.0" />
<text x="66.80" y="560.90" font-size="7.3" fill="#2a2a2a" text-anchor="end" font-weight="normal" stroke="#2a2a2a" stroke-width="0.12" >8</text>
<text x="53.8" y="514.40" font-size="7.5" fill="#2a2a2a" stroke="#2a2a2a" stroke-width="0.22" text-anchor="middle" transform="rotate(-90 53.8 514.40)">CHr (pg)</text>
<line x1="72.30" y1="558.30" x2="427.00" y2="558.30" stroke="#222" stroke-width="1.4" />
<line x1="81.00" y1="558.30" x2="81.00" y2="561.80" stroke="#222" stroke-width="1.0" />
<line x1="92.62" y1="558.30" x2="92.62" y2="561.80" stroke="#222" stroke-width="1.0" />
<line x1="104.24" y1="558.30" x2="104.24" y2="561.80" stroke="#222" stroke-width="1.0" />
<line x1="115.86" y1="558.30" x2="115.86" y2="561.80" stroke="#222" stroke-width="1.0" />
<line x1="127.48" y1="558.30" x2="127.48" y2="561.80" stroke="#222" stroke-width="1.0" />
<line x1="139.10" y1="558.30" x2="139.10" y2="561.80" stroke="#222" stroke-width="1.0" />
<line x1="150.72" y1="558.30" x2="150.72" y2="561.80" stroke="#222" stroke-width="1.0" />
<line x1="74.00" y1="493.60" x2="159.40" y2="493.60" stroke="#6e6e6e" stroke-width="1.3" stroke-dasharray="2.2,2"/>
<circle cx="81.00" cy="494.36" r="1.7" fill="#222" stroke="#2a2a2a" stroke-width="1.0"/><circle cx="79.50" cy="494.44" r="1.7" fill="#222" stroke="#2a2a2a" stroke-width="1.0"/><circle cx="82.50" cy="494.72" r="1.7" fill="#222" stroke="#2a2a2a" stroke-width="1.0"/><circle cx="82.50" cy="493.27" r="1.7" fill="#222" stroke="#2a2a2a" stroke-width="1.0"/><circle cx="78.00" cy="494.86" r="1.7" fill="#222" stroke="#2a2a2a" stroke-width="1.0"/><circle cx="79.50" cy="492.92" r="1.7" fill="#222" stroke="#2a2a2a" stroke-width="1.0"/><circle cx="84.00" cy="495.11" r="1.7" fill="#222" stroke="#2a2a2a" stroke-width="1.0"/><circle cx="81.00" cy="492.73" r="1.7" fill="#222" stroke="#2a2a2a" stroke-width="1.0"/><circle cx="78.00" cy="492.55" r="1.7" fill="#222" stroke="#2a2a2a" stroke-width="1.0"/><circle cx="84.00" cy="492.34" r="1.7" fill="#222" stroke="#2a2a2a" stroke-width="1.0"/><circle cx="81.00" cy="495.85" r="1.7" fill="#222" stroke="#2a2a2a" stroke-width="1.0"/><circle cx="76.50" cy="492.06" r="1.7" fill="#222" stroke="#2a2a2a" stroke-width="1.0"/><circle cx="79.50" cy="496.12" r="1.7" fill="#222" stroke="#2a2a2a" stroke-width="1.0"/><circle cx="82.50" cy="496.34" r="1.7" fill="#222" stroke="#2a2a2a" stroke-width="1.0"/><circle cx="78.00" cy="496.54" r="1.7" fill="#222" stroke="#2a2a2a" stroke-width="1.0"/><circle cx="84.00" cy="496.84" r="1.7" fill="#222" stroke="#2a2a2a" stroke-width="1.0"/><circle cx="81.00" cy="491.12" r="1.7" fill="#222" stroke="#2a2a2a" stroke-width="1.0"/><circle cx="79.50" cy="490.88" r="1.7" fill="#fff" stroke="#2a2a2a" stroke-width="1.0"/><circle cx="76.50" cy="497.22" r="1.7" fill="#fff" stroke="#2a2a2a" stroke-width="1.0"/><circle cx="81.00" cy="497.44" r="1.7" fill="#fff" stroke="#2a2a2a" stroke-width="1.0"/><circle cx="82.50" cy="490.51" r="1.7" fill="#fff" stroke="#2a2a2a" stroke-width="1.0"/><circle cx="79.50" cy="497.59" r="1.7" fill="#fff" stroke="#2a2a2a" stroke-width="1.0"/><circle cx="82.50" cy="497.97" r="1.7" fill="#fff" stroke="#2a2a2a" stroke-width="1.0"/><circle cx="81.00" cy="489.60" r="1.7" fill="#fff" stroke="#2a2a2a" stroke-width="1.0"/><circle cx="81.00" cy="500.00" r="1.7" fill="#fff" stroke="#2a2a2a" stroke-width="1.0"/>
<line x1="81.00" y1="491.03" x2="81.00" y2="496.97" stroke="#111" stroke-width="0.8" />
<line x1="79.20" y1="491.03" x2="82.80" y2="491.03" stroke="#111" stroke-width="0.8" />
<line x1="79.20" y1="496.97" x2="82.80" y2="496.97" stroke="#111" stroke-width="0.8" />
<line x1="77.20" y1="494.00" x2="84.80" y2="494.00" stroke="#111" stroke-width="1.6" />
<circle cx="92.62" cy="501.98" r="1.7" fill="#fff" stroke="#2a2a2a" stroke-width="1.0"/><circle cx="88.82" cy="500.85" r="1.7" fill="#fff" stroke="#2a2a2a" stroke-width="1.0"/><circle cx="96.42" cy="503.13" r="1.7" fill="#fff" stroke="#2a2a2a" stroke-width="1.0"/><circle cx="94.52" cy="500.00" r="1.7" fill="#fff" stroke="#2a2a2a" stroke-width="1.0"/><circle cx="90.72" cy="504.30" r="1.7" fill="#fff" stroke="#2a2a2a" stroke-width="1.0"/>
<line x1="92.62" y1="500.47" x2="92.62" y2="502.93" stroke="#2d5f92" stroke-width="0.8" />
<line x1="90.82" y1="500.47" x2="94.42" y2="500.47" stroke="#2d5f92" stroke-width="0.8" />
<line x1="90.82" y1="502.93" x2="94.42" y2="502.93" stroke="#2d5f92" stroke-width="0.8" />
<line x1="88.82" y1="501.70" x2="96.42" y2="501.70" stroke="#25578b" stroke-width="1.6" />
<circle cx="88.27" cy="508.70" r="0.95" fill="#3d6f9f"/>
<circle cx="91.17" cy="508.70" r="0.95" fill="#3d6f9f"/>
<circle cx="94.07" cy="508.70" r="0.95" fill="#3d6f9f"/>
<circle cx="96.97" cy="508.70" r="0.95" fill="#3d6f9f"/>
<circle cx="104.24" cy="524.02" r="1.7" fill="#fff" stroke="#2a2a2a" stroke-width="1.0"/><circle cx="100.44" cy="524.93" r="1.7" fill="#fff" stroke="#2a2a2a" stroke-width="1.0"/><circle cx="102.34" cy="522.09" r="1.7" fill="#fff" stroke="#2a2a2a" stroke-width="1.0"/><circle cx="104.24" cy="527.50" r="1.7" fill="#fff" stroke="#2a2a2a" stroke-width="1.0"/><circle cx="104.24" cy="519.90" r="1.7" fill="#fff" stroke="#2a2a2a" stroke-width="1.0"/><circle cx="100.44" cy="528.90" r="1.7" fill="#fff" stroke="#2a2a2a" stroke-width="1.0"/><circle cx="104.24" cy="532.00" r="1.7" fill="#fff" stroke="#2a2a2a" stroke-width="1.0"/>
<line x1="104.24" y1="520.74" x2="104.24" y2="527.66" stroke="#2d5f92" stroke-width="0.8" />
<line x1="102.44" y1="520.74" x2="106.04" y2="520.74" stroke="#2d5f92" stroke-width="0.8" />
<line x1="102.44" y1="527.66" x2="106.04" y2="527.66" stroke="#2d5f92" stroke-width="0.8" />
<line x1="100.44" y1="524.20" x2="108.04" y2="524.20" stroke="#25578b" stroke-width="1.6" />
<circle cx="101.34" cy="538.00" r="0.95" fill="#3d6f9f"/>
<circle cx="104.24" cy="538.00" r="0.95" fill="#3d6f9f"/>
<circle cx="107.14" cy="538.00" r="0.95" fill="#3d6f9f"/>
<circle cx="115.86" cy="514.50" r="1.7" fill="#fff" stroke="#2a2a2a" stroke-width="1.0"/><circle cx="112.06" cy="515.66" r="1.7" fill="#fff" stroke="#2a2a2a" stroke-width="1.0"/><circle cx="119.66" cy="513.84" r="1.7" fill="#fff" stroke="#2a2a2a" stroke-width="1.0"/><circle cx="117.76" cy="516.48" r="1.7" fill="#fff" stroke="#2a2a2a" stroke-width="1.0"/><circle cx="113.96" cy="512.00" r="1.7" fill="#fff" stroke="#2a2a2a" stroke-width="1.0"/><circle cx="115.86" cy="518.20" r="1.7" fill="#fff" stroke="#2a2a2a" stroke-width="1.0"/>
<line x1="115.86" y1="513.23" x2="115.86" y2="516.77" stroke="#2d5f92" stroke-width="0.8" />
<line x1="114.06" y1="513.23" x2="117.66" y2="513.23" stroke="#2d5f92" stroke-width="0.8" />
<line x1="114.06" y1="516.77" x2="117.66" y2="516.77" stroke="#2d5f92" stroke-width="0.8" />
<line x1="112.06" y1="515.00" x2="119.66" y2="515.00" stroke="#25578b" stroke-width="1.6" />
<circle cx="111.51" cy="532.90" r="0.95" fill="#3d6f9f"/>
<circle cx="114.41" cy="532.90" r="0.95" fill="#3d6f9f"/>
<circle cx="117.31" cy="532.90" r="0.95" fill="#3d6f9f"/>
<circle cx="120.21" cy="532.90" r="0.95" fill="#3d6f9f"/>
<circle cx="127.48" cy="518.32" r="1.7" fill="#fff" stroke="#2a2a2a" stroke-width="1.0"/><circle cx="123.68" cy="519.78" r="1.7" fill="#fff" stroke="#2a2a2a" stroke-width="1.0"/><circle cx="123.68" cy="517.09" r="1.7" fill="#fff" stroke="#2a2a2a" stroke-width="1.0"/><circle cx="127.48" cy="521.25" r="1.7" fill="#fff" stroke="#2a2a2a" stroke-width="1.0"/><circle cx="127.48" cy="514.88" r="1.7" fill="#fff" stroke="#2a2a2a" stroke-width="1.0"/><circle cx="125.58" cy="523.40" r="1.7" fill="#fff" stroke="#2a2a2a" stroke-width="1.0"/><circle cx="127.48" cy="512.00" r="1.7" fill="#fff" stroke="#2a2a2a" stroke-width="1.0"/>
<line x1="127.48" y1="515.74" x2="127.48" y2="522.26" stroke="#2d5f92" stroke-width="0.8" />
<line x1="125.68" y1="515.74" x2="129.28" y2="515.74" stroke="#2d5f92" stroke-width="0.8" />
<line x1="125.68" y1="522.26" x2="129.28" y2="522.26" stroke="#2d5f92" stroke-width="0.8" />
<line x1="123.68" y1="519.00" x2="131.28" y2="519.00" stroke="#25578b" stroke-width="1.6" />
<circle cx="126.03" cy="528.60" r="0.95" fill="#3d6f9f"/>
<circle cx="128.93" cy="528.60" r="0.95" fill="#3d6f9f"/>
<circle cx="139.10" cy="484.33" r="1.7" fill="#fff" stroke="#2a2a2a" stroke-width="1.0"/><circle cx="135.30" cy="483.73" r="1.7" fill="#fff" stroke="#2a2a2a" stroke-width="1.0"/><circle cx="142.90" cy="485.25" r="1.7" fill="#fff" stroke="#2a2a2a" stroke-width="1.0"/><circle cx="137.20" cy="486.20" r="1.7" fill="#fff" stroke="#2a2a2a" stroke-width="1.0"/><circle cx="139.10" cy="481.80" r="1.7" fill="#fff" stroke="#2a2a2a" stroke-width="1.0"/>
<line x1="139.10" y1="483.14" x2="139.10" y2="485.66" stroke="#b3173d" stroke-width="0.8" />
<line x1="137.30" y1="483.14" x2="140.90" y2="483.14" stroke="#b3173d" stroke-width="0.8" />
<line x1="137.30" y1="485.66" x2="140.90" y2="485.66" stroke="#b3173d" stroke-width="0.8" />
<line x1="135.30" y1="484.40" x2="142.90" y2="484.40" stroke="#b3173d" stroke-width="1.6" />
<circle cx="134.75" cy="477.50" r="0.95" fill="#c8304f"/>
<circle cx="137.65" cy="477.50" r="0.95" fill="#c8304f"/>
<circle cx="140.55" cy="477.50" r="0.95" fill="#c8304f"/>
<circle cx="143.45" cy="477.50" r="0.95" fill="#c8304f"/>
<circle cx="150.72" cy="503.96" r="1.7" fill="#fff" stroke="#2a2a2a" stroke-width="1.0"/><circle cx="148.82" cy="502.30" r="1.7" fill="#fff" stroke="#2a2a2a" stroke-width="1.0"/><circle cx="150.72" cy="506.72" r="1.7" fill="#fff" stroke="#2a2a2a" stroke-width="1.0"/><circle cx="150.72" cy="498.30" r="1.7" fill="#fff" stroke="#2a2a2a" stroke-width="1.0"/><circle cx="150.72" cy="511.30" r="1.7" fill="#fff" stroke="#2a2a2a" stroke-width="1.0"/>
<line x1="150.72" y1="499.79" x2="150.72" y2="507.21" stroke="#f2a028" stroke-width="0.8" />
<line x1="148.92" y1="499.79" x2="152.52" y2="499.79" stroke="#f2a028" stroke-width="0.8" />
<line x1="148.92" y1="507.21" x2="152.52" y2="507.21" stroke="#f2a028" stroke-width="0.8" />
<line x1="146.92" y1="503.50" x2="154.52" y2="503.50" stroke="#f2a028" stroke-width="1.6" />
<line x1="170.60" y1="558.30" x2="170.60" y2="561.80" stroke="#222" stroke-width="1.0" />
<line x1="182.22" y1="558.30" x2="182.22" y2="561.80" stroke="#222" stroke-width="1.0" />
<line x1="193.84" y1="558.30" x2="193.84" y2="561.80" stroke="#222" stroke-width="1.0" />
<line x1="205.46" y1="558.30" x2="205.46" y2="561.80" stroke="#222" stroke-width="1.0" />
<line x1="217.08" y1="558.30" x2="217.08" y2="561.80" stroke="#222" stroke-width="1.0" />
<line x1="228.70" y1="558.30" x2="228.70" y2="561.80" stroke="#222" stroke-width="1.0" />
<line x1="240.32" y1="558.30" x2="240.32" y2="561.80" stroke="#222" stroke-width="1.0" />
<line x1="161.40" y1="499.50" x2="249.80" y2="499.50" stroke="#6e6e6e" stroke-width="1.3" stroke-dasharray="2.2,2"/>
<circle cx="170.60" cy="499.93" r="1.7" fill="#222" stroke="#2a2a2a" stroke-width="1.0"/><circle cx="169.10" cy="499.59" r="1.7" fill="#222" stroke="#2a2a2a" stroke-width="1.0"/><circle cx="172.10" cy="500.33" r="1.7" fill="#222" stroke="#2a2a2a" stroke-width="1.0"/><circle cx="167.60" cy="500.60" r="1.7" fill="#222" stroke="#2a2a2a" stroke-width="1.0"/><circle cx="172.10" cy="498.76" r="1.7" fill="#222" stroke="#2a2a2a" stroke-width="1.0"/><circle cx="167.60" cy="498.70" r="1.7" fill="#222" stroke="#2a2a2a" stroke-width="1.0"/><circle cx="173.60" cy="498.59" r="1.7" fill="#222" stroke="#2a2a2a" stroke-width="1.0"/><circle cx="170.60" cy="501.78" r="1.7" fill="#222" stroke="#2a2a2a" stroke-width="1.0"/><circle cx="169.10" cy="501.80" r="1.7" fill="#222" stroke="#2a2a2a" stroke-width="1.0"/><circle cx="170.60" cy="497.31" r="1.7" fill="#222" stroke="#2a2a2a" stroke-width="1.0"/><circle cx="169.10" cy="497.29" r="1.7" fill="#222" stroke="#2a2a2a" stroke-width="1.0"/><circle cx="172.10" cy="502.32" r="1.7" fill="#222" stroke="#2a2a2a" stroke-width="1.0"/><circle cx="172.10" cy="496.88" r="1.7" fill="#222" stroke="#2a2a2a" stroke-width="1.0"/><circle cx="167.60" cy="502.84" r="1.7" fill="#222" stroke="#2a2a2a" stroke-width="1.0"/><circle cx="173.60" cy="502.84" r="1.7" fill="#222" stroke="#2a2a2a" stroke-width="1.0"/><circle cx="167.60" cy="496.10" r="1.7" fill="#222" stroke="#2a2a2a" stroke-width="1.0"/><circle cx="170.60" cy="503.54" r="1.7" fill="#222" stroke="#2a2a2a" stroke-width="1.0"/><circle cx="169.10" cy="504.00" r="1.7" fill="#fff" stroke="#2a2a2a" stroke-width="1.0"/><circle cx="172.10" cy="504.46" r="1.7" fill="#fff" stroke="#2a2a2a" stroke-width="1.0"/><circle cx="167.60" cy="504.59" r="1.7" fill="#fff" stroke="#2a2a2a" stroke-width="1.0"/><circle cx="170.60" cy="494.50" r="1.7" fill="#fff" stroke="#2a2a2a" stroke-width="1.0"/><circle cx="170.60" cy="507.00" r="1.7" fill="#fff" stroke="#2a2a2a" stroke-width="1.0"/>
<line x1="170.60" y1="496.23" x2="170.60" y2="503.37" stroke="#111" stroke-width="0.8" />
<line x1="168.80" y1="496.23" x2="172.40" y2="496.23" stroke="#111" stroke-width="0.8" />
<line x1="168.80" y1="503.37" x2="172.40" y2="503.37" stroke="#111" stroke-width="0.8" />
<line x1="166.80" y1="499.80" x2="174.40" y2="499.80" stroke="#111" stroke-width="1.6" />
<circle cx="182.22" cy="510.68" r="1.7" fill="#fff" stroke="#2a2a2a" stroke-width="1.0"/><circle cx="180.32" cy="509.02" r="1.7" fill="#fff" stroke="#2a2a2a" stroke-width="1.0"/><circle cx="180.32" cy="512.86" r="1.7" fill="#fff" stroke="#2a2a2a" stroke-width="1.0"/><circle cx="182.22" cy="506.80" r="1.7" fill="#fff" stroke="#2a2a2a" stroke-width="1.0"/><circle cx="182.22" cy="516.70" r="1.7" fill="#fff" stroke="#2a2a2a" stroke-width="1.0"/><circle cx="182.22" cy="503.40" r="1.7" fill="#fff" stroke="#2a2a2a" stroke-width="1.0"/>
<line x1="182.22" y1="506.70" x2="182.22" y2="514.30" stroke="#2d5f92" stroke-width="0.8" />
<line x1="180.42" y1="506.70" x2="184.02" y2="506.70" stroke="#2d5f92" stroke-width="0.8" />
<line x1="180.42" y1="514.30" x2="184.02" y2="514.30" stroke="#2d5f92" stroke-width="0.8" />
<line x1="178.42" y1="510.50" x2="186.02" y2="510.50" stroke="#25578b" stroke-width="1.6" />
<circle cx="193.84" cy="538.09" r="1.7" fill="#fff" stroke="#2a2a2a" stroke-width="1.0"/><circle cx="190.04" cy="538.77" r="1.7" fill="#fff" stroke="#2a2a2a" stroke-width="1.0"/><circle cx="191.94" cy="536.37" r="1.7" fill="#fff" stroke="#2a2a2a" stroke-width="1.0"/><circle cx="191.94" cy="540.50" r="1.7" fill="#fff" stroke="#2a2a2a" stroke-width="1.0"/><circle cx="193.84" cy="534.30" r="1.7" fill="#fff" stroke="#2a2a2a" stroke-width="1.0"/>
<line x1="193.84" y1="536.13" x2="193.84" y2="539.67" stroke="#2d5f92" stroke-width="0.8" />
<line x1="192.04" y1="536.13" x2="195.64" y2="536.13" stroke="#2d5f92" stroke-width="0.8" />
<line x1="192.04" y1="539.67" x2="195.64" y2="539.67" stroke="#2d5f92" stroke-width="0.8" />
<line x1="190.04" y1="537.90" x2="197.64" y2="537.90" stroke="#25578b" stroke-width="1.6" />
<circle cx="189.49" cy="545.30" r="0.95" fill="#3d6f9f"/>
<circle cx="192.39" cy="545.30" r="0.95" fill="#3d6f9f"/>
<circle cx="195.29" cy="545.30" r="0.95" fill="#3d6f9f"/>
<circle cx="198.19" cy="545.30" r="0.95" fill="#3d6f9f"/>
<circle cx="205.46" cy="517.59" r="1.7" fill="#fff" stroke="#2a2a2a" stroke-width="1.0"/><circle cx="203.56" cy="519.38" r="1.7" fill="#fff" stroke="#2a2a2a" stroke-width="1.0"/><circle cx="201.66" cy="517.31" r="1.7" fill="#fff" stroke="#2a2a2a" stroke-width="1.0"/><circle cx="205.46" cy="521.10" r="1.7" fill="#fff" stroke="#2a2a2a" stroke-width="1.0"/><circle cx="205.46" cy="514.90" r="1.7" fill="#fff" stroke="#2a2a2a" stroke-width="1.0"/>
<line x1="205.46" y1="516.63" x2="205.46" y2="520.17" stroke="#2d5f92" stroke-width="0.8" />
<line x1="203.66" y1="516.63" x2="207.26" y2="516.63" stroke="#2d5f92" stroke-width="0.8" />
<line x1="203.66" y1="520.17" x2="207.26" y2="520.17" stroke="#2d5f92" stroke-width="0.8" />
<line x1="201.66" y1="518.40" x2="209.26" y2="518.40" stroke="#25578b" stroke-width="1.6" />
<circle cx="201.11" cy="525.90" r="0.95" fill="#3d6f9f"/>
<circle cx="204.01" cy="525.90" r="0.95" fill="#3d6f9f"/>
<circle cx="206.91" cy="525.90" r="0.95" fill="#3d6f9f"/>
<circle cx="209.81" cy="525.90" r="0.95" fill="#3d6f9f"/>
<circle cx="217.08" cy="520.15" r="1.7" fill="#fff" stroke="#2a2a2a" stroke-width="1.0"/><circle cx="213.28" cy="521.11" r="1.7" fill="#fff" stroke="#2a2a2a" stroke-width="1.0"/><circle cx="215.18" cy="518.46" r="1.7" fill="#fff" stroke="#2a2a2a" stroke-width="1.0"/><circle cx="218.98" cy="518.06" r="1.7" fill="#fff" stroke="#2a2a2a" stroke-width="1.0"/><circle cx="217.08" cy="523.70" r="1.7" fill="#fff" stroke="#2a2a2a" stroke-width="1.0"/><circle cx="217.08" cy="514.90" r="1.7" fill="#fff" stroke="#2a2a2a" stroke-width="1.0"/>
<line x1="217.08" y1="517.69" x2="217.08" y2="522.71" stroke="#2d5f92" stroke-width="0.8" />
<line x1="215.28" y1="517.69" x2="218.88" y2="517.69" stroke="#2d5f92" stroke-width="0.8" />
<line x1="215.28" y1="522.71" x2="218.88" y2="522.71" stroke="#2d5f92" stroke-width="0.8" />
<line x1="213.28" y1="520.20" x2="220.88" y2="520.20" stroke="#25578b" stroke-width="1.6" />
<circle cx="212.73" cy="531.30" r="0.95" fill="#3d6f9f"/>
<circle cx="215.63" cy="531.30" r="0.95" fill="#3d6f9f"/>
<circle cx="218.53" cy="531.30" r="0.95" fill="#3d6f9f"/>
<circle cx="221.43" cy="531.30" r="0.95" fill="#3d6f9f"/>
<circle cx="228.70" cy="489.24" r="1.7" fill="#fff" stroke="#2a2a2a" stroke-width="1.0"/><circle cx="224.90" cy="489.67" r="1.7" fill="#fff" stroke="#2a2a2a" stroke-width="1.0"/><circle cx="230.60" cy="490.87" r="1.7" fill="#fff" stroke="#2a2a2a" stroke-width="1.0"/><circle cx="226.80" cy="487.11" r="1.7" fill="#fff" stroke="#2a2a2a" stroke-width="1.0"/><circle cx="230.60" cy="485.70" r="1.7" fill="#fff" stroke="#2a2a2a" stroke-width="1.0"/><circle cx="228.70" cy="492.80" r="1.7" fill="#fff" stroke="#2a2a2a" stroke-width="1.0"/>
<line x1="228.70" y1="487.17" x2="228.70" y2="491.23" stroke="#b3173d" stroke-width="0.8" />
<line x1="226.90" y1="487.17" x2="230.50" y2="487.17" stroke="#b3173d" stroke-width="0.8" />
<line x1="226.90" y1="491.23" x2="230.50" y2="491.23" stroke="#b3173d" stroke-width="0.8" />
<line x1="224.90" y1="489.20" x2="232.50" y2="489.20" stroke="#b3173d" stroke-width="1.6" />
<circle cx="227.25" cy="480.00" r="0.95" fill="#c8304f"/>
<circle cx="230.15" cy="480.00" r="0.95" fill="#c8304f"/>
<circle cx="240.32" cy="507.65" r="1.7" fill="#fff" stroke="#2a2a2a" stroke-width="1.0"/><circle cx="238.42" cy="509.35" r="1.7" fill="#fff" stroke="#2a2a2a" stroke-width="1.0"/><circle cx="238.42" cy="505.39" r="1.7" fill="#fff" stroke="#2a2a2a" stroke-width="1.0"/><circle cx="240.32" cy="512.20" r="1.7" fill="#fff" stroke="#2a2a2a" stroke-width="1.0"/><circle cx="240.32" cy="502.50" r="1.7" fill="#fff" stroke="#2a2a2a" stroke-width="1.0"/>
<line x1="240.32" y1="505.03" x2="240.32" y2="510.57" stroke="#f2a028" stroke-width="0.8" />
<line x1="238.52" y1="505.03" x2="242.12" y2="505.03" stroke="#f2a028" stroke-width="0.8" />
<line x1="238.52" y1="510.57" x2="242.12" y2="510.57" stroke="#f2a028" stroke-width="0.8" />
<line x1="236.52" y1="507.80" x2="244.12" y2="507.80" stroke="#f2a028" stroke-width="1.6" />
<line x1="260.10" y1="558.30" x2="260.10" y2="561.80" stroke="#222" stroke-width="1.0" />
<line x1="271.72" y1="558.30" x2="271.72" y2="561.80" stroke="#222" stroke-width="1.0" />
<line x1="283.34" y1="558.30" x2="283.34" y2="561.80" stroke="#222" stroke-width="1.0" />
<line x1="294.96" y1="558.30" x2="294.96" y2="561.80" stroke="#222" stroke-width="1.0" />
<line x1="306.58" y1="558.30" x2="306.58" y2="561.80" stroke="#222" stroke-width="1.0" />
<line x1="318.20" y1="558.30" x2="318.20" y2="561.80" stroke="#222" stroke-width="1.0" />
<line x1="329.82" y1="558.30" x2="329.82" y2="561.80" stroke="#222" stroke-width="1.0" />
<line x1="251.80" y1="497.70" x2="338.90" y2="497.70" stroke="#6e6e6e" stroke-width="1.3" stroke-dasharray="2.2,2"/>
<circle cx="260.10" cy="497.99" r="1.7" fill="#222" stroke="#2a2a2a" stroke-width="1.0"/><circle cx="258.60" cy="498.25" r="1.7" fill="#222" stroke="#2a2a2a" stroke-width="1.0"/><circle cx="261.60" cy="498.45" r="1.7" fill="#222" stroke="#2a2a2a" stroke-width="1.0"/><circle cx="257.10" cy="497.33" r="1.7" fill="#222" stroke="#2a2a2a" stroke-width="1.0"/><circle cx="263.10" cy="497.27" r="1.7" fill="#222" stroke="#2a2a2a" stroke-width="1.0"/><circle cx="257.10" cy="499.14" r="1.7" fill="#222" stroke="#2a2a2a" stroke-width="1.0"/><circle cx="260.10" cy="499.49" r="1.7" fill="#222" stroke="#2a2a2a" stroke-width="1.0"/><circle cx="260.10" cy="496.24" r="1.7" fill="#222" stroke="#2a2a2a" stroke-width="1.0"/><circle cx="258.60" cy="499.81" r="1.7" fill="#222" stroke="#2a2a2a" stroke-width="1.0"/><circle cx="258.60" cy="495.73" r="1.7" fill="#fff" stroke="#2a2a2a" stroke-width="1.0"/><circle cx="261.60" cy="495.59" r="1.7" fill="#fff" stroke="#2a2a2a" stroke-width="1.0"/><circle cx="261.60" cy="500.70" r="1.7" fill="#fff" stroke="#2a2a2a" stroke-width="1.0"/><circle cx="257.10" cy="494.94" r="1.7" fill="#fff" stroke="#2a2a2a" stroke-width="1.0"/><circle cx="263.10" cy="494.91" r="1.7" fill="#fff" stroke="#2a2a2a" stroke-width="1.0"/><circle cx="260.10" cy="493.70" r="1.7" fill="#fff" stroke="#2a2a2a" stroke-width="1.0"/><circle cx="260.10" cy="505.50" r="1.7" fill="#fff" stroke="#2a2a2a" stroke-width="1.0"/>
<line x1="260.10" y1="496.00" x2="260.10" y2="500.00" stroke="#111" stroke-width="0.8" />
<line x1="258.30" y1="496.00" x2="261.90" y2="496.00" stroke="#111" stroke-width="0.8" />
<line x1="258.30" y1="500.00" x2="261.90" y2="500.00" stroke="#111" stroke-width="0.8" />
<line x1="256.30" y1="498.00" x2="263.90" y2="498.00" stroke="#111" stroke-width="1.6" />
<circle cx="271.72" cy="508.33" r="1.7" fill="#fff" stroke="#2a2a2a" stroke-width="1.0"/><circle cx="267.92" cy="507.15" r="1.7" fill="#fff" stroke="#2a2a2a" stroke-width="1.0"/><circle cx="269.82" cy="510.72" r="1.7" fill="#fff" stroke="#2a2a2a" stroke-width="1.0"/><circle cx="271.72" cy="504.50" r="1.7" fill="#fff" stroke="#2a2a2a" stroke-width="1.0"/><circle cx="271.72" cy="514.40" r="1.7" fill="#fff" stroke="#2a2a2a" stroke-width="1.0"/><circle cx="271.72" cy="500.70" r="1.7" fill="#fff" stroke="#2a2a2a" stroke-width="1.0"/>
<line x1="271.72" y1="503.89" x2="271.72" y2="511.71" stroke="#2d5f92" stroke-width="0.8" />
<line x1="269.92" y1="503.89" x2="273.52" y2="503.89" stroke="#2d5f92" stroke-width="0.8" />
<line x1="269.92" y1="511.71" x2="273.52" y2="511.71" stroke="#2d5f92" stroke-width="0.8" />
<line x1="267.92" y1="507.80" x2="275.52" y2="507.80" stroke="#25578b" stroke-width="1.6" />
<circle cx="271.72" cy="519.70" r="0.95" fill="#3d6f9f"/>
<circle cx="283.34" cy="536.82" r="1.7" fill="#fff" stroke="#2a2a2a" stroke-width="1.0"/><circle cx="281.44" cy="535.16" r="1.7" fill="#fff" stroke="#2a2a2a" stroke-width="1.0"/><circle cx="279.54" cy="537.68" r="1.7" fill="#fff" stroke="#2a2a2a" stroke-width="1.0"/><circle cx="285.24" cy="538.47" r="1.7" fill="#fff" stroke="#2a2a2a" stroke-width="1.0"/><circle cx="283.34" cy="533.50" r="1.7" fill="#fff" stroke="#2a2a2a" stroke-width="1.0"/><circle cx="283.34" cy="540.50" r="1.7" fill="#fff" stroke="#2a2a2a" stroke-width="1.0"/>
<line x1="283.34" y1="534.10" x2="283.34" y2="538.10" stroke="#2d5f92" stroke-width="0.8" />
<line x1="281.54" y1="534.10" x2="285.14" y2="534.10" stroke="#2d5f92" stroke-width="0.8" />
<line x1="281.54" y1="538.10" x2="285.14" y2="538.10" stroke="#2d5f92" stroke-width="0.8" />
<line x1="279.54" y1="536.10" x2="287.14" y2="536.10" stroke="#25578b" stroke-width="1.6" />
<circle cx="278.99" cy="546.40" r="0.95" fill="#3d6f9f"/>
<circle cx="281.89" cy="546.40" r="0.95" fill="#3d6f9f"/>
<circle cx="284.79" cy="546.40" r="0.95" fill="#3d6f9f"/>
<circle cx="287.69" cy="546.40" r="0.95" fill="#3d6f9f"/>
<circle cx="294.96" cy="520.42" r="1.7" fill="#fff" stroke="#2a2a2a" stroke-width="1.0"/><circle cx="291.16" cy="519.94" r="1.7" fill="#fff" stroke="#2a2a2a" stroke-width="1.0"/><circle cx="298.76" cy="521.65" r="1.7" fill="#fff" stroke="#2a2a2a" stroke-width="1.0"/><circle cx="300.66" cy="519.58" r="1.7" fill="#fff" stroke="#2a2a2a" stroke-width="1.0"/><circle cx="293.06" cy="522.80" r="1.7" fill="#fff" stroke="#2a2a2a" stroke-width="1.0"/><circle cx="296.86" cy="518.40" r="1.7" fill="#fff" stroke="#2a2a2a" stroke-width="1.0"/>
<line x1="294.96" y1="519.44" x2="294.96" y2="521.96" stroke="#2d5f92" stroke-width="0.8" />
<line x1="293.16" y1="519.44" x2="296.76" y2="519.44" stroke="#2d5f92" stroke-width="0.8" />
<line x1="293.16" y1="521.96" x2="296.76" y2="521.96" stroke="#2d5f92" stroke-width="0.8" />
<line x1="291.16" y1="520.70" x2="298.76" y2="520.70" stroke="#25578b" stroke-width="1.6" />
<circle cx="290.61" cy="529.40" r="0.95" fill="#3d6f9f"/>
<circle cx="293.51" cy="529.40" r="0.95" fill="#3d6f9f"/>
<circle cx="296.41" cy="529.40" r="0.95" fill="#3d6f9f"/>
<circle cx="299.31" cy="529.40" r="0.95" fill="#3d6f9f"/>
<circle cx="306.58" cy="520.78" r="1.7" fill="#fff" stroke="#2a2a2a" stroke-width="1.0"/><circle cx="302.78" cy="520.11" r="1.7" fill="#fff" stroke="#2a2a2a" stroke-width="1.0"/><circle cx="310.38" cy="521.48" r="1.7" fill="#fff" stroke="#2a2a2a" stroke-width="1.0"/><circle cx="304.68" cy="522.79" r="1.7" fill="#fff" stroke="#2a2a2a" stroke-width="1.0"/><circle cx="304.68" cy="518.40" r="1.7" fill="#fff" stroke="#2a2a2a" stroke-width="1.0"/><circle cx="306.58" cy="524.60" r="1.7" fill="#fff" stroke="#2a2a2a" stroke-width="1.0"/>
<line x1="306.58" y1="518.93" x2="306.58" y2="522.47" stroke="#2d5f92" stroke-width="0.8" />
<line x1="304.78" y1="518.93" x2="308.38" y2="518.93" stroke="#2d5f92" stroke-width="0.8" />
<line x1="304.78" y1="522.47" x2="308.38" y2="522.47" stroke="#2d5f92" stroke-width="0.8" />
<line x1="302.78" y1="520.70" x2="310.38" y2="520.70" stroke="#25578b" stroke-width="1.6" />
<circle cx="302.23" cy="534.90" r="0.95" fill="#3d6f9f"/>
<circle cx="305.13" cy="534.90" r="0.95" fill="#3d6f9f"/>
<circle cx="308.03" cy="534.90" r="0.95" fill="#3d6f9f"/>
<circle cx="310.93" cy="534.90" r="0.95" fill="#3d6f9f"/>
<circle cx="318.20" cy="486.23" r="1.7" fill="#fff" stroke="#2a2a2a" stroke-width="1.0"/><circle cx="314.40" cy="485.44" r="1.7" fill="#fff" stroke="#2a2a2a" stroke-width="1.0"/><circle cx="322.00" cy="486.82" r="1.7" fill="#fff" stroke="#2a2a2a" stroke-width="1.0"/><circle cx="312.50" cy="487.07" r="1.7" fill="#fff" stroke="#2a2a2a" stroke-width="1.0"/><circle cx="325.80" cy="487.77" r="1.7" fill="#fff" stroke="#2a2a2a" stroke-width="1.0"/><circle cx="320.10" cy="484.03" r="1.7" fill="#fff" stroke="#2a2a2a" stroke-width="1.0"/><circle cx="318.20" cy="482.20" r="1.7" fill="#fff" stroke="#2a2a2a" stroke-width="1.0"/><circle cx="318.20" cy="490.10" r="1.7" fill="#fff" stroke="#2a2a2a" stroke-width="1.0"/>
<line x1="318.20" y1="483.74" x2="318.20" y2="488.26" stroke="#b3173d" stroke-width="0.8" />
<line x1="316.40" y1="483.74" x2="320.00" y2="483.74" stroke="#b3173d" stroke-width="0.8" />
<line x1="316.40" y1="488.26" x2="320.00" y2="488.26" stroke="#b3173d" stroke-width="0.8" />
<line x1="314.40" y1="486.00" x2="322.00" y2="486.00" stroke="#b3173d" stroke-width="1.6" />
<circle cx="313.85" cy="476.80" r="0.95" fill="#c8304f"/>
<circle cx="316.75" cy="476.80" r="0.95" fill="#c8304f"/>
<circle cx="319.65" cy="476.80" r="0.95" fill="#c8304f"/>
<circle cx="322.55" cy="476.80" r="0.95" fill="#c8304f"/>
<circle cx="329.82" cy="508.61" r="1.7" fill="#fff" stroke="#2a2a2a" stroke-width="1.0"/><circle cx="326.02" cy="509.60" r="1.7" fill="#fff" stroke="#2a2a2a" stroke-width="1.0"/><circle cx="333.62" cy="507.30" r="1.7" fill="#fff" stroke="#2a2a2a" stroke-width="1.0"/>
<line x1="329.82" y1="507.84" x2="329.82" y2="509.16" stroke="#f2a028" stroke-width="0.8" />
<line x1="328.02" y1="507.84" x2="331.62" y2="507.84" stroke="#f2a028" stroke-width="0.8" />
<line x1="328.02" y1="509.16" x2="331.62" y2="509.16" stroke="#f2a028" stroke-width="0.8" />
<line x1="326.02" y1="508.50" x2="333.62" y2="508.50" stroke="#f2a028" stroke-width="1.6" />
<circle cx="325.47" cy="515.40" r="0.95" fill="#eea030"/>
<circle cx="328.37" cy="515.40" r="0.95" fill="#eea030"/>
<circle cx="331.27" cy="515.40" r="0.95" fill="#eea030"/>
<circle cx="334.17" cy="515.40" r="0.95" fill="#eea030"/>
<line x1="350.30" y1="558.30" x2="350.30" y2="561.80" stroke="#222" stroke-width="1.0" />
<line x1="361.92" y1="558.30" x2="361.92" y2="561.80" stroke="#222" stroke-width="1.0" />
<line x1="373.54" y1="558.30" x2="373.54" y2="561.80" stroke="#222" stroke-width="1.0" />
<line x1="385.16" y1="558.30" x2="385.16" y2="561.80" stroke="#222" stroke-width="1.0" />
<line x1="396.78" y1="558.30" x2="396.78" y2="561.80" stroke="#222" stroke-width="1.0" />
<line x1="408.40" y1="558.30" x2="408.40" y2="561.80" stroke="#222" stroke-width="1.0" />
<line x1="420.02" y1="558.30" x2="420.02" y2="561.80" stroke="#222" stroke-width="1.0" />
<line x1="340.90" y1="499.50" x2="426.00" y2="499.50" stroke="#6e6e6e" stroke-width="1.3" stroke-dasharray="2.2,2"/>
<circle cx="350.30" cy="498.74" r="1.7" fill="#fff" stroke="#2a2a2a" stroke-width="1.0"/><circle cx="346.90" cy="498.40" r="1.7" fill="#fff" stroke="#2a2a2a" stroke-width="1.0"/><circle cx="353.70" cy="499.83" r="1.7" fill="#fff" stroke="#2a2a2a" stroke-width="1.0"/><circle cx="352.00" cy="497.23" r="1.7" fill="#fff" stroke="#2a2a2a" stroke-width="1.0"/><circle cx="350.30" cy="501.73" r="1.7" fill="#fff" stroke="#2a2a2a" stroke-width="1.0"/><circle cx="348.60" cy="496.17" r="1.7" fill="#fff" stroke="#2a2a2a" stroke-width="1.0"/><circle cx="346.90" cy="502.67" r="1.7" fill="#fff" stroke="#2a2a2a" stroke-width="1.0"/><circle cx="352.00" cy="495.12" r="1.7" fill="#fff" stroke="#2a2a2a" stroke-width="1.0"/><circle cx="352.00" cy="503.64" r="1.7" fill="#fff" stroke="#2a2a2a" stroke-width="1.0"/><circle cx="355.40" cy="503.65" r="1.7" fill="#fff" stroke="#2a2a2a" stroke-width="1.0"/><circle cx="346.90" cy="494.24" r="1.7" fill="#fff" stroke="#2a2a2a" stroke-width="1.0"/><circle cx="350.30" cy="491.00" r="1.7" fill="#fff" stroke="#2a2a2a" stroke-width="1.0"/><circle cx="350.30" cy="507.30" r="1.7" fill="#fff" stroke="#2a2a2a" stroke-width="1.0"/>
<line x1="350.30" y1="494.34" x2="350.30" y2="503.66" stroke="#111" stroke-width="0.8" />
<line x1="348.50" y1="494.34" x2="352.10" y2="494.34" stroke="#111" stroke-width="0.8" />
<line x1="348.50" y1="503.66" x2="352.10" y2="503.66" stroke="#111" stroke-width="0.8" />
<line x1="346.50" y1="499.00" x2="354.10" y2="499.00" stroke="#111" stroke-width="1.6" />
<circle cx="361.92" cy="507.10" r="1.7" fill="#fff" stroke="#2a2a2a" stroke-width="1.0"/><circle cx="361.92" cy="511.07" r="1.7" fill="#fff" stroke="#2a2a2a" stroke-width="1.0"/><circle cx="361.92" cy="504.27" r="1.7" fill="#fff" stroke="#2a2a2a" stroke-width="1.0"/><circle cx="361.92" cy="500.59" r="1.7" fill="#fff" stroke="#2a2a2a" stroke-width="1.0"/><circle cx="361.92" cy="516.70" r="1.7" fill="#fff" stroke="#2a2a2a" stroke-width="1.0"/><circle cx="361.92" cy="493.70" r="1.7" fill="#fff" stroke="#2a2a2a" stroke-width="1.0"/>
<line x1="361.92" y1="501.23" x2="361.92" y2="514.37" stroke="#2d5f92" stroke-width="0.8" />
<line x1="360.12" y1="501.23" x2="363.72" y2="501.23" stroke="#2d5f92" stroke-width="0.8" />
<line x1="360.12" y1="514.37" x2="363.72" y2="514.37" stroke="#2d5f92" stroke-width="0.8" />
<line x1="358.12" y1="507.80" x2="365.72" y2="507.80" stroke="#25578b" stroke-width="1.6" />
<circle cx="373.54" cy="535.91" r="1.7" fill="#fff" stroke="#2a2a2a" stroke-width="1.0"/><circle cx="371.64" cy="537.86" r="1.7" fill="#fff" stroke="#2a2a2a" stroke-width="1.0"/><circle cx="371.64" cy="534.20" r="1.7" fill="#fff" stroke="#2a2a2a" stroke-width="1.0"/><circle cx="375.44" cy="539.41" r="1.7" fill="#fff" stroke="#2a2a2a" stroke-width="1.0"/><circle cx="373.54" cy="530.80" r="1.7" fill="#fff" stroke="#2a2a2a" stroke-width="1.0"/><circle cx="373.54" cy="543.20" r="1.7" fill="#fff" stroke="#2a2a2a" stroke-width="1.0"/>
<line x1="373.54" y1="532.56" x2="373.54" y2="539.64" stroke="#2d5f92" stroke-width="0.8" />
<line x1="371.74" y1="532.56" x2="375.34" y2="532.56" stroke="#2d5f92" stroke-width="0.8" />
<line x1="371.74" y1="539.64" x2="375.34" y2="539.64" stroke="#2d5f92" stroke-width="0.8" />
<line x1="369.74" y1="536.10" x2="377.34" y2="536.10" stroke="#25578b" stroke-width="1.6" />
<circle cx="369.19" cy="549.40" r="0.95" fill="#3d6f9f"/>
<circle cx="372.09" cy="549.40" r="0.95" fill="#3d6f9f"/>
<circle cx="374.99" cy="549.40" r="0.95" fill="#3d6f9f"/>
<circle cx="377.89" cy="549.40" r="0.95" fill="#3d6f9f"/>
<circle cx="385.16" cy="520.53" r="1.7" fill="#fff" stroke="#2a2a2a" stroke-width="1.0"/><circle cx="381.36" cy="520.26" r="1.7" fill="#fff" stroke="#2a2a2a" stroke-width="1.0"/><circle cx="388.96" cy="518.96" r="1.7" fill="#fff" stroke="#2a2a2a" stroke-width="1.0"/><circle cx="383.26" cy="522.80" r="1.7" fill="#fff" stroke="#2a2a2a" stroke-width="1.0"/><circle cx="385.16" cy="517.30" r="1.7" fill="#fff" stroke="#2a2a2a" stroke-width="1.0"/><circle cx="383.26" cy="514.90" r="1.7" fill="#fff" stroke="#2a2a2a" stroke-width="1.0"/>
<line x1="385.16" y1="518.24" x2="385.16" y2="522.76" stroke="#2d5f92" stroke-width="0.8" />
<line x1="383.36" y1="518.24" x2="386.96" y2="518.24" stroke="#2d5f92" stroke-width="0.8" />
<line x1="383.36" y1="522.76" x2="386.96" y2="522.76" stroke="#2d5f92" stroke-width="0.8" />
<line x1="381.36" y1="520.50" x2="388.96" y2="520.50" stroke="#25578b" stroke-width="1.6" />
<circle cx="380.81" cy="529.00" r="0.95" fill="#3d6f9f"/>
<circle cx="383.71" cy="529.00" r="0.95" fill="#3d6f9f"/>
<circle cx="386.61" cy="529.00" r="0.95" fill="#3d6f9f"/>
<circle cx="389.51" cy="529.00" r="0.95" fill="#3d6f9f"/>
<circle cx="396.78" cy="520.08" r="1.7" fill="#fff" stroke="#2a2a2a" stroke-width="1.0"/><circle cx="392.98" cy="519.25" r="1.7" fill="#fff" stroke="#2a2a2a" stroke-width="1.0"/><circle cx="394.88" cy="521.83" r="1.7" fill="#fff" stroke="#2a2a2a" stroke-width="1.0"/><circle cx="398.68" cy="523.13" r="1.7" fill="#fff" stroke="#2a2a2a" stroke-width="1.0"/><circle cx="396.78" cy="517.57" r="1.7" fill="#fff" stroke="#2a2a2a" stroke-width="1.0"/><circle cx="396.78" cy="526.40" r="1.7" fill="#fff" stroke="#2a2a2a" stroke-width="1.0"/><circle cx="396.78" cy="514.40" r="1.7" fill="#fff" stroke="#2a2a2a" stroke-width="1.0"/>
<line x1="396.78" y1="517.07" x2="396.78" y2="523.93" stroke="#2d5f92" stroke-width="0.8" />
<line x1="394.98" y1="517.07" x2="398.58" y2="517.07" stroke="#2d5f92" stroke-width="0.8" />
<line x1="394.98" y1="523.93" x2="398.58" y2="523.93" stroke="#2d5f92" stroke-width="0.8" />
<line x1="392.98" y1="520.50" x2="400.58" y2="520.50" stroke="#25578b" stroke-width="1.6" />
<circle cx="392.43" cy="534.30" r="0.95" fill="#3d6f9f"/>
<circle cx="395.33" cy="534.30" r="0.95" fill="#3d6f9f"/>
<circle cx="398.23" cy="534.30" r="0.95" fill="#3d6f9f"/>
<circle cx="401.13" cy="534.30" r="0.95" fill="#3d6f9f"/>
<circle cx="408.40" cy="479.89" r="1.7" fill="#fff" stroke="#2a2a2a" stroke-width="1.0"/><circle cx="406.50" cy="482.22" r="1.7" fill="#fff" stroke="#2a2a2a" stroke-width="1.0"/><circle cx="410.30" cy="483.36" r="1.7" fill="#fff" stroke="#2a2a2a" stroke-width="1.0"/><circle cx="408.40" cy="476.80" r="1.7" fill="#fff" stroke="#2a2a2a" stroke-width="1.0"/><circle cx="408.40" cy="487.10" r="1.7" fill="#fff" stroke="#2a2a2a" stroke-width="1.0"/>
<line x1="408.40" y1="477.76" x2="408.40" y2="483.64" stroke="#b3173d" stroke-width="0.8" />
<line x1="406.60" y1="477.76" x2="410.20" y2="477.76" stroke="#b3173d" stroke-width="0.8" />
<line x1="406.60" y1="483.64" x2="410.20" y2="483.64" stroke="#b3173d" stroke-width="0.8" />
<line x1="404.60" y1="480.70" x2="412.20" y2="480.70" stroke="#b3173d" stroke-width="1.6" />
<circle cx="404.05" cy="473.30" r="0.95" fill="#c8304f"/>
<circle cx="406.95" cy="473.30" r="0.95" fill="#c8304f"/>
<circle cx="409.85" cy="473.30" r="0.95" fill="#c8304f"/>
<circle cx="412.75" cy="473.30" r="0.95" fill="#c8304f"/>
<circle cx="420.02" cy="510.97" r="1.7" fill="#fff" stroke="#2a2a2a" stroke-width="1.0"/><circle cx="416.22" cy="511.30" r="1.7" fill="#fff" stroke="#2a2a2a" stroke-width="1.0"/><circle cx="423.82" cy="509.60" r="1.7" fill="#fff" stroke="#2a2a2a" stroke-width="1.0"/>
<line x1="420.02" y1="510.01" x2="420.02" y2="510.99" stroke="#f2a028" stroke-width="0.8" />
<line x1="418.22" y1="510.01" x2="421.82" y2="510.01" stroke="#f2a028" stroke-width="0.8" />
<line x1="418.22" y1="510.99" x2="421.82" y2="510.99" stroke="#f2a028" stroke-width="0.8" />
<line x1="416.22" y1="510.50" x2="423.82" y2="510.50" stroke="#f2a028" stroke-width="1.6" />
<circle cx="415.67" cy="516.10" r="0.95" fill="#eea030"/>
<circle cx="418.57" cy="516.10" r="0.95" fill="#eea030"/>
<circle cx="421.47" cy="516.10" r="0.95" fill="#eea030"/>
<circle cx="424.37" cy="516.10" r="0.95" fill="#eea030"/>
<line x1="160.50" y1="470.00" x2="160.50" y2="558.30" stroke="#555" stroke-width="0.9" stroke-dasharray="1,1" shape-rendering="crispEdges"/>
<line x1="250.50" y1="470.00" x2="250.50" y2="558.30" stroke="#555" stroke-width="0.9" stroke-dasharray="1,1" shape-rendering="crispEdges"/>
<line x1="339.50" y1="470.00" x2="339.50" y2="558.30" stroke="#555" stroke-width="0.9" stroke-dasharray="1,1" shape-rendering="crispEdges"/>
<text x="82.70" y="568.80" font-size="6.5" fill="#383838" stroke="#383838" stroke-width="0.2" text-anchor="end" transform="rotate(-45 82.70 568.80)">CTL</text>
<text x="94.32" y="568.80" font-size="6.5" fill="#383838" stroke="#383838" stroke-width="0.2" text-anchor="end" transform="rotate(-45 94.32 568.80)">R170H/Y</text>
<text x="105.94" y="568.80" font-size="6.5" fill="#383838" stroke="#383838" stroke-width="0.2" text-anchor="end" transform="rotate(-45 105.94 568.80)">R411H/Y</text>
<text x="117.56" y="568.80" font-size="6.5" fill="#383838" stroke="#383838" stroke-width="0.2" text-anchor="end" transform="rotate(-45 117.56 568.80)">R452H/Y</text>
<text x="129.18" y="568.80" font-size="6.5" fill="#383838" stroke="#383838" stroke-width="0.2" text-anchor="end" transform="rotate(-45 129.18 568.80)">ins14/Y</text>
<text x="140.80" y="568.80" font-size="6.5" fill="#383838" stroke="#383838" stroke-width="0.2" text-anchor="end" transform="rotate(-45 140.80 568.80)">Q548X/Y</text>
<text x="152.42" y="568.80" font-size="6.5" fill="#383838" stroke="#383838" stroke-width="0.2" text-anchor="end" transform="rotate(-45 152.42 568.80)">EPP</text>
<text x="172.30" y="568.80" font-size="6.5" fill="#383838" stroke="#383838" stroke-width="0.2" text-anchor="end" transform="rotate(-45 172.30 568.80)">CTL</text>
<text x="183.92" y="568.80" font-size="6.5" fill="#383838" stroke="#383838" stroke-width="0.2" text-anchor="end" transform="rotate(-45 183.92 568.80)">R170H/Y</text>
<text x="195.54" y="568.80" font-size="6.5" fill="#383838" stroke="#383838" stroke-width="0.2" text-anchor="end" transform="rotate(-45 195.54 568.80)">R411H/Y</text>
<text x="207.16" y="568.80" font-size="6.5" fill="#383838" stroke="#383838" stroke-width="0.2" text-anchor="end" transform="rotate(-45 207.16 568.80)">R452H/Y</text>
<text x="218.78" y="568.80" font-size="6.5" fill="#383838" stroke="#383838" stroke-width="0.2" text-anchor="end" transform="rotate(-45 218.78 568.80)">ins14/Y</text>
<text x="230.40" y="568.80" font-size="6.5" fill="#383838" stroke="#383838" stroke-width="0.2" text-anchor="end" transform="rotate(-45 230.40 568.80)">Q548X/Y</text>
<text x="242.02" y="568.80" font-size="6.5" fill="#383838" stroke="#383838" stroke-width="0.2" text-anchor="end" transform="rotate(-45 242.02 568.80)">EPP</text>
<text x="261.80" y="568.80" font-size="6.5" fill="#383838" stroke="#383838" stroke-width="0.2" text-anchor="end" transform="rotate(-45 261.80 568.80)">CTL</text>
<text x="273.42" y="568.80" font-size="6.5" fill="#383838" stroke="#383838" stroke-width="0.2" text-anchor="end" transform="rotate(-45 273.42 568.80)">R170H/Y</text>
<text x="285.04" y="568.80" font-size="6.5" fill="#383838" stroke="#383838" stroke-width="0.2" text-anchor="end" transform="rotate(-45 285.04 568.80)">R411H/Y</text>
<text x="296.66" y="568.80" font-size="6.5" fill="#383838" stroke="#383838" stroke-width="0.2" text-anchor="end" transform="rotate(-45 296.66 568.80)">R452H/Y</text>
<text x="308.28" y="568.80" font-size="6.5" fill="#383838" stroke="#383838" stroke-width="0.2" text-anchor="end" transform="rotate(-45 308.28 568.80)">ins14/Y</text>
<text x="319.90" y="568.80" font-size="6.5" fill="#383838" stroke="#383838" stroke-width="0.2" text-anchor="end" transform="rotate(-45 319.90 568.80)">Q548X/Y</text>
<text x="331.52" y="568.80" font-size="6.5" fill="#383838" stroke="#383838" stroke-width="0.2" text-anchor="end" transform="rotate(-45 331.52 568.80)">EPP</text>
<text x="352.00" y="568.80" font-size="6.5" fill="#383838" stroke="#383838" stroke-width="0.2" text-anchor="end" transform="rotate(-45 352.00 568.80)">CTL</text>
<text x="363.62" y="568.80" font-size="6.5" fill="#383838" stroke="#383838" stroke-width="0.2" text-anchor="end" transform="rotate(-45 363.62 568.80)">R170H/Y</text>
<text x="375.24" y="568.80" font-size="6.5" fill="#383838" stroke="#383838" stroke-width="0.2" text-anchor="end" transform="rotate(-45 375.24 568.80)">R411H/Y</text>
<text x="386.86" y="568.80" font-size="6.5" fill="#383838" stroke="#383838" stroke-width="0.2" text-anchor="end" transform="rotate(-45 386.86 568.80)">R452H/Y</text>
<text x="398.48" y="568.80" font-size="6.5" fill="#383838" stroke="#383838" stroke-width="0.2" text-anchor="end" transform="rotate(-45 398.48 568.80)">ins14/Y</text>
<text x="410.10" y="568.80" font-size="6.5" fill="#383838" stroke="#383838" stroke-width="0.2" text-anchor="end" transform="rotate(-45 410.10 568.80)">Q548X/Y</text>
<text x="421.72" y="568.80" font-size="6.5" fill="#383838" stroke="#383838" stroke-width="0.2" text-anchor="end" transform="rotate(-45 421.72 568.80)">EPP</text>
<text x="7.50" y="617.30" font-size="11.5" fill="#111" text-anchor="start" font-weight="bold" stroke="#111" stroke-width="0.35">E</text>
<text x="88.40" y="616.90" font-size="9" fill="#383838" text-anchor="middle" font-weight="normal" stroke="#383838" stroke-width="0.12" >8 weeks</text>
<text x="191.00" y="617.30" font-size="9" fill="#383838" text-anchor="middle" font-weight="normal" stroke="#383838" stroke-width="0.12" >54 weeks</text>
<line x1="41.20" y1="623.40" x2="41.20" y2="694.90" stroke="#222" stroke-width="1.4" />
<line x1="37.70" y1="625.60" x2="41.20" y2="625.60" stroke="#222" stroke-width="1.0" />
<text x="35.00" y="628.20" font-size="7.3" fill="#2a2a2a" text-anchor="end" font-weight="normal" stroke="#2a2a2a" stroke-width="0.12" >8</text>
<line x1="37.70" y1="642.90" x2="41.20" y2="642.90" stroke="#222" stroke-width="1.0" />
<text x="35.00" y="645.50" font-size="7.3" fill="#2a2a2a" text-anchor="end" font-weight="normal" stroke="#2a2a2a" stroke-width="0.12" >6</text>
<line x1="37.70" y1="660.20" x2="41.20" y2="660.20" stroke="#222" stroke-width="1.0" />
<text x="35.00" y="662.80" font-size="7.3" fill="#2a2a2a" text-anchor="end" font-weight="normal" stroke="#2a2a2a" stroke-width="0.12" >4</text>
<line x1="37.70" y1="677.30" x2="41.20" y2="677.30" stroke="#222" stroke-width="1.0" />
<text x="35.00" y="679.90" font-size="7.3" fill="#2a2a2a" text-anchor="end" font-weight="normal" stroke="#2a2a2a" stroke-width="0.12" >2</text>
<line x1="37.70" y1="694.30" x2="41.20" y2="694.30" stroke="#222" stroke-width="1.0" />
<text x="35.00" y="696.90" font-size="7.3" fill="#2a2a2a" text-anchor="end" font-weight="normal" stroke="#2a2a2a" stroke-width="0.12" >0</text>
<text x="25.4" y="658.85" font-size="7.5" fill="#2a2a2a" stroke="#2a2a2a" stroke-width="0.22" text-anchor="middle" transform="rotate(-90 25.4 658.85)">Spleen/body (mg:g)</text>
<line x1="40.50" y1="694.30" x2="242.30" y2="694.30" stroke="#222" stroke-width="1.4" />
<line x1="42.00" y1="665.30" x2="140.00" y2="665.30" stroke="#6e6e6e" stroke-width="1.3" stroke-dasharray="2.2,2"/>
<line x1="142.00" y1="673.40" x2="242.00" y2="673.40" stroke="#6e6e6e" stroke-width="1.3" stroke-dasharray="2.2,2"/>
<line x1="141.50" y1="625.00" x2="141.50" y2="694.30" stroke="#8a8a8a" stroke-width="0.9" stroke-dasharray="1,1" shape-rendering="crispEdges"/>
<line x1="49.50" y1="694.30" x2="49.50" y2="697.80" stroke="#222" stroke-width="1.0" />
<line x1="62.90" y1="694.30" x2="62.90" y2="697.80" stroke="#222" stroke-width="1.0" />
<line x1="76.30" y1="694.30" x2="76.30" y2="697.80" stroke="#222" stroke-width="1.0" />
<line x1="89.70" y1="694.30" x2="89.70" y2="697.80" stroke="#222" stroke-width="1.0" />
<line x1="103.10" y1="694.30" x2="103.10" y2="697.80" stroke="#222" stroke-width="1.0" />
<line x1="116.50" y1="694.30" x2="116.50" y2="697.80" stroke="#222" stroke-width="1.0" />
<line x1="129.90" y1="694.30" x2="129.90" y2="697.80" stroke="#222" stroke-width="1.0" />
<circle cx="49.50" cy="665.40" r="1.7" fill="#222" stroke="#2a2a2a" stroke-width="1.0"/><circle cx="48.00" cy="665.05" r="1.7" fill="#222" stroke="#2a2a2a" stroke-width="1.0"/><circle cx="48.00" cy="666.74" r="1.7" fill="#222" stroke="#2a2a2a" stroke-width="1.0"/><circle cx="51.00" cy="666.77" r="1.7" fill="#222" stroke="#2a2a2a" stroke-width="1.0"/><circle cx="51.00" cy="664.00" r="1.7" fill="#222" stroke="#2a2a2a" stroke-width="1.0"/><circle cx="49.50" cy="667.72" r="1.7" fill="#222" stroke="#2a2a2a" stroke-width="1.0"/><circle cx="49.50" cy="663.29" r="1.7" fill="#222" stroke="#2a2a2a" stroke-width="1.0"/><circle cx="48.00" cy="669.06" r="1.7" fill="#222" stroke="#2a2a2a" stroke-width="1.0"/><circle cx="48.00" cy="661.91" r="1.7" fill="#222" stroke="#2a2a2a" stroke-width="1.0"/><circle cx="49.50" cy="661.24" r="1.7" fill="#fff" stroke="#2a2a2a" stroke-width="1.0"/><circle cx="51.00" cy="661.09" r="1.7" fill="#fff" stroke="#2a2a2a" stroke-width="1.0"/><circle cx="49.50" cy="671.00" r="1.7" fill="#fff" stroke="#2a2a2a" stroke-width="1.0"/><circle cx="49.50" cy="659.50" r="1.7" fill="#fff" stroke="#2a2a2a" stroke-width="1.0"/><circle cx="49.50" cy="657.00" r="1.7" fill="#fff" stroke="#2a2a2a" stroke-width="1.0"/>
<line x1="49.50" y1="661.70" x2="49.50" y2="669.70" stroke="#111" stroke-width="0.8" />
<line x1="47.70" y1="661.70" x2="51.30" y2="661.70" stroke="#111" stroke-width="0.8" />
<line x1="47.70" y1="669.70" x2="51.30" y2="669.70" stroke="#111" stroke-width="0.8" />
<line x1="45.70" y1="665.70" x2="53.30" y2="665.70" stroke="#111" stroke-width="1.6" />
<circle cx="62.90" cy="661.07" r="1.7" fill="#fff" stroke="#2a2a2a" stroke-width="1.0"/><circle cx="61.00" cy="659.04" r="1.7" fill="#fff" stroke="#2a2a2a" stroke-width="1.0"/><circle cx="59.10" cy="662.65" r="1.7" fill="#fff" stroke="#2a2a2a" stroke-width="1.0"/><circle cx="62.90" cy="664.55" r="1.7" fill="#fff" stroke="#2a2a2a" stroke-width="1.0"/><circle cx="62.90" cy="655.40" r="1.7" fill="#fff" stroke="#2a2a2a" stroke-width="1.0"/><circle cx="62.90" cy="669.20" r="1.7" fill="#fff" stroke="#2a2a2a" stroke-width="1.0"/>
<line x1="62.90" y1="656.66" x2="62.90" y2="664.54" stroke="#2d5f92" stroke-width="0.8" />
<line x1="61.10" y1="656.66" x2="64.70" y2="656.66" stroke="#2d5f92" stroke-width="0.8" />
<line x1="61.10" y1="664.54" x2="64.70" y2="664.54" stroke="#2d5f92" stroke-width="0.8" />
<line x1="59.10" y1="660.60" x2="66.70" y2="660.60" stroke="#25578b" stroke-width="1.6" />
<circle cx="76.30" cy="653.74" r="1.7" fill="#fff" stroke="#2a2a2a" stroke-width="1.0"/><circle cx="74.40" cy="655.91" r="1.7" fill="#fff" stroke="#2a2a2a" stroke-width="1.0"/><circle cx="72.50" cy="652.58" r="1.7" fill="#fff" stroke="#2a2a2a" stroke-width="1.0"/><circle cx="76.30" cy="658.00" r="1.7" fill="#fff" stroke="#2a2a2a" stroke-width="1.0"/><circle cx="76.30" cy="650.20" r="1.7" fill="#fff" stroke="#2a2a2a" stroke-width="1.0"/>
<line x1="76.30" y1="652.27" x2="76.30" y2="656.73" stroke="#2d5f92" stroke-width="0.8" />
<line x1="74.50" y1="652.27" x2="78.10" y2="652.27" stroke="#2d5f92" stroke-width="0.8" />
<line x1="74.50" y1="656.73" x2="78.10" y2="656.73" stroke="#2d5f92" stroke-width="0.8" />
<line x1="72.50" y1="654.50" x2="80.10" y2="654.50" stroke="#25578b" stroke-width="1.6" />
<circle cx="74.85" cy="644.10" r="0.95" fill="#3d6f9f"/>
<circle cx="77.75" cy="644.10" r="0.95" fill="#3d6f9f"/>
<circle cx="89.70" cy="668.30" r="1.7" fill="#fff" stroke="#2a2a2a" stroke-width="1.0"/><circle cx="85.90" cy="669.07" r="1.7" fill="#fff" stroke="#2a2a2a" stroke-width="1.0"/><circle cx="87.80" cy="666.60" r="1.7" fill="#fff" stroke="#2a2a2a" stroke-width="1.0"/><circle cx="93.50" cy="669.80" r="1.7" fill="#fff" stroke="#2a2a2a" stroke-width="1.0"/>
<line x1="89.70" y1="667.19" x2="89.70" y2="669.01" stroke="#2d5f92" stroke-width="0.8" />
<line x1="87.90" y1="667.19" x2="91.50" y2="667.19" stroke="#2d5f92" stroke-width="0.8" />
<line x1="87.90" y1="669.01" x2="91.50" y2="669.01" stroke="#2d5f92" stroke-width="0.8" />
<line x1="85.90" y1="668.10" x2="93.50" y2="668.10" stroke="#25578b" stroke-width="1.6" />
<circle cx="103.10" cy="661.42" r="1.7" fill="#fff" stroke="#2a2a2a" stroke-width="1.0"/><circle cx="101.20" cy="663.59" r="1.7" fill="#fff" stroke="#2a2a2a" stroke-width="1.0"/><circle cx="101.20" cy="659.34" r="1.7" fill="#fff" stroke="#2a2a2a" stroke-width="1.0"/><circle cx="103.10" cy="666.30" r="1.7" fill="#fff" stroke="#2a2a2a" stroke-width="1.0"/><circle cx="103.10" cy="656.00" r="1.7" fill="#fff" stroke="#2a2a2a" stroke-width="1.0"/><circle cx="103.10" cy="669.80" r="1.7" fill="#fff" stroke="#2a2a2a" stroke-width="1.0"/>
<line x1="103.10" y1="658.06" x2="103.10" y2="665.94" stroke="#2d5f92" stroke-width="0.8" />
<line x1="101.30" y1="658.06" x2="104.90" y2="658.06" stroke="#2d5f92" stroke-width="0.8" />
<line x1="101.30" y1="665.94" x2="104.90" y2="665.94" stroke="#2d5f92" stroke-width="0.8" />
<line x1="99.30" y1="662.00" x2="106.90" y2="662.00" stroke="#25578b" stroke-width="1.6" />
<circle cx="116.50" cy="663.51" r="1.7" fill="#fff" stroke="#2a2a2a" stroke-width="1.0"/><circle cx="114.60" cy="665.91" r="1.7" fill="#fff" stroke="#2a2a2a" stroke-width="1.0"/><circle cx="114.60" cy="661.11" r="1.7" fill="#fff" stroke="#2a2a2a" stroke-width="1.0"/><circle cx="116.50" cy="669.80" r="1.7" fill="#fff" stroke="#2a2a2a" stroke-width="1.0"/><circle cx="116.50" cy="657.00" r="1.7" fill="#fff" stroke="#2a2a2a" stroke-width="1.0"/>
<line x1="116.50" y1="660.00" x2="116.50" y2="669.00" stroke="#b3173d" stroke-width="0.8" />
<line x1="114.70" y1="660.00" x2="118.30" y2="660.00" stroke="#b3173d" stroke-width="0.8" />
<line x1="114.70" y1="669.00" x2="118.30" y2="669.00" stroke="#b3173d" stroke-width="0.8" />
<line x1="112.70" y1="664.50" x2="120.30" y2="664.50" stroke="#b3173d" stroke-width="1.6" />
<circle cx="129.90" cy="640.93" r="1.7" fill="#fff" stroke="#2a2a2a" stroke-width="1.0"/><circle cx="129.90" cy="644.58" r="1.7" fill="#fff" stroke="#2a2a2a" stroke-width="1.0"/><circle cx="129.90" cy="637.11" r="1.7" fill="#fff" stroke="#2a2a2a" stroke-width="1.0"/><circle cx="129.90" cy="649.70" r="1.7" fill="#fff" stroke="#2a2a2a" stroke-width="1.0"/><circle cx="129.90" cy="631.70" r="1.7" fill="#fff" stroke="#2a2a2a" stroke-width="1.0"/>
<line x1="129.90" y1="631.70" x2="129.90" y2="649.70" stroke="#f2a028" stroke-width="0.8" />
<line x1="128.10" y1="631.70" x2="131.70" y2="631.70" stroke="#f2a028" stroke-width="0.8" />
<line x1="128.10" y1="649.70" x2="131.70" y2="649.70" stroke="#f2a028" stroke-width="0.8" />
<line x1="126.10" y1="641.30" x2="133.70" y2="641.30" stroke="#f2a028" stroke-width="1.6" />
<circle cx="129.90" cy="626.40" r="0.95" fill="#eea030"/>
<text x="51.50" y="705.80" font-size="6.3" fill="#383838" stroke="#383838" stroke-width="0.2" text-anchor="end" transform="rotate(-45 51.50 705.80)">CTL</text>
<text x="64.90" y="705.80" font-size="6.3" fill="#383838" stroke="#383838" stroke-width="0.2" text-anchor="end" transform="rotate(-45 64.90 705.80)">R170H/Y</text>
<text x="78.30" y="705.80" font-size="6.3" fill="#383838" stroke="#383838" stroke-width="0.2" text-anchor="end" transform="rotate(-45 78.30 705.80)">R411H/Y</text>
<text x="91.70" y="705.80" font-size="6.3" fill="#383838" stroke="#383838" stroke-width="0.2" text-anchor="end" transform="rotate(-45 91.70 705.80)">R452H/Y</text>
<text x="105.10" y="705.80" font-size="6.3" fill="#383838" stroke="#383838" stroke-width="0.2" text-anchor="end" transform="rotate(-45 105.10 705.80)">ins14/Y</text>
<text x="118.50" y="705.80" font-size="6.3" fill="#383838" stroke="#383838" stroke-width="0.2" text-anchor="end" transform="rotate(-45 118.50 705.80)">Q548X/Y</text>
<text x="131.90" y="705.80" font-size="6.3" fill="#383838" stroke="#383838" stroke-width="0.2" text-anchor="end" transform="rotate(-45 131.90 705.80)">EPP</text>
<line x1="151.60" y1="694.30" x2="151.60" y2="697.80" stroke="#222" stroke-width="1.0" />
<line x1="165.05" y1="694.30" x2="165.05" y2="697.80" stroke="#222" stroke-width="1.0" />
<line x1="178.50" y1="694.30" x2="178.50" y2="697.80" stroke="#222" stroke-width="1.0" />
<line x1="191.95" y1="694.30" x2="191.95" y2="697.80" stroke="#222" stroke-width="1.0" />
<line x1="205.40" y1="694.30" x2="205.40" y2="697.80" stroke="#222" stroke-width="1.0" />
<line x1="218.85" y1="694.30" x2="218.85" y2="697.80" stroke="#222" stroke-width="1.0" />
<line x1="232.30" y1="694.30" x2="232.30" y2="697.80" stroke="#222" stroke-width="1.0" />
<circle cx="151.60" cy="673.69" r="1.7" fill="#fff" stroke="#2a2a2a" stroke-width="1.0"/><circle cx="148.20" cy="674.83" r="1.7" fill="#fff" stroke="#2a2a2a" stroke-width="1.0"/><circle cx="153.30" cy="675.11" r="1.7" fill="#fff" stroke="#2a2a2a" stroke-width="1.0"/><circle cx="156.70" cy="675.80" r="1.7" fill="#fff" stroke="#2a2a2a" stroke-width="1.0"/><circle cx="149.90" cy="671.99" r="1.7" fill="#fff" stroke="#2a2a2a" stroke-width="1.0"/><circle cx="153.30" cy="671.45" r="1.7" fill="#fff" stroke="#2a2a2a" stroke-width="1.0"/><circle cx="151.60" cy="677.39" r="1.7" fill="#fff" stroke="#2a2a2a" stroke-width="1.0"/><circle cx="148.20" cy="678.43" r="1.7" fill="#fff" stroke="#2a2a2a" stroke-width="1.0"/><circle cx="151.60" cy="669.20" r="1.7" fill="#fff" stroke="#2a2a2a" stroke-width="1.0"/><circle cx="151.60" cy="681.20" r="1.7" fill="#fff" stroke="#2a2a2a" stroke-width="1.0"/><circle cx="151.60" cy="662.30" r="1.7" fill="#fff" stroke="#2a2a2a" stroke-width="1.0"/>
<line x1="151.60" y1="670.47" x2="151.60" y2="677.33" stroke="#111" stroke-width="0.8" />
<line x1="149.80" y1="670.47" x2="153.40" y2="670.47" stroke="#111" stroke-width="0.8" />
<line x1="149.80" y1="677.33" x2="153.40" y2="677.33" stroke="#111" stroke-width="0.8" />
<line x1="147.80" y1="673.90" x2="155.40" y2="673.90" stroke="#111" stroke-width="1.6" />
<circle cx="165.05" cy="680.00" r="1.7" fill="#fff" stroke="#2a2a2a" stroke-width="1.0"/><circle cx="161.25" cy="680.00" r="1.7" fill="#fff" stroke="#2a2a2a" stroke-width="1.0"/><circle cx="168.85" cy="678.94" r="1.7" fill="#fff" stroke="#2a2a2a" stroke-width="1.0"/><circle cx="165.05" cy="677.30" r="1.7" fill="#fff" stroke="#2a2a2a" stroke-width="1.0"/><circle cx="163.15" cy="682.00" r="1.7" fill="#fff" stroke="#2a2a2a" stroke-width="1.0"/>
<line x1="165.05" y1="678.26" x2="165.05" y2="680.94" stroke="#2d5f92" stroke-width="0.8" />
<line x1="163.25" y1="678.26" x2="166.85" y2="678.26" stroke="#2d5f92" stroke-width="0.8" />
<line x1="163.25" y1="680.94" x2="166.85" y2="680.94" stroke="#2d5f92" stroke-width="0.8" />
<line x1="161.25" y1="679.60" x2="168.85" y2="679.60" stroke="#25578b" stroke-width="1.6" />
<circle cx="178.50" cy="669.13" r="1.7" fill="#fff" stroke="#2a2a2a" stroke-width="1.0"/><circle cx="178.50" cy="672.34" r="1.7" fill="#fff" stroke="#2a2a2a" stroke-width="1.0"/><circle cx="178.50" cy="665.33" r="1.7" fill="#fff" stroke="#2a2a2a" stroke-width="1.0"/><circle cx="178.50" cy="676.60" r="1.7" fill="#fff" stroke="#2a2a2a" stroke-width="1.0"/><circle cx="178.50" cy="662.32" r="1.7" fill="#fff" stroke="#2a2a2a" stroke-width="1.0"/><circle cx="178.50" cy="656.50" r="1.7" fill="#fff" stroke="#2a2a2a" stroke-width="1.0"/>
<line x1="178.50" y1="663.96" x2="178.50" y2="675.44" stroke="#2d5f92" stroke-width="0.8" />
<line x1="176.70" y1="663.96" x2="180.30" y2="663.96" stroke="#2d5f92" stroke-width="0.8" />
<line x1="176.70" y1="675.44" x2="180.30" y2="675.44" stroke="#2d5f92" stroke-width="0.8" />
<line x1="174.70" y1="669.70" x2="182.30" y2="669.70" stroke="#25578b" stroke-width="1.6" />
<circle cx="191.95" cy="675.15" r="1.7" fill="#fff" stroke="#2a2a2a" stroke-width="1.0"/><circle cx="188.15" cy="676.40" r="1.7" fill="#fff" stroke="#2a2a2a" stroke-width="1.0"/><circle cx="188.15" cy="673.52" r="1.7" fill="#fff" stroke="#2a2a2a" stroke-width="1.0"/><circle cx="191.95" cy="671.06" r="1.7" fill="#fff" stroke="#2a2a2a" stroke-width="1.0"/><circle cx="191.95" cy="679.60" r="1.7" fill="#fff" stroke="#2a2a2a" stroke-width="1.0"/><circle cx="191.95" cy="668.00" r="1.7" fill="#fff" stroke="#2a2a2a" stroke-width="1.0"/>
<line x1="191.95" y1="671.69" x2="191.95" y2="678.31" stroke="#2d5f92" stroke-width="0.8" />
<line x1="190.15" y1="671.69" x2="193.75" y2="671.69" stroke="#2d5f92" stroke-width="0.8" />
<line x1="190.15" y1="678.31" x2="193.75" y2="678.31" stroke="#2d5f92" stroke-width="0.8" />
<line x1="188.15" y1="675.00" x2="195.75" y2="675.00" stroke="#25578b" stroke-width="1.6" />
<circle cx="205.40" cy="671.53" r="1.7" fill="#fff" stroke="#2a2a2a" stroke-width="1.0"/><circle cx="201.60" cy="672.63" r="1.7" fill="#fff" stroke="#2a2a2a" stroke-width="1.0"/><circle cx="203.50" cy="669.70" r="1.7" fill="#fff" stroke="#2a2a2a" stroke-width="1.0"/><circle cx="205.40" cy="674.11" r="1.7" fill="#fff" stroke="#2a2a2a" stroke-width="1.0"/><circle cx="205.40" cy="667.00" r="1.7" fill="#fff" stroke="#2a2a2a" stroke-width="1.0"/><circle cx="205.40" cy="677.30" r="1.7" fill="#fff" stroke="#2a2a2a" stroke-width="1.0"/>
<line x1="205.40" y1="668.56" x2="205.40" y2="674.44" stroke="#2d5f92" stroke-width="0.8" />
<line x1="203.60" y1="668.56" x2="207.20" y2="668.56" stroke="#2d5f92" stroke-width="0.8" />
<line x1="203.60" y1="674.44" x2="207.20" y2="674.44" stroke="#2d5f92" stroke-width="0.8" />
<line x1="201.60" y1="671.50" x2="209.20" y2="671.50" stroke="#25578b" stroke-width="1.6" />
<circle cx="218.85" cy="673.28" r="1.7" fill="#fff" stroke="#2a2a2a" stroke-width="1.0"/><circle cx="215.05" cy="674.64" r="1.7" fill="#fff" stroke="#2a2a2a" stroke-width="1.0"/><circle cx="216.95" cy="671.50" r="1.7" fill="#fff" stroke="#2a2a2a" stroke-width="1.0"/><circle cx="218.85" cy="676.18" r="1.7" fill="#fff" stroke="#2a2a2a" stroke-width="1.0"/><circle cx="216.95" cy="678.50" r="1.7" fill="#fff" stroke="#2a2a2a" stroke-width="1.0"/>
<line x1="218.85" y1="671.40" x2="218.85" y2="675.40" stroke="#b3173d" stroke-width="0.8" />
<line x1="217.05" y1="671.40" x2="220.65" y2="671.40" stroke="#b3173d" stroke-width="0.8" />
<line x1="217.05" y1="675.40" x2="220.65" y2="675.40" stroke="#b3173d" stroke-width="0.8" />
<line x1="215.05" y1="673.40" x2="222.65" y2="673.40" stroke="#b3173d" stroke-width="1.6" />
<circle cx="232.30" cy="655.92" r="1.7" fill="#fff" stroke="#2a2a2a" stroke-width="1.0"/><circle cx="232.30" cy="653.12" r="1.7" fill="#fff" stroke="#2a2a2a" stroke-width="1.0"/><circle cx="232.30" cy="658.80" r="1.7" fill="#fff" stroke="#2a2a2a" stroke-width="1.0"/><circle cx="232.30" cy="649.60" r="1.7" fill="#fff" stroke="#2a2a2a" stroke-width="1.0"/>
<line x1="232.30" y1="652.27" x2="232.30" y2="657.53" stroke="#f2a028" stroke-width="0.8" />
<line x1="230.50" y1="652.27" x2="234.10" y2="652.27" stroke="#f2a028" stroke-width="0.8" />
<line x1="230.50" y1="657.53" x2="234.10" y2="657.53" stroke="#f2a028" stroke-width="0.8" />
<line x1="228.50" y1="654.90" x2="236.10" y2="654.90" stroke="#f2a028" stroke-width="1.6" />
<circle cx="232.30" cy="644.30" r="0.95" fill="#eea030"/>
<text x="153.60" y="705.80" font-size="6.3" fill="#383838" stroke="#383838" stroke-width="0.2" text-anchor="end" transform="rotate(-45 153.60 705.80)">CTL</text>
<text x="167.05" y="705.80" font-size="6.3" fill="#383838" stroke="#383838" stroke-width="0.2" text-anchor="end" transform="rotate(-45 167.05 705.80)">R170H/Y</text>
<text x="180.50" y="705.80" font-size="6.3" fill="#383838" stroke="#383838" stroke-width="0.2" text-anchor="end" transform="rotate(-45 180.50 705.80)">R411H/Y</text>
<text x="193.95" y="705.80" font-size="6.3" fill="#383838" stroke="#383838" stroke-width="0.2" text-anchor="end" transform="rotate(-45 193.95 705.80)">R452H/Y</text>
<text x="207.40" y="705.80" font-size="6.3" fill="#383838" stroke="#383838" stroke-width="0.2" text-anchor="end" transform="rotate(-45 207.40 705.80)">ins14/Y</text>
<text x="220.85" y="705.80" font-size="6.3" fill="#383838" stroke="#383838" stroke-width="0.2" text-anchor="end" transform="rotate(-45 220.85 705.80)">Q548X/Y</text>
<text x="234.30" y="705.80" font-size="6.3" fill="#383838" stroke="#383838" stroke-width="0.2" text-anchor="end" transform="rotate(-45 234.30 705.80)">EPP</text>
<text x="258.50" y="617.30" font-size="11.5" fill="#111" text-anchor="start" font-weight="bold" stroke="#111" stroke-width="0.35">F</text>
<text x="350.50" y="617.00" font-size="9" fill="#383838" text-anchor="middle" font-weight="normal" stroke="#383838" stroke-width="0.12" >8 weeks</text>
<text x="453.40" y="617.00" font-size="9" fill="#383838" text-anchor="middle" font-weight="normal" stroke="#383838" stroke-width="0.12" >54 weeks</text>
<line x1="302.60" y1="623.30" x2="302.60" y2="694.30" stroke="#222" stroke-width="1.4" />
<line x1="299.10" y1="625.80" x2="302.60" y2="625.80" stroke="#222" stroke-width="1.0" />
<text x="296.40" y="628.40" font-size="6.5" fill="#2a2a2a" text-anchor="end" font-weight="normal" stroke="#2a2a2a" stroke-width="0.12" >1000</text>
<line x1="299.10" y1="639.60" x2="302.60" y2="639.60" stroke="#222" stroke-width="1.0" />
<text x="296.40" y="642.20" font-size="6.5" fill="#2a2a2a" text-anchor="end" font-weight="normal" stroke="#2a2a2a" stroke-width="0.12" >800</text>
<line x1="299.10" y1="652.90" x2="302.60" y2="652.90" stroke="#222" stroke-width="1.0" />
<text x="296.40" y="655.50" font-size="6.5" fill="#2a2a2a" text-anchor="end" font-weight="normal" stroke="#2a2a2a" stroke-width="0.12" >600</text>
<line x1="299.10" y1="666.90" x2="302.60" y2="666.90" stroke="#222" stroke-width="1.0" />
<text x="296.40" y="669.50" font-size="6.5" fill="#2a2a2a" text-anchor="end" font-weight="normal" stroke="#2a2a2a" stroke-width="0.12" >400</text>
<line x1="299.10" y1="680.40" x2="302.60" y2="680.40" stroke="#222" stroke-width="1.0" />
<text x="296.40" y="683.00" font-size="6.5" fill="#2a2a2a" text-anchor="end" font-weight="normal" stroke="#2a2a2a" stroke-width="0.12" >200</text>
<line x1="299.10" y1="693.70" x2="302.60" y2="693.70" stroke="#222" stroke-width="1.0" />
<text x="296.40" y="696.30" font-size="6.5" fill="#2a2a2a" text-anchor="end" font-weight="normal" stroke="#2a2a2a" stroke-width="0.12" >0</text>
<text x="276.0" y="658.50" font-size="7" fill="#2a2a2a" stroke="#2a2a2a" stroke-width="0.22" text-anchor="middle" transform="rotate(-90 276.0 658.50)">Serum EPO (pg/ml)</text>
<line x1="301.90" y1="693.70" x2="504.10" y2="693.70" stroke="#222" stroke-width="1.4" />
<line x1="303.50" y1="689.30" x2="402.50" y2="689.30" stroke="#6e6e6e" stroke-width="1.3" stroke-dasharray="2.2,2"/>
<line x1="404.50" y1="688.90" x2="504.00" y2="688.90" stroke="#6e6e6e" stroke-width="1.3" stroke-dasharray="2.2,2"/>
<line x1="403.50" y1="626.00" x2="403.50" y2="693.70" stroke="#8a8a8a" stroke-width="0.9" stroke-dasharray="1,1" shape-rendering="crispEdges"/>
<line x1="311.70" y1="693.70" x2="311.70" y2="697.20" stroke="#222" stroke-width="1.0" />
<line x1="325.05" y1="693.70" x2="325.05" y2="697.20" stroke="#222" stroke-width="1.0" />
<line x1="338.40" y1="693.70" x2="338.40" y2="697.20" stroke="#222" stroke-width="1.0" />
<line x1="351.75" y1="693.70" x2="351.75" y2="697.20" stroke="#222" stroke-width="1.0" />
<line x1="365.10" y1="693.70" x2="365.10" y2="697.20" stroke="#222" stroke-width="1.0" />
<line x1="378.45" y1="693.70" x2="378.45" y2="697.20" stroke="#222" stroke-width="1.0" />
<line x1="391.80" y1="693.70" x2="391.80" y2="697.20" stroke="#222" stroke-width="1.0" />
<circle cx="311.70" cy="690.25" r="1.7" fill="#fff" stroke="#2a2a2a" stroke-width="1.0"/><circle cx="307.90" cy="690.86" r="1.7" fill="#fff" stroke="#2a2a2a" stroke-width="1.0"/><circle cx="315.50" cy="691.51" r="1.7" fill="#fff" stroke="#2a2a2a" stroke-width="1.0"/><circle cx="304.10" cy="692.00" r="1.7" fill="#fff" stroke="#2a2a2a" stroke-width="1.0"/><circle cx="315.50" cy="688.90" r="1.7" fill="#fff" stroke="#2a2a2a" stroke-width="1.0"/>
<line x1="311.70" y1="689.61" x2="311.70" y2="691.39" stroke="#111" stroke-width="0.8" />
<line x1="309.90" y1="689.61" x2="313.50" y2="689.61" stroke="#111" stroke-width="0.8" />
<line x1="309.90" y1="691.39" x2="313.50" y2="691.39" stroke="#111" stroke-width="0.8" />
<line x1="307.90" y1="690.50" x2="315.50" y2="690.50" stroke="#111" stroke-width="1.6" />
<circle cx="325.05" cy="678.69" r="1.7" fill="#fff" stroke="#2a2a2a" stroke-width="1.0"/><circle cx="325.05" cy="675.88" r="1.7" fill="#fff" stroke="#2a2a2a" stroke-width="1.0"/><circle cx="323.15" cy="680.93" r="1.7" fill="#fff" stroke="#2a2a2a" stroke-width="1.0"/><circle cx="325.05" cy="672.95" r="1.7" fill="#fff" stroke="#2a2a2a" stroke-width="1.0"/><circle cx="325.05" cy="685.70" r="1.7" fill="#fff" stroke="#2a2a2a" stroke-width="1.0"/><circle cx="325.05" cy="667.70" r="1.7" fill="#fff" stroke="#2a2a2a" stroke-width="1.0"/>
<line x1="325.05" y1="672.66" x2="325.05" y2="682.94" stroke="#2d5f92" stroke-width="0.8" />
<line x1="323.25" y1="672.66" x2="326.85" y2="672.66" stroke="#2d5f92" stroke-width="0.8" />
<line x1="323.25" y1="682.94" x2="326.85" y2="682.94" stroke="#2d5f92" stroke-width="0.8" />
<line x1="321.25" y1="677.80" x2="328.85" y2="677.80" stroke="#25578b" stroke-width="1.6" />
<circle cx="338.40" cy="668.78" r="1.7" fill="#fff" stroke="#2a2a2a" stroke-width="1.0"/><circle cx="338.40" cy="672.41" r="1.7" fill="#fff" stroke="#2a2a2a" stroke-width="1.0"/><circle cx="338.40" cy="664.11" r="1.7" fill="#fff" stroke="#2a2a2a" stroke-width="1.0"/><circle cx="338.40" cy="679.30" r="1.7" fill="#fff" stroke="#2a2a2a" stroke-width="1.0"/><circle cx="338.40" cy="656.00" r="1.7" fill="#fff" stroke="#2a2a2a" stroke-width="1.0"/>
<line x1="338.40" y1="660.30" x2="338.40" y2="679.30" stroke="#2d5f92" stroke-width="0.8" />
<line x1="336.60" y1="660.30" x2="340.20" y2="660.30" stroke="#2d5f92" stroke-width="0.8" />
<line x1="336.60" y1="679.30" x2="340.20" y2="679.30" stroke="#2d5f92" stroke-width="0.8" />
<line x1="334.60" y1="669.80" x2="342.20" y2="669.80" stroke="#25578b" stroke-width="1.6" />
<circle cx="351.75" cy="687.83" r="1.7" fill="#fff" stroke="#2a2a2a" stroke-width="1.0"/><circle cx="349.85" cy="690.21" r="1.7" fill="#fff" stroke="#2a2a2a" stroke-width="1.0"/><circle cx="347.95" cy="686.41" r="1.7" fill="#fff" stroke="#2a2a2a" stroke-width="1.0"/><circle cx="351.75" cy="692.00" r="1.7" fill="#fff" stroke="#2a2a2a" stroke-width="1.0"/><circle cx="351.75" cy="683.60" r="1.7" fill="#fff" stroke="#2a2a2a" stroke-width="1.0"/>
<line x1="351.75" y1="686.50" x2="351.75" y2="691.30" stroke="#2d5f92" stroke-width="0.8" />
<line x1="349.95" y1="686.50" x2="353.55" y2="686.50" stroke="#2d5f92" stroke-width="0.8" />
<line x1="349.95" y1="691.30" x2="353.55" y2="691.30" stroke="#2d5f92" stroke-width="0.8" />
<line x1="347.95" y1="688.90" x2="355.55" y2="688.90" stroke="#25578b" stroke-width="1.6" />
<circle cx="365.10" cy="682.98" r="1.7" fill="#fff" stroke="#2a2a2a" stroke-width="1.0"/><circle cx="361.30" cy="684.41" r="1.7" fill="#fff" stroke="#2a2a2a" stroke-width="1.0"/><circle cx="367.00" cy="684.97" r="1.7" fill="#fff" stroke="#2a2a2a" stroke-width="1.0"/><circle cx="363.20" cy="681.06" r="1.7" fill="#fff" stroke="#2a2a2a" stroke-width="1.0"/><circle cx="365.10" cy="679.30" r="1.7" fill="#fff" stroke="#2a2a2a" stroke-width="1.0"/><circle cx="365.10" cy="687.80" r="1.7" fill="#fff" stroke="#2a2a2a" stroke-width="1.0"/>
<line x1="365.10" y1="680.67" x2="365.10" y2="685.53" stroke="#2d5f92" stroke-width="0.8" />
<line x1="363.30" y1="680.67" x2="366.90" y2="680.67" stroke="#2d5f92" stroke-width="0.8" />
<line x1="363.30" y1="685.53" x2="366.90" y2="685.53" stroke="#2d5f92" stroke-width="0.8" />
<line x1="361.30" y1="683.10" x2="368.90" y2="683.10" stroke="#25578b" stroke-width="1.6" />
<circle cx="365.10" cy="675.10" r="0.95" fill="#3d6f9f"/>
<circle cx="378.45" cy="689.50" r="1.7" fill="#fff" stroke="#2a2a2a" stroke-width="1.0"/><circle cx="374.65" cy="689.46" r="1.7" fill="#fff" stroke="#2a2a2a" stroke-width="1.0"/><circle cx="382.25" cy="690.69" r="1.7" fill="#fff" stroke="#2a2a2a" stroke-width="1.0"/><circle cx="382.25" cy="687.97" r="1.7" fill="#fff" stroke="#2a2a2a" stroke-width="1.0"/><circle cx="378.45" cy="693.00" r="1.7" fill="#fff" stroke="#2a2a2a" stroke-width="1.0"/><circle cx="378.45" cy="685.70" r="1.7" fill="#fff" stroke="#2a2a2a" stroke-width="1.0"/>
<line x1="378.45" y1="687.91" x2="378.45" y2="692.09" stroke="#b3173d" stroke-width="0.8" />
<line x1="376.65" y1="687.91" x2="380.25" y2="687.91" stroke="#b3173d" stroke-width="0.8" />
<line x1="376.65" y1="692.09" x2="380.25" y2="692.09" stroke="#b3173d" stroke-width="0.8" />
<line x1="374.65" y1="690.00" x2="382.25" y2="690.00" stroke="#b3173d" stroke-width="1.6" />
<circle cx="391.80" cy="681.98" r="1.7" fill="#fff" stroke="#2a2a2a" stroke-width="1.0"/><circle cx="389.90" cy="684.24" r="1.7" fill="#fff" stroke="#2a2a2a" stroke-width="1.0"/><circle cx="389.90" cy="680.00" r="1.7" fill="#fff" stroke="#2a2a2a" stroke-width="1.0"/><circle cx="391.80" cy="686.70" r="1.7" fill="#fff" stroke="#2a2a2a" stroke-width="1.0"/>
<line x1="391.80" y1="680.59" x2="391.80" y2="684.41" stroke="#f2a028" stroke-width="0.8" />
<line x1="390.00" y1="680.59" x2="393.60" y2="680.59" stroke="#f2a028" stroke-width="0.8" />
<line x1="390.00" y1="684.41" x2="393.60" y2="684.41" stroke="#f2a028" stroke-width="0.8" />
<line x1="388.00" y1="682.50" x2="395.60" y2="682.50" stroke="#f2a028" stroke-width="1.6" />
<text x="313.70" y="705.20" font-size="6.3" fill="#383838" stroke="#383838" stroke-width="0.2" text-anchor="end" transform="rotate(-45 313.70 705.20)">CTL</text>
<text x="327.05" y="705.20" font-size="6.3" fill="#383838" stroke="#383838" stroke-width="0.2" text-anchor="end" transform="rotate(-45 327.05 705.20)">R170H/Y</text>
<text x="340.40" y="705.20" font-size="6.3" fill="#383838" stroke="#383838" stroke-width="0.2" text-anchor="end" transform="rotate(-45 340.40 705.20)">R411H/Y</text>
<text x="353.75" y="705.20" font-size="6.3" fill="#383838" stroke="#383838" stroke-width="0.2" text-anchor="end" transform="rotate(-45 353.75 705.20)">R452H/Y</text>
<text x="367.10" y="705.20" font-size="6.3" fill="#383838" stroke="#383838" stroke-width="0.2" text-anchor="end" transform="rotate(-45 367.10 705.20)">ins14/Y</text>
<text x="380.45" y="705.20" font-size="6.3" fill="#383838" stroke="#383838" stroke-width="0.2" text-anchor="end" transform="rotate(-45 380.45 705.20)">Q548X/Y</text>
<text x="393.80" y="705.20" font-size="6.3" fill="#383838" stroke="#383838" stroke-width="0.2" text-anchor="end" transform="rotate(-45 393.80 705.20)">EPP</text>
<line x1="414.40" y1="693.70" x2="414.40" y2="697.20" stroke="#222" stroke-width="1.0" />
<line x1="427.80" y1="693.70" x2="427.80" y2="697.20" stroke="#222" stroke-width="1.0" />
<line x1="441.20" y1="693.70" x2="441.20" y2="697.20" stroke="#222" stroke-width="1.0" />
<line x1="454.60" y1="693.70" x2="454.60" y2="697.20" stroke="#222" stroke-width="1.0" />
<line x1="468.00" y1="693.70" x2="468.00" y2="697.20" stroke="#222" stroke-width="1.0" />
<line x1="481.40" y1="693.70" x2="481.40" y2="697.20" stroke="#222" stroke-width="1.0" />
<line x1="494.80" y1="693.70" x2="494.80" y2="697.20" stroke="#222" stroke-width="1.0" />
<circle cx="414.40" cy="688.71" r="1.7" fill="#fff" stroke="#2a2a2a" stroke-width="1.0"/><circle cx="412.50" cy="690.52" r="1.7" fill="#fff" stroke="#2a2a2a" stroke-width="1.0"/><circle cx="410.60" cy="687.73" r="1.7" fill="#fff" stroke="#2a2a2a" stroke-width="1.0"/><circle cx="416.30" cy="692.00" r="1.7" fill="#fff" stroke="#2a2a2a" stroke-width="1.0"/><circle cx="416.30" cy="686.51" r="1.7" fill="#fff" stroke="#2a2a2a" stroke-width="1.0"/><circle cx="414.40" cy="684.60" r="1.7" fill="#fff" stroke="#2a2a2a" stroke-width="1.0"/>
<line x1="414.40" y1="687.19" x2="414.40" y2="691.41" stroke="#111" stroke-width="0.8" />
<line x1="412.60" y1="687.19" x2="416.20" y2="687.19" stroke="#111" stroke-width="0.8" />
<line x1="412.60" y1="691.41" x2="416.20" y2="691.41" stroke="#111" stroke-width="0.8" />
<line x1="410.60" y1="689.30" x2="418.20" y2="689.30" stroke="#111" stroke-width="1.6" />
<circle cx="427.80" cy="682.24" r="1.7" fill="#fff" stroke="#2a2a2a" stroke-width="1.0"/><circle cx="425.90" cy="684.33" r="1.7" fill="#fff" stroke="#2a2a2a" stroke-width="1.0"/><circle cx="425.90" cy="680.29" r="1.7" fill="#fff" stroke="#2a2a2a" stroke-width="1.0"/><circle cx="427.80" cy="687.43" r="1.7" fill="#fff" stroke="#2a2a2a" stroke-width="1.0"/><circle cx="427.80" cy="675.70" r="1.7" fill="#fff" stroke="#2a2a2a" stroke-width="1.0"/><circle cx="427.80" cy="691.40" r="1.7" fill="#fff" stroke="#2a2a2a" stroke-width="1.0"/>
<line x1="427.80" y1="678.61" x2="427.80" y2="687.59" stroke="#2d5f92" stroke-width="0.8" />
<line x1="426.00" y1="678.61" x2="429.60" y2="678.61" stroke="#2d5f92" stroke-width="0.8" />
<line x1="426.00" y1="687.59" x2="429.60" y2="687.59" stroke="#2d5f92" stroke-width="0.8" />
<line x1="424.00" y1="683.10" x2="431.60" y2="683.10" stroke="#25578b" stroke-width="1.6" />
<circle cx="441.20" cy="672.60" r="1.7" fill="#fff" stroke="#2a2a2a" stroke-width="1.0"/><circle cx="439.30" cy="670.24" r="1.7" fill="#fff" stroke="#2a2a2a" stroke-width="1.0"/><circle cx="441.20" cy="676.60" r="1.7" fill="#fff" stroke="#2a2a2a" stroke-width="1.0"/><circle cx="441.20" cy="668.14" r="1.7" fill="#fff" stroke="#2a2a2a" stroke-width="1.0"/><circle cx="441.20" cy="664.98" r="1.7" fill="#fff" stroke="#2a2a2a" stroke-width="1.0"/><circle cx="441.20" cy="658.80" r="1.7" fill="#fff" stroke="#2a2a2a" stroke-width="1.0"/>
<line x1="441.20" y1="665.00" x2="441.20" y2="676.60" stroke="#2d5f92" stroke-width="0.8" />
<line x1="439.40" y1="665.00" x2="443.00" y2="665.00" stroke="#2d5f92" stroke-width="0.8" />
<line x1="439.40" y1="676.60" x2="443.00" y2="676.60" stroke="#2d5f92" stroke-width="0.8" />
<line x1="437.40" y1="672.60" x2="445.00" y2="672.60" stroke="#25578b" stroke-width="1.6" />
<circle cx="441.20" cy="653.30" r="0.95" fill="#3d6f9f"/>
<circle cx="454.60" cy="685.25" r="1.7" fill="#fff" stroke="#2a2a2a" stroke-width="1.0"/><circle cx="452.70" cy="683.37" r="1.7" fill="#fff" stroke="#2a2a2a" stroke-width="1.0"/><circle cx="454.60" cy="687.80" r="1.7" fill="#fff" stroke="#2a2a2a" stroke-width="1.0"/><circle cx="454.60" cy="679.30" r="1.7" fill="#fff" stroke="#2a2a2a" stroke-width="1.0"/><circle cx="454.60" cy="692.00" r="1.7" fill="#fff" stroke="#2a2a2a" stroke-width="1.0"/>
<line x1="454.60" y1="680.97" x2="454.60" y2="688.23" stroke="#2d5f92" stroke-width="0.8" />
<line x1="452.80" y1="680.97" x2="456.40" y2="680.97" stroke="#2d5f92" stroke-width="0.8" />
<line x1="452.80" y1="688.23" x2="456.40" y2="688.23" stroke="#2d5f92" stroke-width="0.8" />
<line x1="450.80" y1="684.60" x2="458.40" y2="684.60" stroke="#25578b" stroke-width="1.6" />
<circle cx="468.00" cy="675.26" r="1.7" fill="#fff" stroke="#2a2a2a" stroke-width="1.0"/><circle cx="464.20" cy="676.44" r="1.7" fill="#fff" stroke="#2a2a2a" stroke-width="1.0"/><circle cx="471.80" cy="674.31" r="1.7" fill="#fff" stroke="#2a2a2a" stroke-width="1.0"/><circle cx="466.10" cy="673.26" r="1.7" fill="#fff" stroke="#2a2a2a" stroke-width="1.0"/><circle cx="468.00" cy="678.44" r="1.7" fill="#fff" stroke="#2a2a2a" stroke-width="1.0"/><circle cx="468.00" cy="669.80" r="1.7" fill="#fff" stroke="#2a2a2a" stroke-width="1.0"/><circle cx="468.00" cy="681.40" r="1.7" fill="#fff" stroke="#2a2a2a" stroke-width="1.0"/>
<line x1="468.00" y1="672.19" x2="468.00" y2="678.81" stroke="#2d5f92" stroke-width="0.8" />
<line x1="466.20" y1="672.19" x2="469.80" y2="672.19" stroke="#2d5f92" stroke-width="0.8" />
<line x1="466.20" y1="678.81" x2="469.80" y2="678.81" stroke="#2d5f92" stroke-width="0.8" />
<line x1="464.20" y1="675.50" x2="471.80" y2="675.50" stroke="#25578b" stroke-width="1.6" />
<circle cx="468.00" cy="664.50" r="0.95" fill="#3d6f9f"/>
<circle cx="481.40" cy="687.66" r="1.7" fill="#fff" stroke="#2a2a2a" stroke-width="1.0"/><circle cx="477.60" cy="688.71" r="1.7" fill="#fff" stroke="#2a2a2a" stroke-width="1.0"/><circle cx="483.30" cy="689.36" r="1.7" fill="#fff" stroke="#2a2a2a" stroke-width="1.0"/><circle cx="479.50" cy="685.70" r="1.7" fill="#fff" stroke="#2a2a2a" stroke-width="1.0"/><circle cx="481.40" cy="692.00" r="1.7" fill="#fff" stroke="#2a2a2a" stroke-width="1.0"/>
<line x1="481.40" y1="686.00" x2="481.40" y2="689.60" stroke="#b3173d" stroke-width="0.8" />
<line x1="479.60" y1="686.00" x2="483.20" y2="686.00" stroke="#b3173d" stroke-width="0.8" />
<line x1="479.60" y1="689.60" x2="483.20" y2="689.60" stroke="#b3173d" stroke-width="0.8" />
<line x1="477.60" y1="687.80" x2="485.20" y2="687.80" stroke="#b3173d" stroke-width="1.6" />
<circle cx="494.80" cy="651.49" r="1.7" fill="#fff" stroke="#2a2a2a" stroke-width="1.0"/><circle cx="494.80" cy="671.50" r="1.7" fill="#fff" stroke="#2a2a2a" stroke-width="1.0"/><circle cx="494.80" cy="631.30" r="1.7" fill="#fff" stroke="#2a2a2a" stroke-width="1.0"/>
<line x1="494.80" y1="631.30" x2="494.80" y2="671.50" stroke="#f2a028" stroke-width="0.8" />
<line x1="493.00" y1="631.30" x2="496.60" y2="631.30" stroke="#f2a028" stroke-width="0.8" />
<line x1="493.00" y1="671.50" x2="496.60" y2="671.50" stroke="#f2a028" stroke-width="0.8" />
<line x1="491.00" y1="652.90" x2="498.60" y2="652.90" stroke="#f2a028" stroke-width="1.6" />
<text x="416.40" y="705.20" font-size="6.3" fill="#383838" stroke="#383838" stroke-width="0.2" text-anchor="end" transform="rotate(-45 416.40 705.20)">CTL</text>
<text x="429.80" y="705.20" font-size="6.3" fill="#383838" stroke="#383838" stroke-width="0.2" text-anchor="end" transform="rotate(-45 429.80 705.20)">R170H/Y</text>
<text x="443.20" y="705.20" font-size="6.3" fill="#383838" stroke="#383838" stroke-width="0.2" text-anchor="end" transform="rotate(-45 443.20 705.20)">R411H/Y</text>
<text x="456.60" y="705.20" font-size="6.3" fill="#383838" stroke="#383838" stroke-width="0.2" text-anchor="end" transform="rotate(-45 456.60 705.20)">R452H/Y</text>
<text x="470.00" y="705.20" font-size="6.3" fill="#383838" stroke="#383838" stroke-width="0.2" text-anchor="end" transform="rotate(-45 470.00 705.20)">ins14/Y</text>
<text x="483.40" y="705.20" font-size="6.3" fill="#383838" stroke="#383838" stroke-width="0.2" text-anchor="end" transform="rotate(-45 483.40 705.20)">Q548X/Y</text>
<text x="496.80" y="705.20" font-size="6.3" fill="#383838" stroke="#383838" stroke-width="0.2" text-anchor="end" transform="rotate(-45 496.80 705.20)">EPP</text>
<rect x="0.5" y="0.5" width="519" height="729" fill="none" stroke="#555" stroke-width="1"/>
</svg></body></html>
